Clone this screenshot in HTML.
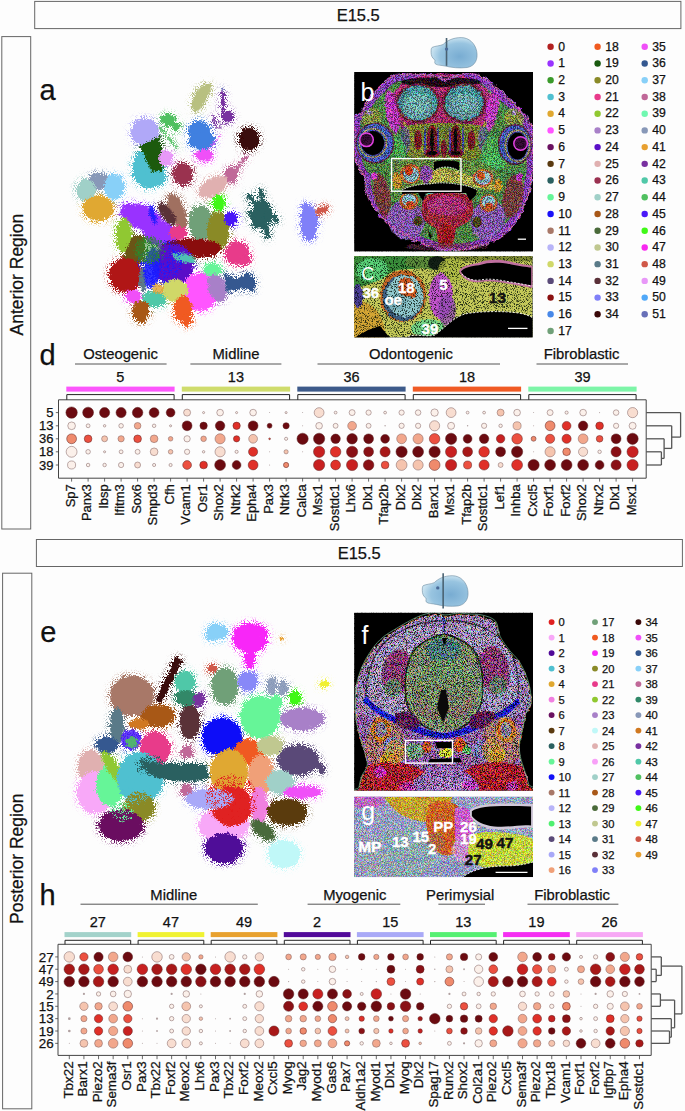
<!DOCTYPE html>
<html><head><meta charset="utf-8"><title>E15.5 figure</title>
<style>html,body{margin:0;padding:0;background:#fdfdfd;} body{width:685px;height:1111px;overflow:hidden;font-family:"Liberation Sans", sans-serif;} svg{display:block;}</style>
</head><body>
<svg width="685" height="1111" viewBox="0 0 685 1111" font-family="&quot;Liberation Sans&quot;, sans-serif"><defs>
<filter id="rough" x="-30%" y="-30%" width="160%" height="160%">
<feTurbulence type="fractalNoise" baseFrequency="0.35" numOctaves="2" seed="3" result="n"/>
<feDisplacementMap in="SourceGraphic" in2="n" scale="4" xChannelSelector="R" yChannelSelector="G"/>
</filter>
<filter id="spray" x="-5%" y="-5%" width="110%" height="110%">
<feTurbulence type="fractalNoise" baseFrequency="0.9" numOctaves="1" seed="13" result="n"/>
<feDisplacementMap in="SourceGraphic" in2="n" scale="7" xChannelSelector="R" yChannelSelector="G"/>
</filter>
<filter id="halo" x="-10%" y="-10%" width="120%" height="120%" color-interpolation-filters="sRGB">
<feGaussianBlur in="SourceGraphic" stdDeviation="3.5" result="bl"/>
<feTurbulence type="fractalNoise" baseFrequency="1.1" numOctaves="1" seed="9" result="n"/>
<feColorMatrix in="n" type="matrix" values="0 0 0 0 0  0 0 0 0 0  0 0 0 0 0  14 0 0 0 -7.6" result="nm"/>
<feComposite in="bl" in2="nm" operator="in" result="sp"/>
<feColorMatrix in="sp" type="matrix" values="1 0 0 0 0  0 1 0 0 0  0 0 1 0 0  0 0 0 4 0"/>
</filter>
<filter id="sparse" x="-20%" y="-20%" width="140%" height="140%">
<feTurbulence type="fractalNoise" baseFrequency="1.3" numOctaves="1" seed="21" result="n"/>
<feColorMatrix in="n" type="matrix" values="0 0 0 0 0  0 0 0 0 0  0 0 0 0 0  10 0 0 0 -5.2" result="nm"/>
<feComposite in="SourceGraphic" in2="nm" operator="in"/>
</filter>
<filter id="rough2" x="-10%" y="-10%" width="120%" height="120%">
<feTurbulence type="fractalNoise" baseFrequency="0.2" numOctaves="2" seed="7" result="n"/>
<feDisplacementMap in="SourceGraphic" in2="n" scale="5" xChannelSelector="R" yChannelSelector="G"/>
</filter>
<filter id="speck" x="0" y="0" width="100%" height="100%">
<feTurbulence type="fractalNoise" baseFrequency="1.1" numOctaves="2" seed="11" result="t"/>
<feColorMatrix in="t" type="matrix" values="0 0 0 0 0  0 0 0 0 0  0 0 0 0 0  7 0 0 0 -3.3" result="m"/>
<feFlood flood-color="#000"/>
<feComposite in2="m" operator="in"/>
</filter>
<filter id="speck2" x="0" y="0" width="100%" height="100%">
<feTurbulence type="fractalNoise" baseFrequency="1.1" numOctaves="2" seed="19" result="t"/>
<feColorMatrix in="t" type="matrix" values="0 0 0 0 0  0 0 0 0 0  0 0 0 0 0  6 0 0 0 -3.0" result="m"/>
<feFlood flood-color="#000"/>
<feComposite in2="m" operator="in"/>
</filter>
<filter id="speckG" x="0" y="0" width="100%" height="100%">
<feTurbulence type="fractalNoise" baseFrequency="1.0" numOctaves="2" seed="29" result="t"/>
<feColorMatrix in="t" type="matrix" values="0 0 0 0 0  0 0 0 0 0  0 0 0 0 0  8 0 0 0 -3.7" result="m"/>
<feFlood flood-color="#48e070"/>
<feComposite in2="m" operator="in"/>
</filter>
<filter id="conf" x="0" y="0" width="100%" height="100%" color-interpolation-filters="sRGB">
<feTurbulence type="fractalNoise" baseFrequency="1.3" numOctaves="1" seed="5" result="t"/>
<feColorMatrix in="t" type="matrix" values="5 0 0 0 -2  0 5 0 0 -2  0 0 5 0 -2  0 0 0 0 1" result="c"/>
<feComposite in="c" in2="SourceGraphic" operator="arithmetic" k1="0" k2="0.45" k3="1" k4="-0.225" result="m"/>
<feComposite in="m" in2="SourceAlpha" operator="in"/>
</filter>
<filter id="conf2" x="0" y="0" width="100%" height="100%" color-interpolation-filters="sRGB">
<feTurbulence type="fractalNoise" baseFrequency="1.3" numOctaves="1" seed="5" result="t"/>
<feColorMatrix in="t" type="matrix" values="5 0 0 0 -2  0 5 0 0 -2  0 0 5 0 -2  0 0 0 0 1" result="c"/>
<feComposite in="c" in2="SourceGraphic" operator="arithmetic" k1="0" k2="0.3" k3="1" k4="-0.15" result="m"/>
<feComposite in="m" in2="SourceAlpha" operator="in"/>
</filter>
<filter id="confetti" x="0" y="0" width="100%" height="100%">
<feTurbulence type="fractalNoise" baseFrequency="0.9" numOctaves="1" seed="4" result="t"/>
<feColorMatrix in="t" type="matrix" values="3 0 0 0 -1  0 3 0 0 -1  0 0 3 0 -1  0 0 0 0 1" result="c"/>
<feComposite in="c" in2="SourceGraphic" operator="in"/>
</filter>
<radialGradient id="headg" cx="0.62" cy="0.62" r="0.62"><stop offset="0" stop-color="#78acd2"/><stop offset="0.7" stop-color="#98c4e0"/><stop offset="1" stop-color="#c8e2f0"/></radialGradient>
<clipPath id="clipb"><rect x="354.2" y="72" width="178.8" height="179.4"/></clipPath>
<clipPath id="clipc"><rect x="354.2" y="256.3" width="178.3" height="81"/></clipPath>
<clipPath id="clipf"><rect x="354.2" y="612.8" width="178.8" height="177.8"/></clipPath>
<clipPath id="clipg"><rect x="354.2" y="796.7" width="178.8" height="80.4"/></clipPath>
</defs>
<rect x="34.7" y="1.4" width="646.2" height="27.2" fill="none" stroke="#666" stroke-width="1"/>
<text x="358.2" y="21.4" font-size="16.5" text-anchor="middle" fill="#111" stroke="#111" stroke-width="0.25" >E15.5</text>
<rect x="1.8" y="36.6" width="28.9" height="492.4" fill="none" stroke="#666" stroke-width="1"/>
<text transform="translate(22.6,274.6) rotate(-90)" font-size="17.5" text-anchor="middle" fill="#111" stroke="#111" stroke-width="0.25">Anterior Region</text>
<rect x="36.4" y="539.5" width="646" height="27" fill="none" stroke="#666" stroke-width="1"/>
<text x="359.2" y="559.3" font-size="16.5" text-anchor="middle" fill="#111" stroke="#111" stroke-width="0.25" >E15.5</text>
<rect x="2.6" y="573.2" width="29.2" height="535.6" fill="none" stroke="#666" stroke-width="1"/>
<text transform="translate(22.6,858.8) rotate(-90)" font-size="17.5" text-anchor="middle" fill="#111" stroke="#111" stroke-width="0.25">Posterior Region</text>
<text x="39.6" y="99.6" font-size="29" text-anchor="start" fill="#111" stroke="#111" stroke-width="0.25" >a</text>
<text x="39.6" y="364.6" font-size="29" text-anchor="start" fill="#111" stroke="#111" stroke-width="0.25" >d</text>
<text x="40.2" y="642.1" font-size="29" text-anchor="start" fill="#111" stroke="#111" stroke-width="0.25" >e</text>
<text x="39.4" y="905.0" font-size="29" text-anchor="start" fill="#111" stroke="#111" stroke-width="0.25" >h</text>
<g filter="url(#halo)"><ellipse cx="200" cy="98" rx="6.5" ry="14.5" fill="#b8c080" transform="rotate(25 200 98)" filter="url(#rough)"/>
<ellipse cx="207" cy="90" rx="4" ry="7" fill="#b8c080" transform="rotate(30 207 90)" filter="url(#rough)"/>
<line x1="222" y1="93" x2="224" y2="118" stroke="#7830a0" stroke-width="3.6" stroke-linecap="round" filter="url(#rough)"/>
<ellipse cx="228" cy="117" rx="5.5" ry="5.5" fill="#7830a0" filter="url(#rough)"/>
<line x1="213" y1="117" x2="216" y2="127" stroke="#7830a0" stroke-width="2.2" stroke-linecap="round" opacity="0.8" filter="url(#rough)"/>
<line x1="218" y1="121" x2="220" y2="128" stroke="#7830a0" stroke-width="1.8" stroke-linecap="round" opacity="0.7" filter="url(#rough)"/>
<ellipse cx="222.6" cy="88.6" rx="1.4" ry="1.4" fill="#6870b8"/>
<ellipse cx="145" cy="132" rx="14" ry="14" fill="#b0a8f8" filter="url(#rough)"/>
<ellipse cx="168" cy="120" rx="7" ry="6" fill="#50c060" filter="url(#rough)"/>
<ellipse cx="176" cy="127" rx="4" ry="4" fill="#50c060" filter="url(#rough)"/>
<line x1="160" y1="128" x2="177" y2="148" stroke="#50c060" stroke-width="2.6" stroke-linecap="round" opacity="0.85" filter="url(#rough)"/>
<ellipse cx="199" cy="131" rx="11" ry="10" fill="#4080e0" filter="url(#rough)"/>
<ellipse cx="202" cy="141" rx="13" ry="9" fill="#4080e0" filter="url(#rough)"/>
<ellipse cx="204" cy="155" rx="9" ry="5.5" fill="#f050f8" filter="url(#rough)"/>
<line x1="208" y1="150" x2="221" y2="135" stroke="#f050f8" stroke-width="1.6" stroke-linecap="round" opacity="0.7" filter="url(#rough)"/>
<ellipse cx="149" cy="168" rx="16" ry="20" fill="#50c0d0" filter="url(#rough)"/>
<ellipse cx="156" cy="176" rx="10" ry="10" fill="#50c0d0" filter="url(#rough)"/>
<path d="M140 146 L160 136 L163 170 L152 172 L146 160 Z" fill="#1a5a10" filter="url(#rough)"/>
<ellipse cx="166" cy="158" rx="7" ry="8" fill="#e898f8" filter="url(#rough)"/>
<ellipse cx="183" cy="174" rx="10" ry="11" fill="#9a3050" filter="url(#rough)"/>
<line x1="190" y1="171" x2="213" y2="171" stroke="#9a3050" stroke-width="2" stroke-linecap="round" opacity="0.7" filter="url(#rough)"/>
<ellipse cx="249" cy="139" rx="10" ry="11" fill="#3a0808" filter="url(#rough)"/>
<ellipse cx="242" cy="136" rx="3" ry="3" fill="#3a0808" filter="url(#rough)"/>
<ellipse cx="231" cy="175" rx="6" ry="8" fill="#c06898" filter="url(#rough)"/>
<line x1="234" y1="172" x2="247" y2="156" stroke="#c06898" stroke-width="3" stroke-linecap="round" filter="url(#rough)"/>
<ellipse cx="213" cy="187" rx="16" ry="9" fill="#e0b0b0" transform="rotate(-30 213 187)" filter="url(#rough)"/>
<ellipse cx="99" cy="181" rx="11" ry="8" fill="#8898b8" filter="url(#rough)"/>
<ellipse cx="86" cy="190" rx="10" ry="11" fill="#a0d0c8" filter="url(#rough)"/>
<ellipse cx="114" cy="187" rx="10" ry="13" fill="#88d0f8" filter="url(#rough)"/>
<ellipse cx="98" cy="208" rx="15.5" ry="12.5" fill="#e0a830" filter="url(#rough)"/>
<ellipse cx="262" cy="214" rx="10" ry="15" fill="#2a6060" filter="url(#rough)"/>
<line x1="249" y1="196" x2="262" y2="210" stroke="#2a6060" stroke-width="4.5" stroke-linecap="round" filter="url(#rough)"/>
<line x1="260" y1="190" x2="264" y2="208" stroke="#2a6060" stroke-width="4" stroke-linecap="round" filter="url(#rough)"/>
<line x1="266" y1="210" x2="276" y2="220" stroke="#2a6060" stroke-width="5" stroke-linecap="round" filter="url(#rough)"/>
<line x1="264" y1="218" x2="268" y2="236" stroke="#2a6060" stroke-width="5" stroke-linecap="round" filter="url(#rough)"/>
<line x1="250" y1="212" x2="256" y2="226" stroke="#2a6060" stroke-width="4" stroke-linecap="round" filter="url(#rough)"/>
<ellipse cx="309" cy="223" rx="8.5" ry="18" fill="#8080f8" filter="url(#rough)"/>
<ellipse cx="305" cy="208" rx="3" ry="5" fill="#8080f8" filter="url(#rough)"/>
<ellipse cx="322" cy="210.5" rx="7" ry="3.8" fill="#d05848" transform="rotate(-25 322 210.5)" filter="url(#rough)"/>
<ellipse cx="177" cy="212" rx="8" ry="19" fill="#a07060" transform="rotate(-20 177 212)" filter="url(#rough)"/>
<ellipse cx="167" cy="214" rx="5.5" ry="13" fill="#5a3038" transform="rotate(-35 167 214)" filter="url(#rough)"/>
<ellipse cx="201" cy="223" rx="12" ry="17" fill="#70a078" filter="url(#rough)"/>
<ellipse cx="218" cy="231" rx="11" ry="20" fill="#8a8a28" filter="url(#rough)"/>
<ellipse cx="219" cy="203" rx="6" ry="8" fill="#40f818" filter="url(#rough)"/>
<ellipse cx="231" cy="219" rx="7" ry="7" fill="#4a18f8" filter="url(#rough)"/>
<ellipse cx="237" cy="253" rx="12" ry="12" fill="#e83a8a" filter="url(#rough)"/>
<ellipse cx="245" cy="260" rx="5" ry="6" fill="#e83a8a" filter="url(#rough)"/>
<path d="M224 272 L236 280 L248 272 L255 280 L254 292 L244 288 L236 290 L226 292 Z" fill="#345890" filter="url(#rough)"/>
<ellipse cx="141" cy="217" rx="22" ry="12" fill="#9933ff" transform="rotate(22 141 217)" filter="url(#rough)"/>
<ellipse cx="160" cy="234" rx="19" ry="13" fill="#9933ff" transform="rotate(30 160 234)" filter="url(#rough)"/>
<ellipse cx="124" cy="235" rx="8" ry="17" fill="#90c830" filter="url(#rough)"/>
<path d="M122 262 L132 236 L146 236 L144 260 L134 268 Z" fill="#6a5518" filter="url(#rough)"/>
<ellipse cx="126" cy="275" rx="17" ry="17" fill="#b01818" filter="url(#rough)"/>
<ellipse cx="143" cy="280" rx="4" ry="12" fill="#5a7a88" filter="url(#rough)"/>
<ellipse cx="194" cy="248" rx="27" ry="9.5" fill="#8a1010" filter="url(#rough)"/>
<ellipse cx="172" cy="249" rx="10" ry="8" fill="#601048" opacity="0.9" filter="url(#rough)"/>
<ellipse cx="178" cy="233" rx="9" ry="7" fill="#e83a8a" filter="url(#rough)"/>
<ellipse cx="173" cy="264" rx="21" ry="20" fill="#5a10c8" filter="url(#rough)"/>
<ellipse cx="152" cy="268" rx="8" ry="20" fill="#1a1aff" transform="rotate(5 152 268)" opacity="0.9" filter="url(#rough)"/>
<ellipse cx="153" cy="215" rx="3" ry="10" fill="#1a1aff" transform="rotate(-15 153 215)" opacity="0.9" filter="url(#rough)"/>
<ellipse cx="148" cy="250" rx="13" ry="13" fill="#2a8a2a" opacity="0.5" filter="url(#rough)"/>
<ellipse cx="184" cy="258" rx="12" ry="4.5" fill="#50e0b0" transform="rotate(12 184 258)" opacity="0.85" filter="url(#rough)"/>
<ellipse cx="212" cy="270" rx="9" ry="7" fill="#66f598" filter="url(#rough)"/>
<ellipse cx="200" cy="292" rx="18" ry="19" fill="#ff55ff" filter="url(#rough)"/>
<ellipse cx="217" cy="288" rx="9" ry="14" fill="#a880c8" transform="rotate(-20 217 288)" filter="url(#rough)"/>
<ellipse cx="133" cy="296" rx="8" ry="7" fill="#f050f8" filter="url(#rough)"/>
<ellipse cx="154" cy="299" rx="12" ry="8" fill="#50c8a8" filter="url(#rough)"/>
<ellipse cx="175" cy="290" rx="13" ry="11" fill="#d0d868" filter="url(#rough)"/>
<ellipse cx="158" cy="289" rx="6" ry="5" fill="#e0a030" opacity="0.8" filter="url(#rough)"/>
<ellipse cx="160" cy="262" rx="22" ry="22" fill="#1a1aff" filter="url(#sparse)"/>
<ellipse cx="150" cy="250" rx="16" ry="14" fill="#2a8a2a" filter="url(#sparse)"/>
<ellipse cx="141" cy="311" rx="8.5" ry="11" fill="#a85818" filter="url(#rough)"/>
<ellipse cx="183" cy="309" rx="9" ry="13" fill="#f05a20" filter="url(#rough)"/>
<ellipse cx="187" cy="320" rx="5" ry="6" fill="#f05a20" filter="url(#rough)"/></g>
<g filter="url(#halo)"><ellipse cx="217" cy="632" rx="11" ry="8" fill="#88d0f8" filter="url(#rough)"/>
<ellipse cx="210" cy="638" rx="4" ry="3" fill="#88d0f8" filter="url(#rough)"/>
<ellipse cx="250" cy="638" rx="17" ry="15" fill="#f828f8" filter="url(#rough)"/>
<ellipse cx="262" cy="632" rx="6" ry="5" fill="#f828f8" filter="url(#rough)"/>
<ellipse cx="250" cy="658" rx="5" ry="11" fill="#f828f8" filter="url(#rough)"/>
<ellipse cx="281.5" cy="638.5" rx="1.8" ry="1.8" fill="#e8a030"/>
<ellipse cx="212" cy="669" rx="5" ry="4" fill="#d05848" filter="url(#rough)"/>
<ellipse cx="225" cy="686" rx="13" ry="18" fill="#70a078" filter="url(#rough)"/>
<ellipse cx="248" cy="681" rx="10" ry="10" fill="#8888f8" filter="url(#rough)"/>
<ellipse cx="272" cy="686" rx="5" ry="9" fill="#8898b8" opacity="0.9" filter="url(#rough)"/>
<ellipse cx="283" cy="688" rx="5" ry="8" fill="#8898b8" opacity="0.9" filter="url(#rough)"/>
<ellipse cx="295" cy="698" rx="6" ry="7" fill="#40f818" filter="url(#rough)"/>
<ellipse cx="324" cy="684" rx="5" ry="3" fill="#f0f030" filter="url(#rough)"/>
<ellipse cx="260" cy="717" rx="20" ry="21" fill="#66f598" filter="url(#rough)"/>
<ellipse cx="276" cy="702" rx="6" ry="8" fill="#66f598" filter="url(#rough)"/>
<ellipse cx="302" cy="719" rx="22" ry="11" fill="#a880c8" filter="url(#rough)"/>
<ellipse cx="222" cy="737" rx="20" ry="19" fill="#1010f8" filter="url(#rough)"/>
<ellipse cx="190" cy="722" rx="10" ry="17" fill="#5a3038" filter="url(#rough)"/>
<ellipse cx="132" cy="696" rx="22" ry="20" fill="#a87868" filter="url(#rough)"/>
<line x1="178" y1="661" x2="160" y2="699" stroke="#3a0808" stroke-width="7" stroke-linecap="round" filter="url(#rough)"/>
<ellipse cx="185" cy="682" rx="10" ry="11" fill="#50c8a8" filter="url(#rough)"/>
<ellipse cx="186" cy="698" rx="11" ry="8" fill="#308868" filter="url(#rough)"/>
<ellipse cx="199" cy="700" rx="6" ry="7" fill="#7830a0" filter="url(#rough)"/>
<ellipse cx="158" cy="716" rx="17" ry="11" fill="#a85818" filter="url(#rough)"/>
<ellipse cx="139" cy="724" rx="10" ry="5" fill="#d07820" filter="url(#rough)"/>
<ellipse cx="117" cy="726" rx="7" ry="18" fill="#5a7a88" filter="url(#rough)"/>
<ellipse cx="131" cy="740" rx="10" ry="10" fill="#4a18f8" opacity="0.85" filter="url(#rough)"/>
<ellipse cx="132" cy="742" rx="6" ry="6" fill="#50c060" opacity="0.9" filter="url(#rough)"/>
<ellipse cx="155" cy="749" rx="15" ry="17" fill="#e83a8a" filter="url(#rough)"/>
<ellipse cx="107" cy="745" rx="11" ry="8" fill="#345890" filter="url(#rough)"/>
<ellipse cx="187" cy="752" rx="6" ry="6" fill="#c06898" filter="url(#rough)"/>
<ellipse cx="91" cy="766" rx="13" ry="16" fill="#e0b0b0" filter="url(#rough)"/>
<ellipse cx="96" cy="792" rx="19" ry="21" fill="#f8a8f8" filter="url(#rough)"/>
<ellipse cx="110" cy="786" rx="14" ry="20" fill="#66f598" filter="url(#rough)"/>
<ellipse cx="113" cy="768" rx="6" ry="20" fill="#90c830" transform="rotate(-32 113 768)" filter="url(#rough)"/>
<ellipse cx="140" cy="778" rx="23" ry="26" fill="#50c0d0" filter="url(#rough)"/>
<path d="M140 760 C160 764 180 764 205 764 L210 778 C190 784 170 782 150 776 Z" fill="#2a6060" filter="url(#rough)"/>
<ellipse cx="139" cy="807" rx="15" ry="15" fill="#8a8a28" filter="url(#rough)"/>
<ellipse cx="121" cy="825" rx="22" ry="16" fill="#6a1060" filter="url(#rough)"/>
<ellipse cx="248" cy="752" rx="15" ry="13" fill="#f05a20" filter="url(#rough)"/>
<ellipse cx="270" cy="746" rx="13" ry="10" fill="#c0c890" filter="url(#rough)"/>
<ellipse cx="298" cy="760" rx="20" ry="15" fill="#5a4a78" filter="url(#rough)"/>
<line x1="310" y1="752" x2="322" y2="770" stroke="#5a4a78" stroke-width="6" stroke-linecap="round" filter="url(#rough)"/>
<ellipse cx="229" cy="772" rx="19" ry="23" fill="#e0a830" filter="url(#rough)"/>
<ellipse cx="261" cy="775" rx="13" ry="20" fill="#f0a078" filter="url(#rough)"/>
<ellipse cx="280" cy="782" rx="14" ry="12" fill="#a0d0c8" filter="url(#rough)"/>
<ellipse cx="302" cy="792" rx="19" ry="6" fill="#f050f8" filter="url(#rough)"/>
<ellipse cx="186" cy="790" rx="6" ry="6" fill="#c06898" filter="url(#rough)"/>
<ellipse cx="224" cy="825" rx="25" ry="17" fill="#f8a8f8" filter="url(#rough)"/>
<ellipse cx="232" cy="806" rx="20" ry="20" fill="#e02020" filter="url(#rough)"/>
<ellipse cx="210" cy="799" rx="24" ry="10" fill="#a8a8f8" filter="url(#rough)"/>
<ellipse cx="259" cy="805" rx="9" ry="18" fill="#f080e0" filter="url(#rough)"/>
<ellipse cx="287" cy="812" rx="20" ry="13" fill="#5a3a10" filter="url(#rough)"/>
<ellipse cx="263" cy="830" rx="14" ry="7" fill="#4a6a3a" transform="rotate(40 263 830)" filter="url(#rough)"/>
<ellipse cx="232" cy="800" rx="26" ry="26" fill="#e02020" filter="url(#sparse)"/>
<ellipse cx="224" cy="848" rx="19" ry="15" fill="#500898" filter="url(#rough)"/>
<ellipse cx="136" cy="790" rx="14" ry="14" fill="#50c0d0" filter="url(#sparse)"/>
<ellipse cx="122" cy="812" rx="12" ry="10" fill="#66f598" filter="url(#sparse)"/>
<ellipse cx="150" cy="765" rx="16" ry="10" fill="#2a6060" filter="url(#sparse)"/>
<ellipse cx="284" cy="854" rx="16" ry="14" fill="#c0f8f8" filter="url(#rough)"/></g>
<g filter="url(#spray)"><ellipse cx="200" cy="98" rx="6.5" ry="14.5" fill="#b8c080" transform="rotate(25 200 98)" filter="url(#rough)"/>
<ellipse cx="207" cy="90" rx="4" ry="7" fill="#b8c080" transform="rotate(30 207 90)" filter="url(#rough)"/>
<line x1="222" y1="93" x2="224" y2="118" stroke="#7830a0" stroke-width="3.6" stroke-linecap="round" filter="url(#rough)"/>
<ellipse cx="228" cy="117" rx="5.5" ry="5.5" fill="#7830a0" filter="url(#rough)"/>
<line x1="213" y1="117" x2="216" y2="127" stroke="#7830a0" stroke-width="2.2" stroke-linecap="round" opacity="0.8" filter="url(#rough)"/>
<line x1="218" y1="121" x2="220" y2="128" stroke="#7830a0" stroke-width="1.8" stroke-linecap="round" opacity="0.7" filter="url(#rough)"/>
<ellipse cx="222.6" cy="88.6" rx="1.4" ry="1.4" fill="#6870b8"/>
<ellipse cx="145" cy="132" rx="14" ry="14" fill="#b0a8f8" filter="url(#rough)"/>
<ellipse cx="168" cy="120" rx="7" ry="6" fill="#50c060" filter="url(#rough)"/>
<ellipse cx="176" cy="127" rx="4" ry="4" fill="#50c060" filter="url(#rough)"/>
<line x1="160" y1="128" x2="177" y2="148" stroke="#50c060" stroke-width="2.6" stroke-linecap="round" opacity="0.85" filter="url(#rough)"/>
<ellipse cx="199" cy="131" rx="11" ry="10" fill="#4080e0" filter="url(#rough)"/>
<ellipse cx="202" cy="141" rx="13" ry="9" fill="#4080e0" filter="url(#rough)"/>
<ellipse cx="204" cy="155" rx="9" ry="5.5" fill="#f050f8" filter="url(#rough)"/>
<line x1="208" y1="150" x2="221" y2="135" stroke="#f050f8" stroke-width="1.6" stroke-linecap="round" opacity="0.7" filter="url(#rough)"/>
<ellipse cx="149" cy="168" rx="16" ry="20" fill="#50c0d0" filter="url(#rough)"/>
<ellipse cx="156" cy="176" rx="10" ry="10" fill="#50c0d0" filter="url(#rough)"/>
<path d="M140 146 L160 136 L163 170 L152 172 L146 160 Z" fill="#1a5a10" filter="url(#rough)"/>
<ellipse cx="166" cy="158" rx="7" ry="8" fill="#e898f8" filter="url(#rough)"/>
<ellipse cx="183" cy="174" rx="10" ry="11" fill="#9a3050" filter="url(#rough)"/>
<line x1="190" y1="171" x2="213" y2="171" stroke="#9a3050" stroke-width="2" stroke-linecap="round" opacity="0.7" filter="url(#rough)"/>
<ellipse cx="249" cy="139" rx="10" ry="11" fill="#3a0808" filter="url(#rough)"/>
<ellipse cx="242" cy="136" rx="3" ry="3" fill="#3a0808" filter="url(#rough)"/>
<ellipse cx="231" cy="175" rx="6" ry="8" fill="#c06898" filter="url(#rough)"/>
<line x1="234" y1="172" x2="247" y2="156" stroke="#c06898" stroke-width="3" stroke-linecap="round" filter="url(#rough)"/>
<ellipse cx="213" cy="187" rx="16" ry="9" fill="#e0b0b0" transform="rotate(-30 213 187)" filter="url(#rough)"/>
<ellipse cx="99" cy="181" rx="11" ry="8" fill="#8898b8" filter="url(#rough)"/>
<ellipse cx="86" cy="190" rx="10" ry="11" fill="#a0d0c8" filter="url(#rough)"/>
<ellipse cx="114" cy="187" rx="10" ry="13" fill="#88d0f8" filter="url(#rough)"/>
<ellipse cx="98" cy="208" rx="15.5" ry="12.5" fill="#e0a830" filter="url(#rough)"/>
<ellipse cx="262" cy="214" rx="10" ry="15" fill="#2a6060" filter="url(#rough)"/>
<line x1="249" y1="196" x2="262" y2="210" stroke="#2a6060" stroke-width="4.5" stroke-linecap="round" filter="url(#rough)"/>
<line x1="260" y1="190" x2="264" y2="208" stroke="#2a6060" stroke-width="4" stroke-linecap="round" filter="url(#rough)"/>
<line x1="266" y1="210" x2="276" y2="220" stroke="#2a6060" stroke-width="5" stroke-linecap="round" filter="url(#rough)"/>
<line x1="264" y1="218" x2="268" y2="236" stroke="#2a6060" stroke-width="5" stroke-linecap="round" filter="url(#rough)"/>
<line x1="250" y1="212" x2="256" y2="226" stroke="#2a6060" stroke-width="4" stroke-linecap="round" filter="url(#rough)"/>
<ellipse cx="309" cy="223" rx="8.5" ry="18" fill="#8080f8" filter="url(#rough)"/>
<ellipse cx="305" cy="208" rx="3" ry="5" fill="#8080f8" filter="url(#rough)"/>
<ellipse cx="322" cy="210.5" rx="7" ry="3.8" fill="#d05848" transform="rotate(-25 322 210.5)" filter="url(#rough)"/>
<ellipse cx="177" cy="212" rx="8" ry="19" fill="#a07060" transform="rotate(-20 177 212)" filter="url(#rough)"/>
<ellipse cx="167" cy="214" rx="5.5" ry="13" fill="#5a3038" transform="rotate(-35 167 214)" filter="url(#rough)"/>
<ellipse cx="201" cy="223" rx="12" ry="17" fill="#70a078" filter="url(#rough)"/>
<ellipse cx="218" cy="231" rx="11" ry="20" fill="#8a8a28" filter="url(#rough)"/>
<ellipse cx="219" cy="203" rx="6" ry="8" fill="#40f818" filter="url(#rough)"/>
<ellipse cx="231" cy="219" rx="7" ry="7" fill="#4a18f8" filter="url(#rough)"/>
<ellipse cx="237" cy="253" rx="12" ry="12" fill="#e83a8a" filter="url(#rough)"/>
<ellipse cx="245" cy="260" rx="5" ry="6" fill="#e83a8a" filter="url(#rough)"/>
<path d="M224 272 L236 280 L248 272 L255 280 L254 292 L244 288 L236 290 L226 292 Z" fill="#345890" filter="url(#rough)"/>
<ellipse cx="141" cy="217" rx="22" ry="12" fill="#9933ff" transform="rotate(22 141 217)" filter="url(#rough)"/>
<ellipse cx="160" cy="234" rx="19" ry="13" fill="#9933ff" transform="rotate(30 160 234)" filter="url(#rough)"/>
<ellipse cx="124" cy="235" rx="8" ry="17" fill="#90c830" filter="url(#rough)"/>
<path d="M122 262 L132 236 L146 236 L144 260 L134 268 Z" fill="#6a5518" filter="url(#rough)"/>
<ellipse cx="126" cy="275" rx="17" ry="17" fill="#b01818" filter="url(#rough)"/>
<ellipse cx="143" cy="280" rx="4" ry="12" fill="#5a7a88" filter="url(#rough)"/>
<ellipse cx="194" cy="248" rx="27" ry="9.5" fill="#8a1010" filter="url(#rough)"/>
<ellipse cx="172" cy="249" rx="10" ry="8" fill="#601048" opacity="0.9" filter="url(#rough)"/>
<ellipse cx="178" cy="233" rx="9" ry="7" fill="#e83a8a" filter="url(#rough)"/>
<ellipse cx="173" cy="264" rx="21" ry="20" fill="#5a10c8" filter="url(#rough)"/>
<ellipse cx="152" cy="268" rx="8" ry="20" fill="#1a1aff" transform="rotate(5 152 268)" opacity="0.9" filter="url(#rough)"/>
<ellipse cx="153" cy="215" rx="3" ry="10" fill="#1a1aff" transform="rotate(-15 153 215)" opacity="0.9" filter="url(#rough)"/>
<ellipse cx="148" cy="250" rx="13" ry="13" fill="#2a8a2a" opacity="0.5" filter="url(#rough)"/>
<ellipse cx="184" cy="258" rx="12" ry="4.5" fill="#50e0b0" transform="rotate(12 184 258)" opacity="0.85" filter="url(#rough)"/>
<ellipse cx="212" cy="270" rx="9" ry="7" fill="#66f598" filter="url(#rough)"/>
<ellipse cx="200" cy="292" rx="18" ry="19" fill="#ff55ff" filter="url(#rough)"/>
<ellipse cx="217" cy="288" rx="9" ry="14" fill="#a880c8" transform="rotate(-20 217 288)" filter="url(#rough)"/>
<ellipse cx="133" cy="296" rx="8" ry="7" fill="#f050f8" filter="url(#rough)"/>
<ellipse cx="154" cy="299" rx="12" ry="8" fill="#50c8a8" filter="url(#rough)"/>
<ellipse cx="175" cy="290" rx="13" ry="11" fill="#d0d868" filter="url(#rough)"/>
<ellipse cx="158" cy="289" rx="6" ry="5" fill="#e0a030" opacity="0.8" filter="url(#rough)"/>
<ellipse cx="160" cy="262" rx="22" ry="22" fill="#1a1aff" filter="url(#sparse)"/>
<ellipse cx="150" cy="250" rx="16" ry="14" fill="#2a8a2a" filter="url(#sparse)"/>
<ellipse cx="141" cy="311" rx="8.5" ry="11" fill="#a85818" filter="url(#rough)"/>
<ellipse cx="183" cy="309" rx="9" ry="13" fill="#f05a20" filter="url(#rough)"/>
<ellipse cx="187" cy="320" rx="5" ry="6" fill="#f05a20" filter="url(#rough)"/></g>
<g filter="url(#spray)"><ellipse cx="217" cy="632" rx="11" ry="8" fill="#88d0f8" filter="url(#rough)"/>
<ellipse cx="210" cy="638" rx="4" ry="3" fill="#88d0f8" filter="url(#rough)"/>
<ellipse cx="250" cy="638" rx="17" ry="15" fill="#f828f8" filter="url(#rough)"/>
<ellipse cx="262" cy="632" rx="6" ry="5" fill="#f828f8" filter="url(#rough)"/>
<ellipse cx="250" cy="658" rx="5" ry="11" fill="#f828f8" filter="url(#rough)"/>
<ellipse cx="281.5" cy="638.5" rx="1.8" ry="1.8" fill="#e8a030"/>
<ellipse cx="212" cy="669" rx="5" ry="4" fill="#d05848" filter="url(#rough)"/>
<ellipse cx="225" cy="686" rx="13" ry="18" fill="#70a078" filter="url(#rough)"/>
<ellipse cx="248" cy="681" rx="10" ry="10" fill="#8888f8" filter="url(#rough)"/>
<ellipse cx="272" cy="686" rx="5" ry="9" fill="#8898b8" opacity="0.9" filter="url(#rough)"/>
<ellipse cx="283" cy="688" rx="5" ry="8" fill="#8898b8" opacity="0.9" filter="url(#rough)"/>
<ellipse cx="295" cy="698" rx="6" ry="7" fill="#40f818" filter="url(#rough)"/>
<ellipse cx="324" cy="684" rx="5" ry="3" fill="#f0f030" filter="url(#rough)"/>
<ellipse cx="260" cy="717" rx="20" ry="21" fill="#66f598" filter="url(#rough)"/>
<ellipse cx="276" cy="702" rx="6" ry="8" fill="#66f598" filter="url(#rough)"/>
<ellipse cx="302" cy="719" rx="22" ry="11" fill="#a880c8" filter="url(#rough)"/>
<ellipse cx="222" cy="737" rx="20" ry="19" fill="#1010f8" filter="url(#rough)"/>
<ellipse cx="190" cy="722" rx="10" ry="17" fill="#5a3038" filter="url(#rough)"/>
<ellipse cx="132" cy="696" rx="22" ry="20" fill="#a87868" filter="url(#rough)"/>
<line x1="178" y1="661" x2="160" y2="699" stroke="#3a0808" stroke-width="7" stroke-linecap="round" filter="url(#rough)"/>
<ellipse cx="185" cy="682" rx="10" ry="11" fill="#50c8a8" filter="url(#rough)"/>
<ellipse cx="186" cy="698" rx="11" ry="8" fill="#308868" filter="url(#rough)"/>
<ellipse cx="199" cy="700" rx="6" ry="7" fill="#7830a0" filter="url(#rough)"/>
<ellipse cx="158" cy="716" rx="17" ry="11" fill="#a85818" filter="url(#rough)"/>
<ellipse cx="139" cy="724" rx="10" ry="5" fill="#d07820" filter="url(#rough)"/>
<ellipse cx="117" cy="726" rx="7" ry="18" fill="#5a7a88" filter="url(#rough)"/>
<ellipse cx="131" cy="740" rx="10" ry="10" fill="#4a18f8" opacity="0.85" filter="url(#rough)"/>
<ellipse cx="132" cy="742" rx="6" ry="6" fill="#50c060" opacity="0.9" filter="url(#rough)"/>
<ellipse cx="155" cy="749" rx="15" ry="17" fill="#e83a8a" filter="url(#rough)"/>
<ellipse cx="107" cy="745" rx="11" ry="8" fill="#345890" filter="url(#rough)"/>
<ellipse cx="187" cy="752" rx="6" ry="6" fill="#c06898" filter="url(#rough)"/>
<ellipse cx="91" cy="766" rx="13" ry="16" fill="#e0b0b0" filter="url(#rough)"/>
<ellipse cx="96" cy="792" rx="19" ry="21" fill="#f8a8f8" filter="url(#rough)"/>
<ellipse cx="110" cy="786" rx="14" ry="20" fill="#66f598" filter="url(#rough)"/>
<ellipse cx="113" cy="768" rx="6" ry="20" fill="#90c830" transform="rotate(-32 113 768)" filter="url(#rough)"/>
<ellipse cx="140" cy="778" rx="23" ry="26" fill="#50c0d0" filter="url(#rough)"/>
<path d="M140 760 C160 764 180 764 205 764 L210 778 C190 784 170 782 150 776 Z" fill="#2a6060" filter="url(#rough)"/>
<ellipse cx="139" cy="807" rx="15" ry="15" fill="#8a8a28" filter="url(#rough)"/>
<ellipse cx="121" cy="825" rx="22" ry="16" fill="#6a1060" filter="url(#rough)"/>
<ellipse cx="248" cy="752" rx="15" ry="13" fill="#f05a20" filter="url(#rough)"/>
<ellipse cx="270" cy="746" rx="13" ry="10" fill="#c0c890" filter="url(#rough)"/>
<ellipse cx="298" cy="760" rx="20" ry="15" fill="#5a4a78" filter="url(#rough)"/>
<line x1="310" y1="752" x2="322" y2="770" stroke="#5a4a78" stroke-width="6" stroke-linecap="round" filter="url(#rough)"/>
<ellipse cx="229" cy="772" rx="19" ry="23" fill="#e0a830" filter="url(#rough)"/>
<ellipse cx="261" cy="775" rx="13" ry="20" fill="#f0a078" filter="url(#rough)"/>
<ellipse cx="280" cy="782" rx="14" ry="12" fill="#a0d0c8" filter="url(#rough)"/>
<ellipse cx="302" cy="792" rx="19" ry="6" fill="#f050f8" filter="url(#rough)"/>
<ellipse cx="186" cy="790" rx="6" ry="6" fill="#c06898" filter="url(#rough)"/>
<ellipse cx="224" cy="825" rx="25" ry="17" fill="#f8a8f8" filter="url(#rough)"/>
<ellipse cx="232" cy="806" rx="20" ry="20" fill="#e02020" filter="url(#rough)"/>
<ellipse cx="210" cy="799" rx="24" ry="10" fill="#a8a8f8" filter="url(#rough)"/>
<ellipse cx="259" cy="805" rx="9" ry="18" fill="#f080e0" filter="url(#rough)"/>
<ellipse cx="287" cy="812" rx="20" ry="13" fill="#5a3a10" filter="url(#rough)"/>
<ellipse cx="263" cy="830" rx="14" ry="7" fill="#4a6a3a" transform="rotate(40 263 830)" filter="url(#rough)"/>
<ellipse cx="232" cy="800" rx="26" ry="26" fill="#e02020" filter="url(#sparse)"/>
<ellipse cx="224" cy="848" rx="19" ry="15" fill="#500898" filter="url(#rough)"/>
<ellipse cx="136" cy="790" rx="14" ry="14" fill="#50c0d0" filter="url(#sparse)"/>
<ellipse cx="122" cy="812" rx="12" ry="10" fill="#66f598" filter="url(#sparse)"/>
<ellipse cx="150" cy="765" rx="16" ry="10" fill="#2a6060" filter="url(#sparse)"/>
<ellipse cx="284" cy="854" rx="16" ry="14" fill="#c0f8f8" filter="url(#rough)"/></g>
<g transform="translate(431.1,37.6) scale(1.0021739130434784,0.9806451612903225)">
<path d="M1 10 C4 8.5 9 8.5 12 7 C16 3 22 0 30 0 C38 0 44 6 45.5 14 C47 22 44 29 36 30.5 C28 31.5 20 30.5 14 29 C10 28 6 28.5 4 26.5 C3 25 4.5 23.5 3.5 22.5 C1 21 0 18 0 15 C0 12.5 0 11 1 10 Z" fill="url(#headg)" stroke="#6a8aa0" stroke-width="0.6"/>
<line x1="15.4" y1="0.4" x2="15.4" y2="28.8" stroke="#4a6272" stroke-width="1.6"/>
<circle cx="15.4" cy="11.7" r="1.7" fill="#4a6a98"/>
</g>
<g transform="translate(422.3,575.7) scale(0.9978260869565218,0.9903225806451613)">
<path d="M1 10 C4 8.5 9 8.5 12 7 C16 3 22 0 30 0 C38 0 44 6 45.5 14 C47 22 44 29 36 30.5 C28 31.5 20 30.5 14 29 C10 28 6 28.5 4 26.5 C3 25 4.5 23.5 3.5 22.5 C1 21 0 18 0 15 C0 12.5 0 11 1 10 Z" fill="url(#headg)" stroke="#6a8aa0" stroke-width="0.6"/>
<line x1="20.9" y1="-2.5" x2="20.9" y2="33.2" stroke="#4a6272" stroke-width="1.6"/>
<circle cx="15.5" cy="12.3" r="1.7" fill="#4a6a98"/>
</g>
<rect x="354.2" y="72" width="178.8" height="179.4" fill="#000"/>
<g clip-path="url(#clipb)">
<g filter="url(#conf2)">
<path d="M362 112 C366 102 372 93 381 86 C386 80 390 77 396 75 C410 73 425 74 435 76 C440 78 444 80 447 80 C452 77 460 74 468 73 C478 73 486 78 492 84 C500 91 510 100 518 108 C525 115 530 122 533 130 L533 172 C531 185 527 200 522 210 C517 222 510 230 502 236 C492 242 480 247 468 249 C455 251 442 251 430 246 C418 242 405 236 395 229 C385 222 376 212 370 201 C366 193 365 185 365 176 C358 170 355 160 354 150 L354 118 C356 115 359 113 362 112 Z" fill="#9a48d0" filter="url(#rough2)"/>
<path d="M362 112 C366 102 372 93 381 86 C386 80 390 77 396 75 C410 73 425 74 435 76 C440 78 444 80 447 80 C452 77 460 74 468 73 C478 73 486 78 492 84 C500 91 510 100 518 108 C525 115 530 122 533 130 L533 172 C531 185 527 200 522 210 C517 222 510 230 502 236 C492 242 480 247 468 249 C455 251 442 251 430 246 C418 242 405 236 395 229 C385 222 376 212 370 201 C366 193 365 185 365 176 C358 170 355 160 354 150 L354 118 C356 115 359 113 362 112 Z" fill="#5a9a50" transform="translate(443 162) scale(0.93) translate(-443 -162)"/>
<ellipse cx="372" cy="118" rx="10" ry="10" fill="#a0b050" opacity="0.9" filter="url(#rough)"/>
<ellipse cx="514" cy="118" rx="10" ry="10" fill="#a0b050" opacity="0.9" filter="url(#rough)"/>
<ellipse cx="370" cy="113" rx="2.5" ry="2.5" fill="#c0a0e0" filter="url(#rough)"/>
<ellipse cx="514" cy="113" rx="2.5" ry="2.5" fill="#c0a0e0" filter="url(#rough)"/>
<ellipse cx="441" cy="106" rx="52" ry="33" fill="#c83890" filter="url(#rough)"/>
<ellipse cx="441" cy="108" rx="46" ry="30" fill="#b83070" opacity="0.6" filter="url(#rough)"/>
<ellipse cx="441" cy="82" rx="40" ry="5" fill="#000" opacity="0.8"/>
<ellipse cx="418" cy="103" rx="22" ry="20" fill="#7a2a40" filter="url(#rough)"/>
<ellipse cx="464" cy="103" rx="22" ry="20" fill="#7a2a40" filter="url(#rough)"/>
<ellipse cx="418" cy="103" rx="19.5" ry="17.5" fill="#58a8b0" filter="url(#rough)"/>
<ellipse cx="464" cy="103" rx="19.5" ry="17.5" fill="#58a8b0" filter="url(#rough)"/>
<ellipse cx="418" cy="102" rx="11" ry="10" fill="#60c8c8" opacity="0.9" filter="url(#rough)"/>
<ellipse cx="464" cy="102" rx="11" ry="10" fill="#60c8c8" opacity="0.9" filter="url(#rough)"/>
<ellipse cx="418" cy="106" rx="15" ry="12" fill="#b0c8d0" opacity="0.4" filter="url(#rough)"/>
<ellipse cx="464" cy="106" rx="15" ry="12" fill="#b0c8d0" opacity="0.4" filter="url(#rough)"/>
<ellipse cx="392" cy="112" rx="6" ry="22" fill="#e040e0" transform="rotate(-10 392 112)" opacity="0.9" filter="url(#rough)"/>
<ellipse cx="492" cy="110" rx="6" ry="22" fill="#e040e0" transform="rotate(10 492 110)" opacity="0.9" filter="url(#rough)"/>
<path d="M405 126 C420 122 466 122 482 126 C488 140 484 152 476 160 L412 160 C404 152 400 140 405 126 Z" fill="#8a9838"/>
<ellipse cx="444" cy="142" rx="30" ry="16" fill="#7a9040" opacity="0.7" filter="url(#rough)"/>
<path d="M404 122 C410 140 425 158 444 161 C463 158 478 140 486 122" fill="none" stroke="#b0a840" stroke-width="3"/>
<ellipse cx="418" cy="140" rx="3.8" ry="10" fill="#8a2030"/>
<ellipse cx="471.5" cy="140" rx="3.8" ry="10" fill="#8a2030"/>
<ellipse cx="432" cy="140" rx="5.5" ry="15" fill="#8a2030"/>
<ellipse cx="432" cy="153" rx="8" ry="4.5" fill="#8a2030"/>
<ellipse cx="432" cy="140" rx="1.8" ry="12" fill="#000"/>
<ellipse cx="432" cy="153" rx="5" ry="2" fill="#000"/>
<ellipse cx="455.5" cy="140" rx="5.5" ry="15" fill="#8a2030"/>
<ellipse cx="455.5" cy="153" rx="8" ry="4.5" fill="#8a2030"/>
<ellipse cx="455.5" cy="140" rx="1.8" ry="12" fill="#000"/>
<ellipse cx="455.5" cy="153" rx="5" ry="2" fill="#000"/>
<ellipse cx="444" cy="149" rx="3" ry="9" fill="#8a2030"/>
<ellipse cx="425" cy="140" rx="1" ry="14" fill="#4040e0" opacity="0.8"/>
<ellipse cx="438" cy="140" rx="1" ry="14" fill="#4040e0" opacity="0.8"/>
<ellipse cx="450" cy="140" rx="1" ry="14" fill="#4040e0" opacity="0.8"/>
<ellipse cx="463" cy="140" rx="1" ry="14" fill="#4040e0" opacity="0.8"/>
<ellipse cx="405" cy="140" rx="5" ry="14" fill="#5050e0" opacity="0.5" filter="url(#rough)"/>
<ellipse cx="483" cy="140" rx="5" ry="14" fill="#5050e0" opacity="0.5" filter="url(#rough)"/>
<ellipse cx="396" cy="152" rx="10" ry="15" fill="#58c060" opacity="0.9" filter="url(#rough)"/>
<ellipse cx="492" cy="152" rx="10" ry="15" fill="#58c060" opacity="0.9" filter="url(#rough)"/>
<ellipse cx="494" cy="163" rx="12" ry="7" fill="#58d070" opacity="0.9" filter="url(#rough)"/>
<ellipse cx="375" cy="143" rx="19.5" ry="20.5" fill="#6a3050"/>
<ellipse cx="375" cy="143" rx="18.0" ry="19.0" fill="#5068d0"/>
<ellipse cx="372.8" cy="143" rx="14.4" ry="15" fill="#b0a868"/>
<ellipse cx="372.8" cy="143" rx="12.700000000000001" ry="13.3" fill="#5060c0"/>
<ellipse cx="515" cy="144.5" rx="17" ry="20.5" fill="#6a3050"/>
<ellipse cx="515" cy="144.5" rx="15.5" ry="19.0" fill="#5068d0"/>
<ellipse cx="517.5" cy="146" rx="13" ry="16.4" fill="#b0a868"/>
<ellipse cx="517.5" cy="146" rx="11.3" ry="14.700000000000001" fill="#5060c0"/>
<path d="M392 160 C410 157 440 157 470 160 C485 162 495 166 500 176 C498 186 490 192 476 194 L404 194 C396 190 390 180 392 160 Z" fill="#70a050"/>
<path d="M424 180 C430 172 438 168 446 169 C455 170 462 172 470 176 C480 180 490 183 500 186 L498 190 C485 190 472 186 462 184 C450 181 440 181 432 184 Z" fill="#c8c858"/>
<path d="M427 178 C432 172 440 170 446 170 L462 172 L462 182 C450 180 440 180 430 184 Z" fill="#c8c858"/>
<ellipse cx="410.5" cy="174" rx="10.5" ry="10" fill="#d87038"/>
<ellipse cx="411" cy="174.5" rx="8" ry="7.5" fill="#98c8d8"/>
<ellipse cx="409" cy="171" rx="4" ry="4.5" fill="#e85020"/>
<ellipse cx="426" cy="174" rx="6" ry="9" fill="#a050d0" opacity="0.9" filter="url(#rough)"/>
<ellipse cx="397" cy="181" rx="5" ry="8" fill="#e0a030" filter="url(#rough)"/>
<ellipse cx="483" cy="178" rx="10.5" ry="9" fill="#d87038"/>
<ellipse cx="483" cy="178" rx="8" ry="7" fill="#98c8d8"/>
<ellipse cx="481" cy="176" rx="4" ry="4" fill="#e85020"/>
<ellipse cx="498" cy="186" rx="4" ry="7" fill="#e0a030" filter="url(#rough)"/>
<ellipse cx="382" cy="195" rx="8" ry="22" fill="#8a4a48" transform="rotate(-10 382 195)" filter="url(#rough)"/>
<ellipse cx="513" cy="196" rx="10" ry="22" fill="#8a4a48" transform="rotate(10 513 196)" filter="url(#rough)"/>
<ellipse cx="374" cy="176" rx="3" ry="4" fill="#e040e0" filter="url(#rough)"/>
<ellipse cx="519" cy="177" rx="3" ry="4" fill="#e040e0" filter="url(#rough)"/>
<ellipse cx="406" cy="220" rx="18" ry="20" fill="#9a68c8" transform="rotate(-20 406 220)" filter="url(#rough)"/>
<ellipse cx="488" cy="220" rx="17" ry="20" fill="#9a68c8" transform="rotate(20 488 220)" filter="url(#rough)"/>
<ellipse cx="409" cy="201" rx="9.5" ry="9" fill="#d87038"/>
<ellipse cx="409" cy="200" rx="7" ry="6.5" fill="#98c8d8"/>
<ellipse cx="410" cy="204" rx="4" ry="3" fill="#e85020"/>
<ellipse cx="488.5" cy="203" rx="9" ry="9" fill="#d87038"/>
<ellipse cx="488.5" cy="202" rx="6.8" ry="6.5" fill="#98c8d8"/>
<ellipse cx="489" cy="206" rx="4" ry="3" fill="#e85020"/>
<ellipse cx="418" cy="221" rx="4.5" ry="5" fill="#5a5020"/>
<ellipse cx="477" cy="222" rx="4.5" ry="5.5" fill="#5a5020"/>
<path d="M424 197 C426 193 432 192 447 192 C462 192 468 193 471 197 C474 205 474 214 470 220 C466 224 460 226 456 228 C455 236 454 244 450 249 C446 250 442 249 440 247 C437 240 437 233 436 228 C430 226 424 222 422 215 C421 208 422 201 424 197 Z" fill="#b83048"/>
<path d="M424 197 C426 193 432 192 447 192 C462 192 468 193 471 197" fill="none" stroke="#60c0a0" stroke-width="1.5"/>
<ellipse cx="447" cy="206" rx="20" ry="10" fill="#c840a0" opacity="0.75" filter="url(#rough)"/>
<ellipse cx="446" cy="235" rx="8" ry="12" fill="#b02020" opacity="0.8" filter="url(#rough)"/>
<ellipse cx="446" cy="247" rx="42" ry="4" fill="#8a3a60" opacity="0.7" filter="url(#rough)"/>
<path d="M428 230 L432 236 L430 240 Z" fill="#000"/>
<path d="M362 112 C366 102 372 93 381 86 C386 80 390 77 396 75 C410 73 425 74 435 76 C440 78 444 80 447 80 C452 77 460 74 468 73 C478 73 486 78 492 84 C500 91 510 100 518 108 C525 115 530 122 533 130 L533 172 C531 185 527 200 522 210 C517 222 510 230 502 236 C492 242 480 247 468 249 C455 251 442 251 430 246 C418 242 405 236 395 229 C385 222 376 212 370 201 C366 193 365 185 365 176 C358 170 355 160 354 150 L354 118 C356 115 359 113 362 112 Z" fill="none" stroke="#b050e0" stroke-width="2.5" filter="url(#rough2)"/>
<path d="M362 112 C366 102 372 93 381 86 C386 80 390 77 396 75 C410 73 425 74 435 76 C440 78 444 80 447 80 C452 77 460 74 468 73 C478 73 486 78 492 84 C500 91 510 100 518 108 C525 115 530 122 533 130 L533 172 C531 185 527 200 522 210 C517 222 510 230 502 236 C492 242 480 247 468 249 C455 251 442 251 430 246 C418 242 405 236 395 229 C385 222 376 212 370 201 C366 193 365 185 365 176 C358 170 355 160 354 150 L354 118 C356 115 359 113 362 112 Z" fill="none" stroke="#e0a040" stroke-width="0.7" opacity="0.7" filter="url(#rough2)"/>
</g>
<rect x="354.2" y="72" width="178.8" height="179.4" fill="#000" filter="url(#speck)" opacity="0.5"/>
<ellipse cx="372.8" cy="143" rx="11.4" ry="12" fill="#000"/>
<circle cx="366.5" cy="139.8" r="6.8" fill="#3a0c3a" stroke="#e040e0" stroke-width="1.5"/>
<circle cx="366.5" cy="139.8" r="4" fill="#c030c0" opacity="0.5" filter="url(#speck)"/>
<ellipse cx="517.5" cy="146" rx="10" ry="13.4" fill="#000"/>
<circle cx="520.6" cy="143.5" r="6.8" fill="#3a0c3a" stroke="#e040e0" stroke-width="1.5"/>
<circle cx="520.6" cy="143.5" r="4" fill="#c030c0" opacity="0.5" filter="url(#speck)"/>
<path d="M434 162 C440 160 452 160 459 162 L459 171 C455 168 450 167 446 167 C440 167 436 169 434 171 Z" fill="#000"/>
<path d="M402 190 C410 186 420 184 430 184 C440 182 452 183 462 185 C468 186 474 188 477 190 L476 195 L470 201 L466 193 L426 193 L423 201 L418 193 L402 194 Z" fill="#000"/>
</g>
<path d="M434 171 C436 169 440 167 446 167 C450 167 455 168 459 171" fill="none" stroke="#fff" stroke-width="0.8" stroke-dasharray="1.6 1.2"/>
<path d="M402 190 C410 186 420 184 430 184 C440 182 452 183 462 185 C468 186 474 188 477 190" fill="none" stroke="#fff" stroke-width="0.8" stroke-dasharray="1.6 1.2"/>
<rect x="391.6" y="158.6" width="69.4" height="32.6" fill="none" stroke="#fff" stroke-width="1.4"/>
<text x="360.5" y="100.8" font-size="25" fill="#fff">b</text>
<line x1="517.8" y1="239.2" x2="526" y2="239.2" stroke="#fff" stroke-width="1.3"/>
<rect x="354.2" y="256.3" width="178.3" height="81.0" fill="#000"/>
<g clip-path="url(#clipc)">
<rect x="354.2" y="256.3" width="178.3" height="81.0" fill="#d0c858"/>
<rect x="354.2" y="256.3" width="178.3" height="5" fill="#8a8a30"/>
<path d="M354 256 H440 C435 262 428 266 420 268 C410 270 400 268 392 272 C380 280 370 285 354 288 Z" fill="#3a8a38"/>
<ellipse cx="372" cy="270" rx="16" ry="12" fill="#60d880" opacity="0.9" filter="url(#rough)"/>
<ellipse cx="425" cy="262" rx="20" ry="7" fill="#608838" filter="url(#rough)"/>
<ellipse cx="437" cy="263" rx="9" ry="7" fill="#101010"/>
<ellipse cx="452" cy="270" rx="14" ry="12" fill="#b8b840" opacity="0.8" filter="url(#rough)"/>
<path d="M354 300 C362 300 372 304 378 312 C384 322 386 330 384 338 H354 Z" fill="#e0a030"/>
<ellipse cx="358" cy="296" rx="5" ry="12" fill="#5030a0" filter="url(#rough)"/>
<ellipse cx="403" cy="296" rx="23" ry="26" fill="#d86020" filter="url(#rough)"/>
<ellipse cx="403" cy="298" rx="20.5" ry="23" fill="#405888" filter="url(#rough)"/>
<ellipse cx="405" cy="296" rx="18.5" ry="21" fill="#98c8d8" filter="url(#rough)"/>
<ellipse cx="406" cy="287" rx="8" ry="9.5" fill="#e8501c" filter="url(#rough)"/>
<ellipse cx="412" cy="292" rx="4" ry="6" fill="#e8501c" filter="url(#rough)"/>
<ellipse cx="397" cy="302" rx="10" ry="8" fill="#7aaac0" opacity="0.8" filter="url(#rough)"/>
<ellipse cx="441" cy="296" rx="12" ry="23" fill="#d048d8" filter="url(#rough)"/>
<ellipse cx="447" cy="310" rx="9" ry="16" fill="#a040c0" opacity="0.8" filter="url(#rough)"/>
<ellipse cx="428" cy="328" rx="17" ry="9" fill="#70d890" opacity="0.9" filter="url(#rough)"/>
<rect x="354.2" y="256.3" width="178.3" height="81.0" fill="#000" filter="url(#speck2)" opacity="0.8"/>
<rect x="354.2" y="256.3" width="178.3" height="81.0" fill="#000" filter="url(#speckG)" opacity="0.25"/>
<path d="M459 271 C462 266 470 264 478 263 C488 259 500 259 512 262 C520 264 528 265 533 266 V288 C525 287 518 285 510 284 C500 282 490 280 480 282 C472 283 466 280 462 276 Z" fill="#c070a0"/>
<path d="M459 271 C462 266 470 264 478 263 C488 259 500 259 512 262 C520 264 528 265 533 266 V288 C525 287 518 285 510 284 C500 282 490 280 480 282 C472 283 466 280 462 276 Z" fill="#000" transform="translate(497 274) scale(0.95 0.8) translate(-497 -274)"/>
<path d="M462 276 C466 280 472 283 480 282 C490 280 500 282 510 284 C518 285 525 287 533 288" fill="none" stroke="#fff" stroke-width="0.9" stroke-dasharray="2 1.6" transform="translate(0 -2)"/>
<path d="M405 338 C415 332 425 338 435 335 C445 328 452 318 465 314 C480 311 505 311 518 313 C525 314 530 316 533 318 V338 Z" fill="#000"/>
<path d="M405 338 C415 332 425 338 435 335 C445 328 452 318 465 314 C480 311 505 311 518 313 C525 314 530 316 533 318" fill="none" stroke="#fff" stroke-width="0.9" stroke-dasharray="2 1.6"/>
<path d="M354 338 L368 330 L380 326 L390 338 Z" fill="#000"/>
</g>
<text x="361.55" y="279.6" font-size="17.5" fill="#fff">C</text>
<text x="362.4" y="298.4" font-size="15" fill="#fff" stroke="#fff" stroke-width="0.35" font-weight="bold">36</text>
<text x="384.4" y="304.9" font-size="15" fill="#fff" stroke="#fff" stroke-width="0.35" font-weight="bold">oe</text>
<text x="397.9" y="292.5" font-size="15" fill="#fff" stroke="#fff" stroke-width="0.35" font-weight="bold">18</text>
<text x="439.2" y="290.3" font-size="15" fill="#fff" stroke="#fff" stroke-width="0.35" font-weight="bold">5</text>
<text x="488.85" y="302.75" font-size="15.5" fill="#111" stroke="#111" stroke-width="0.4" font-weight="bold">13</text>
<text x="421.6" y="334.3" font-size="15" fill="#fff" stroke="#fff" stroke-width="0.35" font-weight="bold">39</text>
<line x1="508" y1="328.4" x2="527.5" y2="328.4" stroke="#fff" stroke-width="1.3"/>
<rect x="354.2" y="612.8" width="178.8" height="177.80000000000007" fill="#000"/>
<g clip-path="url(#clipf)">
<g filter="url(#conf)">
<path d="M434.0 614.0 C438.7 613.6 441.0 616.4 445.0 616.5 C449.0 616.6 454.2 614.7 458.0 614.5 C461.8 614.3 464.0 615.2 468.0 615.5 C472.0 615.8 477.4 615.3 482.0 616.5 C486.6 617.7 492.5 619.0 495.5 622.5 C498.5 626.0 497.7 632.9 500.0 637.7 C502.3 642.6 506.1 647.4 509.3 651.6 C512.5 655.8 516.2 658.5 519.0 662.7 C521.8 666.9 524.2 672.0 526.0 676.6 C527.8 681.2 529.2 685.7 530.0 690.4 C530.8 695.1 531.7 701.1 531.0 705.0 C530.3 708.9 527.3 710.2 526.0 714.0 C524.7 717.8 524.3 722.6 523.2 727.7 C522.1 732.8 520.0 739.3 519.5 744.4 C519.0 749.5 519.5 753.7 520.4 758.3 C521.2 762.9 523.2 767.4 524.6 772.0 C526.0 776.6 527.7 782.2 528.8 786.0 C529.9 789.8 559.3 793.5 531.0 795.0 C502.7 796.5 387.7 796.0 359.0 795.0 C330.3 794.0 358.6 791.7 359.0 788.8 C359.4 785.9 360.3 781.4 361.7 777.7 C363.1 774.0 366.8 770.8 367.3 766.6 C367.8 762.4 365.7 757.3 364.5 752.7 C363.3 748.1 361.7 744.1 360.3 738.8 C358.9 733.5 356.8 726.9 356.0 720.8 C355.2 714.7 355.2 707.9 355.3 702.0 C355.4 696.1 355.5 691.2 356.6 685.6 C357.7 680.0 359.7 673.8 361.9 668.5 C364.1 663.2 366.7 658.6 369.8 654.0 C372.9 649.4 376.4 644.7 380.3 641.0 C384.2 637.3 387.3 635.4 393.4 631.7 C399.5 628.0 410.2 621.6 417.0 618.6 C423.8 615.6 429.3 614.4 434.0 614.0 Z" fill="#a890c0" filter="url(#rough2)"/>
<clipPath id="clipfo"><path d="M434.0 614.0 C438.7 613.6 441.0 616.4 445.0 616.5 C449.0 616.6 454.2 614.7 458.0 614.5 C461.8 614.3 464.0 615.2 468.0 615.5 C472.0 615.8 477.4 615.3 482.0 616.5 C486.6 617.7 492.5 619.0 495.5 622.5 C498.5 626.0 497.7 632.9 500.0 637.7 C502.3 642.6 506.1 647.4 509.3 651.6 C512.5 655.8 516.2 658.5 519.0 662.7 C521.8 666.9 524.2 672.0 526.0 676.6 C527.8 681.2 529.2 685.7 530.0 690.4 C530.8 695.1 531.7 701.1 531.0 705.0 C530.3 708.9 527.3 710.2 526.0 714.0 C524.7 717.8 524.3 722.6 523.2 727.7 C522.1 732.8 520.0 739.3 519.5 744.4 C519.0 749.5 519.5 753.7 520.4 758.3 C521.2 762.9 523.2 767.4 524.6 772.0 C526.0 776.6 527.7 782.2 528.8 786.0 C529.9 789.8 559.3 793.5 531.0 795.0 C502.7 796.5 387.7 796.0 359.0 795.0 C330.3 794.0 358.6 791.7 359.0 788.8 C359.4 785.9 360.3 781.4 361.7 777.7 C363.1 774.0 366.8 770.8 367.3 766.6 C367.8 762.4 365.7 757.3 364.5 752.7 C363.3 748.1 361.7 744.1 360.3 738.8 C358.9 733.5 356.8 726.9 356.0 720.8 C355.2 714.7 355.2 707.9 355.3 702.0 C355.4 696.1 355.5 691.2 356.6 685.6 C357.7 680.0 359.7 673.8 361.9 668.5 C364.1 663.2 366.7 658.6 369.8 654.0 C372.9 649.4 376.4 644.7 380.3 641.0 C384.2 637.3 387.3 635.4 393.4 631.7 C399.5 628.0 410.2 621.6 417.0 618.6 C423.8 615.6 429.3 614.4 434.0 614.0 Z"/></clipPath>
<g clip-path="url(#clipfo)">
<path d="M444 630 C430 622 410 626 395 636 C378 648 368 668 368 690 C368 702 372 710 380 712 C395 716 410 722 425 728 C433 731 440 732 444 732 Z" fill="#b0a0cc"/>
<path d="M444 630 C458 622 478 624 493 634 C510 646 520 666 520 688 C520 700 516 708 508 711 C493 716 478 722 463 728 C455 731 448 732 444 732 Z" fill="#b0a0cc"/>
<ellipse cx="397" cy="672" rx="15" ry="23" fill="#983878" transform="rotate(10 397 672)" opacity="0.85" filter="url(#rough)"/>
<ellipse cx="494" cy="670" rx="15" ry="24" fill="#983878" transform="rotate(-10 494 670)" opacity="0.85" filter="url(#rough)"/>
<ellipse cx="393" cy="688" rx="9" ry="10" fill="#60b070" opacity="0.6" filter="url(#rough)"/>
<ellipse cx="498" cy="686" rx="9" ry="10" fill="#60b070" opacity="0.6" filter="url(#rough)"/>
<path d="M444 634 C434 636 420 642 413 652 C406 664 404 682 406 700 C409 715 420 726 432 730 C438 732 450 732 456 730 C468 726 479 715 482 700 C484 682 482 664 475 652 C468 642 454 636 444 634 Z" fill="#8a9a7a"/>
<ellipse cx="444" cy="650" rx="17" ry="12" fill="#5a8888" filter="url(#rough)"/>
<ellipse cx="430" cy="698" rx="14" ry="20" fill="#a07878" opacity="0.6" filter="url(#rough)"/>
<ellipse cx="458" cy="698" rx="14" ry="20" fill="#a07878" opacity="0.6" filter="url(#rough)"/>
<ellipse cx="444" cy="685" rx="28" ry="26" fill="#70b070" opacity="0.4" filter="url(#rough)"/>
<path d="M444 634 C434 636 420 642 413 652 C406 664 404 682 406 700 C409 715 420 726 432 730" fill="none" stroke="#203020" stroke-width="1.5"/>
<path d="M444 634 C454 636 468 642 475 652 C482 664 484 682 482 700 C479 715 468 726 456 730" fill="none" stroke="#203020" stroke-width="1.5"/>
<path d="M444 621 C425 620 400 628 385 642 C372 656 366 676 366 697" fill="none" stroke="#403050" stroke-width="1.2"/>
<path d="M444 621 C462 619 487 626 502 640 C515 654 520 674 518 698" fill="none" stroke="#403050" stroke-width="1.2"/>
<path d="M444 616 L444 632" stroke="#3040a0" stroke-width="1.5"/>
<path d="M356 712 C375 718 400 728 420 734 C430 737 438 738 444 738 C452 738 462 736 472 733 C490 727 510 718 530 710 L532 792 L356 792 Z" fill="#a070b8"/>
<path d="M366 696 C376 708 390 716 405 720 C420 728 432 732 444 733 C456 732 470 726 482 719 C496 714 508 708 518 698 L520 703 C510 714 498 721 484 726 C470 734 456 738 444 738 C430 738 418 734 404 727 C390 722 374 713 363 701 Z" fill="#2020f0"/>
<ellipse cx="407" cy="721" rx="13" ry="8.5" fill="#6a2064" transform="rotate(20 407 721)" filter="url(#rough)"/>
<ellipse cx="482" cy="720" rx="14" ry="8.5" fill="#6a2064" transform="rotate(-20 482 720)" filter="url(#rough)"/>
<ellipse cx="385" cy="745" rx="20" ry="25" fill="#d09060" opacity="0.6" filter="url(#rough)"/>
<ellipse cx="502" cy="742" rx="20" ry="25" fill="#d09060" opacity="0.6" filter="url(#rough)"/>
<ellipse cx="381" cy="730" rx="10" ry="12.5" fill="#e08028" filter="url(#rough)"/>
<ellipse cx="381" cy="730" rx="5.5" ry="8" fill="#9a90b0" filter="url(#rough)"/>
<ellipse cx="506" cy="730" rx="10" ry="12.5" fill="#e08028" filter="url(#rough)"/>
<ellipse cx="506" cy="730" rx="5.5" ry="8" fill="#9a90b0" filter="url(#rough)"/>
<ellipse cx="389" cy="761" rx="9" ry="9" fill="#e0a030" filter="url(#rough)"/>
<ellipse cx="497" cy="755" rx="8" ry="10" fill="#e0a030" filter="url(#rough)"/>
<ellipse cx="393" cy="745" rx="10" ry="8" fill="#9090d8" opacity="0.9" filter="url(#rough)"/>
<ellipse cx="482" cy="749" rx="10" ry="10" fill="#9090d8" opacity="0.9" filter="url(#rough)"/>
<ellipse cx="460" cy="745" rx="6" ry="7" fill="#e06028" filter="url(#rough)"/>
<ellipse cx="390" cy="782" rx="40" ry="20" fill="#c02838" filter="url(#rough)"/>
<ellipse cx="498" cy="782" rx="40" ry="20" fill="#c02838" filter="url(#rough)"/>
<ellipse cx="445" cy="790" rx="34" ry="22" fill="#a878c8" filter="url(#rough)"/>
<ellipse cx="445" cy="792" rx="22" ry="14" fill="#c090d8" opacity="0.8" filter="url(#rough)"/>
<ellipse cx="470" cy="785" rx="8" ry="5" fill="#e040e0" opacity="0.8" filter="url(#rough)"/>
<ellipse cx="408" cy="787" rx="9" ry="5" fill="#e040e0" opacity="0.7" filter="url(#rough)"/>
<ellipse cx="380" cy="772" rx="6" ry="6" fill="#e040e0" opacity="0.8" filter="url(#rough)"/>
<ellipse cx="512" cy="786" rx="6" ry="5" fill="#e040e0" opacity="0.8" filter="url(#rough)"/>
<ellipse cx="395" cy="752" rx="10" ry="12" fill="#d8a040" opacity="0.7" filter="url(#rough)"/>
<ellipse cx="492" cy="750" rx="10" ry="12" fill="#d8a040" opacity="0.7" filter="url(#rough)"/>
<ellipse cx="415" cy="751" rx="10" ry="8" fill="#80b090" filter="url(#rough)"/>
<ellipse cx="427" cy="747" rx="5" ry="5.5" fill="#e06028" filter="url(#rough)"/>
<ellipse cx="467" cy="750" rx="4" ry="4" fill="#60e070" filter="url(#rough)"/>
<ellipse cx="446" cy="753" rx="7" ry="5" fill="#f0f040" filter="url(#rough)"/>
</g>
<path d="M434.0 614.0 C438.7 613.6 441.0 616.4 445.0 616.5 C449.0 616.6 454.2 614.7 458.0 614.5 C461.8 614.3 464.0 615.2 468.0 615.5 C472.0 615.8 477.4 615.3 482.0 616.5 C486.6 617.7 492.5 619.0 495.5 622.5 C498.5 626.0 497.7 632.9 500.0 637.7 C502.3 642.6 506.1 647.4 509.3 651.6 C512.5 655.8 516.2 658.5 519.0 662.7 C521.8 666.9 524.2 672.0 526.0 676.6 C527.8 681.2 529.2 685.7 530.0 690.4 C530.8 695.1 531.7 701.1 531.0 705.0 C530.3 708.9 527.3 710.2 526.0 714.0 C524.7 717.8 524.3 722.6 523.2 727.7 C522.1 732.8 520.0 739.3 519.5 744.4 C519.0 749.5 519.5 753.7 520.4 758.3 C521.2 762.9 523.2 767.4 524.6 772.0 C526.0 776.6 527.7 782.2 528.8 786.0 C529.9 789.8 559.3 793.5 531.0 795.0 C502.7 796.5 387.7 796.0 359.0 795.0 C330.3 794.0 358.6 791.7 359.0 788.8 C359.4 785.9 360.3 781.4 361.7 777.7 C363.1 774.0 366.8 770.8 367.3 766.6 C367.8 762.4 365.7 757.3 364.5 752.7 C363.3 748.1 361.7 744.1 360.3 738.8 C358.9 733.5 356.8 726.9 356.0 720.8 C355.2 714.7 355.2 707.9 355.3 702.0 C355.4 696.1 355.5 691.2 356.6 685.6 C357.7 680.0 359.7 673.8 361.9 668.5 C364.1 663.2 366.7 658.6 369.8 654.0 C372.9 649.4 376.4 644.7 380.3 641.0 C384.2 637.3 387.3 635.4 393.4 631.7 C399.5 628.0 410.2 621.6 417.0 618.6 C423.8 615.6 429.3 614.4 434.0 614.0 Z" fill="none" stroke="#e08040" stroke-width="1" opacity="0.8" filter="url(#rough2)"/>
</g>
<rect x="354.2" y="612.8" width="178.8" height="177.80000000000007" fill="#000" filter="url(#speck2)" opacity="0.8"/>
<path d="M434.0 614.0 C438.7 613.6 441.0 616.4 445.0 616.5 C449.0 616.6 454.2 614.7 458.0 614.5 C461.8 614.3 464.0 615.2 468.0 615.5 C472.0 615.8 477.4 615.3 482.0 616.5 C486.6 617.7 492.5 619.0 495.5 622.5 C498.5 626.0 497.7 632.9 500.0 637.7 C502.3 642.6 506.1 647.4 509.3 651.6 C512.5 655.8 516.2 658.5 519.0 662.7 C521.8 666.9 524.2 672.0 526.0 676.6 C527.8 681.2 529.2 685.7 530.0 690.4 C530.8 695.1 531.7 701.1 531.0 705.0 C530.3 708.9 527.3 710.2 526.0 714.0 C524.7 717.8 524.3 722.6 523.2 727.7 C522.1 732.8 520.0 739.3 519.5 744.4 C519.0 749.5 519.5 753.7 520.4 758.3 C521.2 762.9 523.2 767.4 524.6 772.0 C526.0 776.6 527.7 782.2 528.8 786.0 C529.9 789.8 559.3 793.5 531.0 795.0 C502.7 796.5 387.7 796.0 359.0 795.0 C330.3 794.0 358.6 791.7 359.0 788.8 C359.4 785.9 360.3 781.4 361.7 777.7 C363.1 774.0 366.8 770.8 367.3 766.6 C367.8 762.4 365.7 757.3 364.5 752.7 C363.3 748.1 361.7 744.1 360.3 738.8 C358.9 733.5 356.8 726.9 356.0 720.8 C355.2 714.7 355.2 707.9 355.3 702.0 C355.4 696.1 355.5 691.2 356.6 685.6 C357.7 680.0 359.7 673.8 361.9 668.5 C364.1 663.2 366.7 658.6 369.8 654.0 C372.9 649.4 376.4 644.7 380.3 641.0 C384.2 637.3 387.3 635.4 393.4 631.7 C399.5 628.0 410.2 621.6 417.0 618.6 C423.8 615.6 429.3 614.4 434.0 614.0 Z" fill="none" stroke="#70b090" stroke-width="0.8" opacity="0.9" transform="translate(0 -1.5)"/>
<path d="M441 690 L446 690 L449 708 L443 722 L437 708 Z" fill="#0a0a0a"/>
<path d="M442 638 L447 638 L444 646 Z" fill="#000"/>
<path d="M435 742 L452 742 L452 748 L437 748 Z" fill="#000"/>
<path d="M430 759 L460 758 L462 762 L428 763 Z" fill="#000"/>
</g>
<rect x="405.5" y="740.4" width="47" height="22.7" fill="none" stroke="#fff" stroke-width="1.4"/>
<text x="361.6" y="643.8" font-size="25" fill="#fff">f</text>
<rect x="354.2" y="796.7" width="178.8" height="80.39999999999998" fill="#a8a0d8"/>
<g clip-path="url(#clipg)">
<g filter="url(#conf)">
<rect x="354.2" y="796.7" width="178.8" height="80.39999999999998" fill="#a8a0d8"/>
<ellipse cx="365" cy="800" rx="20" ry="8" fill="#e050d0" opacity="0.7" filter="url(#rough)"/>
<ellipse cx="400" cy="855" rx="35" ry="25" fill="#98b0b0" opacity="0.5" filter="url(#rough)"/>
<ellipse cx="372" cy="860" rx="18" ry="18" fill="#b0a0c8" opacity="0.6" filter="url(#rough)"/>
<path d="M384 797 H452 C450 808 446 815 440 820 C430 823 418 822 408 818 C398 814 390 806 384 797 Z" fill="#e0a028"/>
<path d="M428 805 C435 800 450 800 458 806 C464 815 464 835 460 848 C455 856 445 858 438 852 C430 845 426 830 426 818 Z" fill="#f05818"/>
<ellipse cx="436" cy="842" rx="9" ry="10" fill="#c06050" opacity="0.7" filter="url(#rough)"/>
<path d="M455 808 C462 806 470 808 472 815 C474 830 474 845 468 858 C462 862 456 860 456 850 C455 835 454 820 455 808 Z" fill="#e858e8"/>
<ellipse cx="462" cy="850" rx="10" ry="12" fill="#f0a0f0" opacity="0.7" filter="url(#rough)"/>
<path d="M470 836 C480 830 500 832 515 834 C525 835 533 838 533 840 V868 C520 866 505 868 490 868 C478 868 470 862 468 852 Z" fill="#e0e040"/>
<ellipse cx="455" cy="868" rx="20" ry="8" fill="#a090d0" opacity="0.8" filter="url(#rough)"/>
</g>
<rect x="354.2" y="796.7" width="178.8" height="80.39999999999998" fill="#000" filter="url(#speckG)" opacity="0.35"/>
<rect x="354.2" y="796.7" width="178.8" height="80.39999999999998" fill="#000" filter="url(#speck2)" opacity="0.2"/>
<path d="M470 810 C478 803 500 803 533 804 V828 C522 826 508 831 494 829 C482 828 474 822 470 816 Z" fill="#d0c8d8"/>
<path d="M470 810 C478 803 500 803 533 804 V828 C522 826 508 831 494 829 C482 828 474 822 470 816 Z" fill="#000" transform="translate(501 816) scale(0.94 0.8) translate(-501 -816)"/>
<path d="M462 878 C470 870 488 866 505 866 C518 866 526 864 533 862 V878 Z" fill="#000"/>
<path d="M462 878 C470 870 488 866 505 866 C518 866 526 864 533 862" fill="none" stroke="#fff" stroke-width="0.9" stroke-dasharray="2 1.6"/>
</g>
<text x="361.2" y="820.4" font-size="25" fill="#fff">g</text>
<text x="358.2" y="851.6" font-size="15.5" fill="#fff" stroke="#fff" stroke-width="0.35" font-weight="bold">MP</text>
<text x="391.9" y="846.5" font-size="15" fill="#fff" stroke="#fff" stroke-width="0.35" font-weight="bold">13</text>
<text x="412.4" y="842.15" font-size="15" fill="#fff" stroke="#fff" stroke-width="0.35" font-weight="bold">15</text>
<text x="428.0" y="854.15" font-size="15" fill="#fff" stroke="#fff" stroke-width="0.35" font-weight="bold">2</text>
<text x="433.2" y="831.6" font-size="15" fill="#fff" stroke="#fff" stroke-width="0.35" font-weight="bold">PP</text>
<text x="460.1" y="832.3" font-size="15" fill="#fff" stroke="#fff" stroke-width="0.35" font-weight="bold">26</text>
<text x="460.1" y="844.0" font-size="15" fill="#fff" stroke="#fff" stroke-width="0.35" font-weight="bold">19</text>
<text x="476.1" y="849.2" font-size="15.2" fill="#111" stroke="#111" stroke-width="0.4" font-weight="bold">49</text>
<text x="496.5" y="848.4" font-size="15.2" fill="#111" stroke="#111" stroke-width="0.4" font-weight="bold">47</text>
<text x="464.7" y="864.6" font-size="15.2" fill="#111" stroke="#111" stroke-width="0.4" font-weight="bold">27</text>
<line x1="495.6" y1="872.4" x2="527.5" y2="872.4" stroke="#fff" stroke-width="1.3"/>
<circle cx="550.6" cy="46.80" r="3.2" fill="#b22020"/>
<text x="558.2" y="50.60" font-size="12.2" text-anchor="start" fill="#111" stroke="#111" stroke-width="0.25" >0</text>
<circle cx="550.6" cy="63.52" r="3.2" fill="#9933ff"/>
<text x="558.2" y="67.32" font-size="12.2" text-anchor="start" fill="#111" stroke="#111" stroke-width="0.25" >1</text>
<circle cx="550.6" cy="80.24" r="3.2" fill="#3a9a2a"/>
<text x="558.2" y="84.04" font-size="12.2" text-anchor="start" fill="#111" stroke="#111" stroke-width="0.25" >2</text>
<circle cx="550.6" cy="96.96" r="3.2" fill="#50c0d0"/>
<text x="558.2" y="100.76" font-size="12.2" text-anchor="start" fill="#111" stroke="#111" stroke-width="0.25" >3</text>
<circle cx="550.6" cy="113.68" r="3.2" fill="#e0a830"/>
<text x="558.2" y="117.48" font-size="12.2" text-anchor="start" fill="#111" stroke="#111" stroke-width="0.25" >4</text>
<circle cx="550.6" cy="130.40" r="3.2" fill="#ff55ff"/>
<text x="558.2" y="134.20" font-size="12.2" text-anchor="start" fill="#111" stroke="#111" stroke-width="0.25" >5</text>
<circle cx="550.6" cy="147.12" r="3.2" fill="#6a1060"/>
<text x="558.2" y="150.92" font-size="12.2" text-anchor="start" fill="#111" stroke="#111" stroke-width="0.25" >6</text>
<circle cx="550.6" cy="163.84" r="3.2" fill="#5a3a10"/>
<text x="558.2" y="167.64" font-size="12.2" text-anchor="start" fill="#111" stroke="#111" stroke-width="0.25" >7</text>
<circle cx="550.6" cy="180.56" r="3.2" fill="#2a6060"/>
<text x="558.2" y="184.36" font-size="12.2" text-anchor="start" fill="#111" stroke="#111" stroke-width="0.25" >8</text>
<circle cx="550.6" cy="197.28" r="3.2" fill="#66f598"/>
<text x="558.2" y="201.08" font-size="12.2" text-anchor="start" fill="#111" stroke="#111" stroke-width="0.25" >9</text>
<circle cx="550.6" cy="214.00" r="3.2" fill="#1a10f8"/>
<text x="558.2" y="217.80" font-size="12.2" text-anchor="start" fill="#111" stroke="#111" stroke-width="0.25" >10</text>
<circle cx="550.6" cy="230.72" r="3.2" fill="#a87868"/>
<text x="558.2" y="234.52" font-size="12.2" text-anchor="start" fill="#111" stroke="#111" stroke-width="0.25" >11</text>
<circle cx="550.6" cy="247.44" r="3.2" fill="#b8b4f8"/>
<text x="558.2" y="251.24" font-size="12.2" text-anchor="start" fill="#111" stroke="#111" stroke-width="0.25" >12</text>
<circle cx="550.6" cy="264.16" r="3.2" fill="#d0d868"/>
<text x="558.2" y="267.96" font-size="12.2" text-anchor="start" fill="#111" stroke="#111" stroke-width="0.25" >13</text>
<circle cx="550.6" cy="280.88" r="3.2" fill="#5a4a78"/>
<text x="558.2" y="284.68" font-size="12.2" text-anchor="start" fill="#111" stroke="#111" stroke-width="0.25" >14</text>
<circle cx="550.6" cy="297.60" r="3.2" fill="#8a1010"/>
<text x="558.2" y="301.40" font-size="12.2" text-anchor="start" fill="#111" stroke="#111" stroke-width="0.25" >15</text>
<circle cx="550.6" cy="314.32" r="3.2" fill="#4888e8"/>
<text x="558.2" y="318.12" font-size="12.2" text-anchor="start" fill="#111" stroke="#111" stroke-width="0.25" >16</text>
<circle cx="550.6" cy="331.04" r="3.2" fill="#70a078"/>
<text x="558.2" y="334.84" font-size="12.2" text-anchor="start" fill="#111" stroke="#111" stroke-width="0.25" >17</text>
<circle cx="597.6" cy="46.80" r="3.2" fill="#f05a20"/>
<text x="605.2" y="50.60" font-size="12.2" text-anchor="start" fill="#111" stroke="#111" stroke-width="0.25" >18</text>
<circle cx="597.6" cy="63.52" r="3.2" fill="#1a5a10"/>
<text x="605.2" y="67.32" font-size="12.2" text-anchor="start" fill="#111" stroke="#111" stroke-width="0.25" >19</text>
<circle cx="597.6" cy="80.24" r="3.2" fill="#8a8a28"/>
<text x="605.2" y="84.04" font-size="12.2" text-anchor="start" fill="#111" stroke="#111" stroke-width="0.25" >20</text>
<circle cx="597.6" cy="96.96" r="3.2" fill="#e83a8a"/>
<text x="605.2" y="100.76" font-size="12.2" text-anchor="start" fill="#111" stroke="#111" stroke-width="0.25" >21</text>
<circle cx="597.6" cy="113.68" r="3.2" fill="#90c830"/>
<text x="605.2" y="117.48" font-size="12.2" text-anchor="start" fill="#111" stroke="#111" stroke-width="0.25" >22</text>
<circle cx="597.6" cy="130.40" r="3.2" fill="#a880c8"/>
<text x="605.2" y="134.20" font-size="12.2" text-anchor="start" fill="#111" stroke="#111" stroke-width="0.25" >23</text>
<circle cx="597.6" cy="147.12" r="3.2" fill="#5a10c8"/>
<text x="605.2" y="150.92" font-size="12.2" text-anchor="start" fill="#111" stroke="#111" stroke-width="0.25" >24</text>
<circle cx="597.6" cy="163.84" r="3.2" fill="#e0b0b0"/>
<text x="605.2" y="167.64" font-size="12.2" text-anchor="start" fill="#111" stroke="#111" stroke-width="0.25" >25</text>
<circle cx="597.6" cy="180.56" r="3.2" fill="#9a3050"/>
<text x="605.2" y="184.36" font-size="12.2" text-anchor="start" fill="#111" stroke="#111" stroke-width="0.25" >26</text>
<circle cx="597.6" cy="197.28" r="3.2" fill="#a0d0c8"/>
<text x="605.2" y="201.08" font-size="12.2" text-anchor="start" fill="#111" stroke="#111" stroke-width="0.25" >27</text>
<circle cx="597.6" cy="214.00" r="3.2" fill="#a85818"/>
<text x="605.2" y="217.80" font-size="12.2" text-anchor="start" fill="#111" stroke="#111" stroke-width="0.25" >28</text>
<circle cx="597.6" cy="230.72" r="3.2" fill="#4a6a3a"/>
<text x="605.2" y="234.52" font-size="12.2" text-anchor="start" fill="#111" stroke="#111" stroke-width="0.25" >29</text>
<circle cx="597.6" cy="247.44" r="3.2" fill="#c0c890"/>
<text x="605.2" y="251.24" font-size="12.2" text-anchor="start" fill="#111" stroke="#111" stroke-width="0.25" >30</text>
<circle cx="597.6" cy="264.16" r="3.2" fill="#5a7a88"/>
<text x="605.2" y="267.96" font-size="12.2" text-anchor="start" fill="#111" stroke="#111" stroke-width="0.25" >31</text>
<circle cx="597.6" cy="280.88" r="3.2" fill="#5a3038"/>
<text x="605.2" y="284.68" font-size="12.2" text-anchor="start" fill="#111" stroke="#111" stroke-width="0.25" >32</text>
<circle cx="597.6" cy="297.60" r="3.2" fill="#8080f8"/>
<text x="605.2" y="301.40" font-size="12.2" text-anchor="start" fill="#111" stroke="#111" stroke-width="0.25" >33</text>
<circle cx="597.6" cy="314.32" r="3.2" fill="#3a0808"/>
<text x="605.2" y="318.12" font-size="12.2" text-anchor="start" fill="#111" stroke="#111" stroke-width="0.25" >34</text>
<circle cx="644.7" cy="46.80" r="3.2" fill="#f050f8"/>
<text x="652.3" y="50.60" font-size="12.2" text-anchor="start" fill="#111" stroke="#111" stroke-width="0.25" >35</text>
<circle cx="644.7" cy="63.52" r="3.2" fill="#345890"/>
<text x="652.3" y="67.32" font-size="12.2" text-anchor="start" fill="#111" stroke="#111" stroke-width="0.25" >36</text>
<circle cx="644.7" cy="80.24" r="3.2" fill="#88d0f8"/>
<text x="652.3" y="84.04" font-size="12.2" text-anchor="start" fill="#111" stroke="#111" stroke-width="0.25" >37</text>
<circle cx="644.7" cy="96.96" r="3.2" fill="#c06898"/>
<text x="652.3" y="100.76" font-size="12.2" text-anchor="start" fill="#111" stroke="#111" stroke-width="0.25" >38</text>
<circle cx="644.7" cy="113.68" r="3.2" fill="#70f8b0"/>
<text x="652.3" y="117.48" font-size="12.2" text-anchor="start" fill="#111" stroke="#111" stroke-width="0.25" >39</text>
<circle cx="644.7" cy="130.40" r="3.2" fill="#8898b8"/>
<text x="652.3" y="134.20" font-size="12.2" text-anchor="start" fill="#111" stroke="#111" stroke-width="0.25" >40</text>
<circle cx="644.7" cy="147.12" r="3.2" fill="#e8a030"/>
<text x="652.3" y="150.92" font-size="12.2" text-anchor="start" fill="#111" stroke="#111" stroke-width="0.25" >41</text>
<circle cx="644.7" cy="163.84" r="3.2" fill="#7830a0"/>
<text x="652.3" y="167.64" font-size="12.2" text-anchor="start" fill="#111" stroke="#111" stroke-width="0.25" >42</text>
<circle cx="644.7" cy="180.56" r="3.2" fill="#50c8a8"/>
<text x="652.3" y="184.36" font-size="12.2" text-anchor="start" fill="#111" stroke="#111" stroke-width="0.25" >43</text>
<circle cx="644.7" cy="197.28" r="3.2" fill="#50c060"/>
<text x="652.3" y="201.08" font-size="12.2" text-anchor="start" fill="#111" stroke="#111" stroke-width="0.25" >44</text>
<circle cx="644.7" cy="214.00" r="3.2" fill="#4a18f8"/>
<text x="652.3" y="217.80" font-size="12.2" text-anchor="start" fill="#111" stroke="#111" stroke-width="0.25" >45</text>
<circle cx="644.7" cy="230.72" r="3.2" fill="#40f818"/>
<text x="652.3" y="234.52" font-size="12.2" text-anchor="start" fill="#111" stroke="#111" stroke-width="0.25" >46</text>
<circle cx="644.7" cy="247.44" r="3.2" fill="#f828f0"/>
<text x="652.3" y="251.24" font-size="12.2" text-anchor="start" fill="#111" stroke="#111" stroke-width="0.25" >47</text>
<circle cx="644.7" cy="264.16" r="3.2" fill="#d05848"/>
<text x="652.3" y="267.96" font-size="12.2" text-anchor="start" fill="#111" stroke="#111" stroke-width="0.25" >48</text>
<circle cx="644.7" cy="280.88" r="3.2" fill="#e898f8"/>
<text x="652.3" y="284.68" font-size="12.2" text-anchor="start" fill="#111" stroke="#111" stroke-width="0.25" >49</text>
<circle cx="644.7" cy="297.60" r="3.2" fill="#50a8f8"/>
<text x="652.3" y="301.40" font-size="12.2" text-anchor="start" fill="#111" stroke="#111" stroke-width="0.25" >50</text>
<circle cx="644.7" cy="314.32" r="3.2" fill="#6870b8"/>
<text x="652.3" y="318.12" font-size="12.2" text-anchor="start" fill="#111" stroke="#111" stroke-width="0.25" >51</text>
<circle cx="551.6" cy="622.10" r="2.95" fill="#e02020"/>
<text x="558.6" y="626.00" font-size="11.2" text-anchor="start" fill="#111" stroke="#111" stroke-width="0.25" >0</text>
<circle cx="551.6" cy="637.60" r="2.95" fill="#f8a8f8"/>
<text x="558.6" y="641.50" font-size="11.2" text-anchor="start" fill="#111" stroke="#111" stroke-width="0.25" >1</text>
<circle cx="551.6" cy="653.10" r="2.95" fill="#500898"/>
<text x="558.6" y="657.00" font-size="11.2" text-anchor="start" fill="#111" stroke="#111" stroke-width="0.25" >2</text>
<circle cx="551.6" cy="668.60" r="2.95" fill="#50c0d0"/>
<text x="558.6" y="672.50" font-size="11.2" text-anchor="start" fill="#111" stroke="#111" stroke-width="0.25" >3</text>
<circle cx="551.6" cy="684.10" r="2.95" fill="#e0a830"/>
<text x="558.6" y="688.00" font-size="11.2" text-anchor="start" fill="#111" stroke="#111" stroke-width="0.25" >4</text>
<circle cx="551.6" cy="699.60" r="2.95" fill="#f080e0"/>
<text x="558.6" y="703.50" font-size="11.2" text-anchor="start" fill="#111" stroke="#111" stroke-width="0.25" >5</text>
<circle cx="551.6" cy="715.10" r="2.95" fill="#6a1060"/>
<text x="558.6" y="719.00" font-size="11.2" text-anchor="start" fill="#111" stroke="#111" stroke-width="0.25" >6</text>
<circle cx="551.6" cy="730.60" r="2.95" fill="#5a3a10"/>
<text x="558.6" y="734.50" font-size="11.2" text-anchor="start" fill="#111" stroke="#111" stroke-width="0.25" >7</text>
<circle cx="551.6" cy="746.10" r="2.95" fill="#2a6060"/>
<text x="558.6" y="750.00" font-size="11.2" text-anchor="start" fill="#111" stroke="#111" stroke-width="0.25" >8</text>
<circle cx="551.6" cy="761.60" r="2.95" fill="#66f598"/>
<text x="558.6" y="765.50" font-size="11.2" text-anchor="start" fill="#111" stroke="#111" stroke-width="0.25" >9</text>
<circle cx="551.6" cy="777.10" r="2.95" fill="#1010f8"/>
<text x="558.6" y="781.00" font-size="11.2" text-anchor="start" fill="#111" stroke="#111" stroke-width="0.25" >10</text>
<circle cx="551.6" cy="792.60" r="2.95" fill="#a87868"/>
<text x="558.6" y="796.50" font-size="11.2" text-anchor="start" fill="#111" stroke="#111" stroke-width="0.25" >11</text>
<circle cx="551.6" cy="808.10" r="2.95" fill="#b8b4f8"/>
<text x="558.6" y="812.00" font-size="11.2" text-anchor="start" fill="#111" stroke="#111" stroke-width="0.25" >12</text>
<circle cx="551.6" cy="823.60" r="2.95" fill="#50f070"/>
<text x="558.6" y="827.50" font-size="11.2" text-anchor="start" fill="#111" stroke="#111" stroke-width="0.25" >13</text>
<circle cx="551.6" cy="839.10" r="2.95" fill="#5a4a78"/>
<text x="558.6" y="843.00" font-size="11.2" text-anchor="start" fill="#111" stroke="#111" stroke-width="0.25" >14</text>
<circle cx="551.6" cy="854.60" r="2.95" fill="#a8a8f8"/>
<text x="558.6" y="858.50" font-size="11.2" text-anchor="start" fill="#111" stroke="#111" stroke-width="0.25" >15</text>
<circle cx="551.6" cy="870.10" r="2.95" fill="#f0a078"/>
<text x="558.6" y="874.00" font-size="11.2" text-anchor="start" fill="#111" stroke="#111" stroke-width="0.25" >16</text>
<circle cx="595.0" cy="622.10" r="2.95" fill="#70a078"/>
<text x="602.0" y="626.00" font-size="11.2" text-anchor="start" fill="#111" stroke="#111" stroke-width="0.25" >17</text>
<circle cx="595.0" cy="637.60" r="2.95" fill="#f05a20"/>
<text x="602.0" y="641.50" font-size="11.2" text-anchor="start" fill="#111" stroke="#111" stroke-width="0.25" >18</text>
<circle cx="595.0" cy="653.10" r="2.95" fill="#f828f8"/>
<text x="602.0" y="657.00" font-size="11.2" text-anchor="start" fill="#111" stroke="#111" stroke-width="0.25" >19</text>
<circle cx="595.0" cy="668.60" r="2.95" fill="#8a8a28"/>
<text x="602.0" y="672.50" font-size="11.2" text-anchor="start" fill="#111" stroke="#111" stroke-width="0.25" >20</text>
<circle cx="595.0" cy="684.10" r="2.95" fill="#e83a8a"/>
<text x="602.0" y="688.00" font-size="11.2" text-anchor="start" fill="#111" stroke="#111" stroke-width="0.25" >21</text>
<circle cx="595.0" cy="699.60" r="2.95" fill="#90c830"/>
<text x="602.0" y="703.50" font-size="11.2" text-anchor="start" fill="#111" stroke="#111" stroke-width="0.25" >22</text>
<circle cx="595.0" cy="715.10" r="2.95" fill="#a880c8"/>
<text x="602.0" y="719.00" font-size="11.2" text-anchor="start" fill="#111" stroke="#111" stroke-width="0.25" >23</text>
<circle cx="595.0" cy="730.60" r="2.95" fill="#c0f8f8"/>
<text x="602.0" y="734.50" font-size="11.2" text-anchor="start" fill="#111" stroke="#111" stroke-width="0.25" >24</text>
<circle cx="595.0" cy="746.10" r="2.95" fill="#e0b0b0"/>
<text x="602.0" y="750.00" font-size="11.2" text-anchor="start" fill="#111" stroke="#111" stroke-width="0.25" >25</text>
<circle cx="595.0" cy="761.60" r="2.95" fill="#f8a0f8"/>
<text x="602.0" y="765.50" font-size="11.2" text-anchor="start" fill="#111" stroke="#111" stroke-width="0.25" >26</text>
<circle cx="595.0" cy="777.10" r="2.95" fill="#a0d0c8"/>
<text x="602.0" y="781.00" font-size="11.2" text-anchor="start" fill="#111" stroke="#111" stroke-width="0.25" >27</text>
<circle cx="595.0" cy="792.60" r="2.95" fill="#a85818"/>
<text x="602.0" y="796.50" font-size="11.2" text-anchor="start" fill="#111" stroke="#111" stroke-width="0.25" >28</text>
<circle cx="595.0" cy="808.10" r="2.95" fill="#4a6a3a"/>
<text x="602.0" y="812.00" font-size="11.2" text-anchor="start" fill="#111" stroke="#111" stroke-width="0.25" >29</text>
<circle cx="595.0" cy="823.60" r="2.95" fill="#c0c890"/>
<text x="602.0" y="827.50" font-size="11.2" text-anchor="start" fill="#111" stroke="#111" stroke-width="0.25" >30</text>
<circle cx="595.0" cy="839.10" r="2.95" fill="#5a7a88"/>
<text x="602.0" y="843.00" font-size="11.2" text-anchor="start" fill="#111" stroke="#111" stroke-width="0.25" >31</text>
<circle cx="595.0" cy="854.60" r="2.95" fill="#5a3038"/>
<text x="602.0" y="858.50" font-size="11.2" text-anchor="start" fill="#111" stroke="#111" stroke-width="0.25" >32</text>
<circle cx="595.0" cy="870.10" r="2.95" fill="#8080f8"/>
<text x="602.0" y="874.00" font-size="11.2" text-anchor="start" fill="#111" stroke="#111" stroke-width="0.25" >33</text>
<circle cx="638.4" cy="622.10" r="2.95" fill="#3a0808"/>
<text x="645.4" y="626.00" font-size="11.2" text-anchor="start" fill="#111" stroke="#111" stroke-width="0.25" >34</text>
<circle cx="638.4" cy="637.60" r="2.95" fill="#f050f8"/>
<text x="645.4" y="641.50" font-size="11.2" text-anchor="start" fill="#111" stroke="#111" stroke-width="0.25" >35</text>
<circle cx="638.4" cy="653.10" r="2.95" fill="#345890"/>
<text x="645.4" y="657.00" font-size="11.2" text-anchor="start" fill="#111" stroke="#111" stroke-width="0.25" >36</text>
<circle cx="638.4" cy="668.60" r="2.95" fill="#88d0f8"/>
<text x="645.4" y="672.50" font-size="11.2" text-anchor="start" fill="#111" stroke="#111" stroke-width="0.25" >37</text>
<circle cx="638.4" cy="684.10" r="2.95" fill="#c06898"/>
<text x="645.4" y="688.00" font-size="11.2" text-anchor="start" fill="#111" stroke="#111" stroke-width="0.25" >38</text>
<circle cx="638.4" cy="699.60" r="2.95" fill="#308868"/>
<text x="645.4" y="703.50" font-size="11.2" text-anchor="start" fill="#111" stroke="#111" stroke-width="0.25" >39</text>
<circle cx="638.4" cy="715.10" r="2.95" fill="#8898b8"/>
<text x="645.4" y="719.00" font-size="11.2" text-anchor="start" fill="#111" stroke="#111" stroke-width="0.25" >40</text>
<circle cx="638.4" cy="730.60" r="2.95" fill="#d07820"/>
<text x="645.4" y="734.50" font-size="11.2" text-anchor="start" fill="#111" stroke="#111" stroke-width="0.25" >41</text>
<circle cx="638.4" cy="746.10" r="2.95" fill="#7830a0"/>
<text x="645.4" y="750.00" font-size="11.2" text-anchor="start" fill="#111" stroke="#111" stroke-width="0.25" >42</text>
<circle cx="638.4" cy="761.60" r="2.95" fill="#50c8a8"/>
<text x="645.4" y="765.50" font-size="11.2" text-anchor="start" fill="#111" stroke="#111" stroke-width="0.25" >43</text>
<circle cx="638.4" cy="777.10" r="2.95" fill="#50c060"/>
<text x="645.4" y="781.00" font-size="11.2" text-anchor="start" fill="#111" stroke="#111" stroke-width="0.25" >44</text>
<circle cx="638.4" cy="792.60" r="2.95" fill="#4a18f8"/>
<text x="645.4" y="796.50" font-size="11.2" text-anchor="start" fill="#111" stroke="#111" stroke-width="0.25" >45</text>
<circle cx="638.4" cy="808.10" r="2.95" fill="#40f818"/>
<text x="645.4" y="812.00" font-size="11.2" text-anchor="start" fill="#111" stroke="#111" stroke-width="0.25" >46</text>
<circle cx="638.4" cy="823.60" r="2.95" fill="#f0f030"/>
<text x="645.4" y="827.50" font-size="11.2" text-anchor="start" fill="#111" stroke="#111" stroke-width="0.25" >47</text>
<circle cx="638.4" cy="839.10" r="2.95" fill="#d05848"/>
<text x="645.4" y="843.00" font-size="11.2" text-anchor="start" fill="#111" stroke="#111" stroke-width="0.25" >48</text>
<circle cx="638.4" cy="854.60" r="2.95" fill="#e8a030"/>
<text x="645.4" y="858.50" font-size="11.2" text-anchor="start" fill="#111" stroke="#111" stroke-width="0.25" >49</text>
<rect x="58.5" y="399.8" width="187.7" height="78.4" fill="none"/>
<path d="M58.5 399.8 H646.2 V478.2 H58.5 Z" fill="#fdfdfd" stroke="#444" stroke-width="1"/>
<circle cx="71.60" cy="412.60" r="5.70" fill="#6b0a10" stroke="#5a2020" stroke-width="0.5"/>
<circle cx="88.10" cy="412.60" r="5.43" fill="#6b0a10" stroke="#5a2020" stroke-width="0.5"/>
<circle cx="104.60" cy="412.60" r="5.08" fill="#6b0a10" stroke="#5a2020" stroke-width="0.5"/>
<circle cx="121.10" cy="412.60" r="5.08" fill="#6b0a10" stroke="#5a2020" stroke-width="0.5"/>
<circle cx="137.60" cy="412.60" r="5.26" fill="#6b0a10" stroke="#5a2020" stroke-width="0.5"/>
<circle cx="154.10" cy="412.60" r="4.91" fill="#6b0a10" stroke="#5a2020" stroke-width="0.5"/>
<circle cx="170.60" cy="412.60" r="4.38" fill="#6b0a10" stroke="#5a2020" stroke-width="0.5"/>
<circle cx="187.10" cy="412.60" r="3.50" fill="#f8ddd0" stroke="#7a5a5a" stroke-width="0.5"/>
<circle cx="203.60" cy="412.60" r="1.05" fill="#fbf0ea" stroke="#7a5a5a" stroke-width="0.5"/>
<circle cx="220.10" cy="412.60" r="3.33" fill="#fbf0ea" stroke="#7a5a5a" stroke-width="0.5"/>
<circle cx="236.60" cy="412.60" r="1.05" fill="#fbf0ea" stroke="#7a5a5a" stroke-width="0.5"/>
<circle cx="253.10" cy="412.60" r="3.33" fill="#fbf0ea" stroke="#7a5a5a" stroke-width="0.5"/>
<circle cx="269.60" cy="412.60" r="0.50" fill="#b0a0a0"/>
<circle cx="286.10" cy="412.60" r="1.05" fill="#fbf0ea" stroke="#7a5a5a" stroke-width="0.5"/>
<circle cx="302.60" cy="412.60" r="0.50" fill="#b0a0a0"/>
<circle cx="319.10" cy="412.60" r="4.91" fill="#f8ddd0" stroke="#7a5a5a" stroke-width="0.5"/>
<circle cx="335.60" cy="412.60" r="1.40" fill="#fbf0ea" stroke="#7a5a5a" stroke-width="0.5"/>
<circle cx="352.10" cy="412.60" r="2.98" fill="#fbf0ea" stroke="#7a5a5a" stroke-width="0.5"/>
<circle cx="368.60" cy="412.60" r="2.63" fill="#fbf0ea" stroke="#7a5a5a" stroke-width="0.5"/>
<circle cx="385.10" cy="412.60" r="1.40" fill="#fbf0ea" stroke="#7a5a5a" stroke-width="0.5"/>
<circle cx="401.60" cy="412.60" r="2.63" fill="#fbf0ea" stroke="#7a5a5a" stroke-width="0.5"/>
<circle cx="418.10" cy="412.60" r="2.80" fill="#fbf0ea" stroke="#7a5a5a" stroke-width="0.5"/>
<circle cx="434.60" cy="412.60" r="3.68" fill="#fbf0ea" stroke="#7a5a5a" stroke-width="0.5"/>
<circle cx="451.10" cy="412.60" r="4.91" fill="#f8ddd0" stroke="#7a5a5a" stroke-width="0.5"/>
<circle cx="467.60" cy="412.60" r="1.40" fill="#fbf0ea" stroke="#7a5a5a" stroke-width="0.5"/>
<circle cx="484.10" cy="412.60" r="1.40" fill="#fbf0ea" stroke="#7a5a5a" stroke-width="0.5"/>
<circle cx="500.60" cy="412.60" r="3.50" fill="#f5c4ae" stroke="#7a5a5a" stroke-width="0.5"/>
<circle cx="517.10" cy="412.60" r="3.33" fill="#fbf0ea" stroke="#7a5a5a" stroke-width="0.5"/>
<circle cx="533.60" cy="412.60" r="0.50" fill="#b0a0a0"/>
<circle cx="550.10" cy="412.60" r="2.98" fill="#fbf0ea" stroke="#7a5a5a" stroke-width="0.5"/>
<circle cx="566.60" cy="412.60" r="1.58" fill="#fbf0ea" stroke="#7a5a5a" stroke-width="0.5"/>
<circle cx="583.10" cy="412.60" r="3.33" fill="#fbf0ea" stroke="#7a5a5a" stroke-width="0.5"/>
<circle cx="599.60" cy="412.60" r="0.53" fill="#b0a0a0"/>
<circle cx="616.10" cy="412.60" r="2.80" fill="#fbf0ea" stroke="#7a5a5a" stroke-width="0.5"/>
<circle cx="632.60" cy="412.60" r="5.08" fill="#f8ddd0" stroke="#7a5a5a" stroke-width="0.5"/>
<circle cx="71.60" cy="425.80" r="3.85" fill="#fbf0ea" stroke="#7a5a5a" stroke-width="0.5"/>
<circle cx="88.10" cy="425.80" r="1.93" fill="#fbf0ea" stroke="#7a5a5a" stroke-width="0.5"/>
<circle cx="104.60" cy="425.80" r="1.23" fill="#fbf0ea" stroke="#7a5a5a" stroke-width="0.5"/>
<circle cx="121.10" cy="425.80" r="2.28" fill="#fbf0ea" stroke="#7a5a5a" stroke-width="0.5"/>
<circle cx="137.60" cy="425.80" r="3.33" fill="#f2a78c" stroke="#7a5a5a" stroke-width="0.5"/>
<circle cx="154.10" cy="425.80" r="1.75" fill="#fbf0ea" stroke="#7a5a5a" stroke-width="0.5"/>
<circle cx="170.60" cy="425.80" r="1.05" fill="#fbf0ea" stroke="#7a5a5a" stroke-width="0.5"/>
<circle cx="187.10" cy="425.80" r="4.91" fill="#6b0a10" stroke="#5a2020" stroke-width="0.5"/>
<circle cx="203.60" cy="425.80" r="3.68" fill="#6b0a10" stroke="#5a2020" stroke-width="0.5"/>
<circle cx="220.10" cy="425.80" r="4.73" fill="#6b0a10" stroke="#5a2020" stroke-width="0.5"/>
<circle cx="236.60" cy="425.80" r="3.68" fill="#e03028" stroke="#5a2020" stroke-width="0.5"/>
<circle cx="253.10" cy="425.80" r="4.91" fill="#6b0a10" stroke="#5a2020" stroke-width="0.5"/>
<circle cx="269.60" cy="425.80" r="2.45" fill="#6b0a10" stroke="#5a2020" stroke-width="0.5"/>
<circle cx="286.10" cy="425.80" r="3.15" fill="#6b0a10" stroke="#5a2020" stroke-width="0.5"/>
<circle cx="302.60" cy="425.80" r="0.50" fill="#b0a0a0"/>
<circle cx="319.10" cy="425.80" r="3.33" fill="#fbf0ea" stroke="#7a5a5a" stroke-width="0.5"/>
<circle cx="335.60" cy="425.80" r="2.45" fill="#fbf0ea" stroke="#7a5a5a" stroke-width="0.5"/>
<circle cx="352.10" cy="425.80" r="4.38" fill="#f2a78c" stroke="#7a5a5a" stroke-width="0.5"/>
<circle cx="368.60" cy="425.80" r="2.45" fill="#fbf0ea" stroke="#7a5a5a" stroke-width="0.5"/>
<circle cx="385.10" cy="425.80" r="0.70" fill="#b0a0a0"/>
<circle cx="401.60" cy="425.80" r="2.63" fill="#fbf0ea" stroke="#7a5a5a" stroke-width="0.5"/>
<circle cx="418.10" cy="425.80" r="2.63" fill="#fbf0ea" stroke="#7a5a5a" stroke-width="0.5"/>
<circle cx="434.60" cy="425.80" r="5.08" fill="#f8ddd0" stroke="#7a5a5a" stroke-width="0.5"/>
<circle cx="451.10" cy="425.80" r="3.50" fill="#fbf0ea" stroke="#7a5a5a" stroke-width="0.5"/>
<circle cx="467.60" cy="425.80" r="0.70" fill="#b0a0a0"/>
<circle cx="484.10" cy="425.80" r="2.63" fill="#fbf0ea" stroke="#7a5a5a" stroke-width="0.5"/>
<circle cx="500.60" cy="425.80" r="1.75" fill="#fbf0ea" stroke="#7a5a5a" stroke-width="0.5"/>
<circle cx="517.10" cy="425.80" r="4.03" fill="#f5c4ae" stroke="#7a5a5a" stroke-width="0.5"/>
<circle cx="533.60" cy="425.80" r="0.50" fill="#b0a0a0"/>
<circle cx="550.10" cy="425.80" r="4.91" fill="#ef8a6c" stroke="#5a2020" stroke-width="0.5"/>
<circle cx="566.60" cy="425.80" r="4.38" fill="#e03028" stroke="#5a2020" stroke-width="0.5"/>
<circle cx="583.10" cy="425.80" r="4.73" fill="#6b0a10" stroke="#5a2020" stroke-width="0.5"/>
<circle cx="599.60" cy="425.80" r="3.85" fill="#e03028" stroke="#5a2020" stroke-width="0.5"/>
<circle cx="616.10" cy="425.80" r="2.63" fill="#fbf0ea" stroke="#7a5a5a" stroke-width="0.5"/>
<circle cx="632.60" cy="425.80" r="3.50" fill="#fbf0ea" stroke="#7a5a5a" stroke-width="0.5"/>
<circle cx="71.60" cy="438.80" r="4.91" fill="#ef8a6c" stroke="#5a2020" stroke-width="0.5"/>
<circle cx="88.10" cy="438.80" r="3.85" fill="#ec5040" stroke="#5a2020" stroke-width="0.5"/>
<circle cx="104.60" cy="438.80" r="2.98" fill="#f5c4ae" stroke="#7a5a5a" stroke-width="0.5"/>
<circle cx="121.10" cy="438.80" r="3.15" fill="#f2a78c" stroke="#7a5a5a" stroke-width="0.5"/>
<circle cx="137.60" cy="438.80" r="3.85" fill="#ec5040" stroke="#5a2020" stroke-width="0.5"/>
<circle cx="154.10" cy="438.80" r="3.85" fill="#f2a78c" stroke="#7a5a5a" stroke-width="0.5"/>
<circle cx="170.60" cy="438.80" r="2.28" fill="#f2a78c" stroke="#7a5a5a" stroke-width="0.5"/>
<circle cx="187.10" cy="438.80" r="3.15" fill="#fbf0ea" stroke="#7a5a5a" stroke-width="0.5"/>
<circle cx="203.60" cy="438.80" r="2.80" fill="#f2a78c" stroke="#7a5a5a" stroke-width="0.5"/>
<circle cx="220.10" cy="438.80" r="5.08" fill="#f2a78c" stroke="#7a5a5a" stroke-width="0.5"/>
<circle cx="236.60" cy="438.80" r="3.15" fill="#e03028" stroke="#5a2020" stroke-width="0.5"/>
<circle cx="253.10" cy="438.80" r="4.38" fill="#f5c4ae" stroke="#7a5a5a" stroke-width="0.5"/>
<circle cx="269.60" cy="438.80" r="0.88" fill="#ec5040" stroke="#5a2020" stroke-width="0.5"/>
<circle cx="286.10" cy="438.80" r="1.58" fill="#fbf0ea" stroke="#7a5a5a" stroke-width="0.5"/>
<circle cx="302.60" cy="438.80" r="5.61" fill="#6b0a10" stroke="#5a2020" stroke-width="0.5"/>
<circle cx="319.10" cy="438.80" r="5.61" fill="#6b0a10" stroke="#5a2020" stroke-width="0.5"/>
<circle cx="335.60" cy="438.80" r="4.73" fill="#6b0a10" stroke="#5a2020" stroke-width="0.5"/>
<circle cx="352.10" cy="438.80" r="5.26" fill="#6b0a10" stroke="#5a2020" stroke-width="0.5"/>
<circle cx="368.60" cy="438.80" r="4.91" fill="#6b0a10" stroke="#5a2020" stroke-width="0.5"/>
<circle cx="385.10" cy="438.80" r="4.38" fill="#6b0a10" stroke="#5a2020" stroke-width="0.5"/>
<circle cx="401.60" cy="438.80" r="4.91" fill="#f2a78c" stroke="#7a5a5a" stroke-width="0.5"/>
<circle cx="418.10" cy="438.80" r="5.08" fill="#f2a78c" stroke="#7a5a5a" stroke-width="0.5"/>
<circle cx="434.60" cy="438.80" r="5.26" fill="#ec5040" stroke="#5a2020" stroke-width="0.5"/>
<circle cx="451.10" cy="438.80" r="5.61" fill="#6b0a10" stroke="#5a2020" stroke-width="0.5"/>
<circle cx="467.60" cy="438.80" r="4.38" fill="#6b0a10" stroke="#5a2020" stroke-width="0.5"/>
<circle cx="484.10" cy="438.80" r="4.73" fill="#6b0a10" stroke="#5a2020" stroke-width="0.5"/>
<circle cx="500.60" cy="438.80" r="4.20" fill="#c82020" stroke="#5a2020" stroke-width="0.5"/>
<circle cx="517.10" cy="438.80" r="5.26" fill="#ec5040" stroke="#5a2020" stroke-width="0.5"/>
<circle cx="533.60" cy="438.80" r="2.45" fill="#ef8a6c" stroke="#5a2020" stroke-width="0.5"/>
<circle cx="550.10" cy="438.80" r="4.56" fill="#ec5040" stroke="#5a2020" stroke-width="0.5"/>
<circle cx="566.60" cy="438.80" r="4.56" fill="#e03028" stroke="#5a2020" stroke-width="0.5"/>
<circle cx="583.10" cy="438.80" r="4.91" fill="#f2a78c" stroke="#7a5a5a" stroke-width="0.5"/>
<circle cx="599.60" cy="438.80" r="3.33" fill="#ec5040" stroke="#5a2020" stroke-width="0.5"/>
<circle cx="616.10" cy="438.80" r="4.91" fill="#6b0a10" stroke="#5a2020" stroke-width="0.5"/>
<circle cx="632.60" cy="438.80" r="5.61" fill="#6b0a10" stroke="#5a2020" stroke-width="0.5"/>
<circle cx="71.60" cy="451.80" r="5.43" fill="#fbf0ea" stroke="#7a5a5a" stroke-width="0.5"/>
<circle cx="88.10" cy="451.80" r="2.28" fill="#fbf0ea" stroke="#7a5a5a" stroke-width="0.5"/>
<circle cx="104.60" cy="451.80" r="1.05" fill="#fbf0ea" stroke="#7a5a5a" stroke-width="0.5"/>
<circle cx="121.10" cy="451.80" r="1.93" fill="#fbf0ea" stroke="#7a5a5a" stroke-width="0.5"/>
<circle cx="137.60" cy="451.80" r="2.45" fill="#fbf0ea" stroke="#7a5a5a" stroke-width="0.5"/>
<circle cx="154.10" cy="451.80" r="3.85" fill="#f8ddd0" stroke="#7a5a5a" stroke-width="0.5"/>
<circle cx="170.60" cy="451.80" r="2.28" fill="#f5c4ae" stroke="#7a5a5a" stroke-width="0.5"/>
<circle cx="187.10" cy="451.80" r="2.63" fill="#fbf0ea" stroke="#7a5a5a" stroke-width="0.5"/>
<circle cx="203.60" cy="451.80" r="1.23" fill="#fbf0ea" stroke="#7a5a5a" stroke-width="0.5"/>
<circle cx="220.10" cy="451.80" r="5.08" fill="#f8ddd0" stroke="#7a5a5a" stroke-width="0.5"/>
<circle cx="236.60" cy="451.80" r="1.58" fill="#fbf0ea" stroke="#7a5a5a" stroke-width="0.5"/>
<circle cx="253.10" cy="451.80" r="4.56" fill="#e03028" stroke="#5a2020" stroke-width="0.5"/>
<circle cx="269.60" cy="451.80" r="0.50" fill="#b0a0a0"/>
<circle cx="286.10" cy="451.80" r="2.10" fill="#f5c4ae" stroke="#7a5a5a" stroke-width="0.5"/>
<circle cx="302.60" cy="451.80" r="0.50" fill="#b0a0a0"/>
<circle cx="319.10" cy="451.80" r="5.61" fill="#c82020" stroke="#5a2020" stroke-width="0.5"/>
<circle cx="335.60" cy="451.80" r="5.26" fill="#e03028" stroke="#5a2020" stroke-width="0.5"/>
<circle cx="352.10" cy="451.80" r="5.61" fill="#8a1015" stroke="#5a2020" stroke-width="0.5"/>
<circle cx="368.60" cy="451.80" r="4.91" fill="#8a1015" stroke="#5a2020" stroke-width="0.5"/>
<circle cx="385.10" cy="451.80" r="5.08" fill="#a81818" stroke="#5a2020" stroke-width="0.5"/>
<circle cx="401.60" cy="451.80" r="5.61" fill="#6b0a10" stroke="#5a2020" stroke-width="0.5"/>
<circle cx="418.10" cy="451.80" r="5.43" fill="#6b0a10" stroke="#5a2020" stroke-width="0.5"/>
<circle cx="434.60" cy="451.80" r="5.61" fill="#6b0a10" stroke="#5a2020" stroke-width="0.5"/>
<circle cx="451.10" cy="451.80" r="5.61" fill="#c82020" stroke="#5a2020" stroke-width="0.5"/>
<circle cx="467.60" cy="451.80" r="4.91" fill="#a81818" stroke="#5a2020" stroke-width="0.5"/>
<circle cx="484.10" cy="451.80" r="5.26" fill="#e03028" stroke="#5a2020" stroke-width="0.5"/>
<circle cx="500.60" cy="451.80" r="4.91" fill="#6b0a10" stroke="#5a2020" stroke-width="0.5"/>
<circle cx="517.10" cy="451.80" r="5.61" fill="#6b0a10" stroke="#5a2020" stroke-width="0.5"/>
<circle cx="533.60" cy="451.80" r="0.50" fill="#b0a0a0"/>
<circle cx="550.10" cy="451.80" r="5.08" fill="#f5c4ae" stroke="#7a5a5a" stroke-width="0.5"/>
<circle cx="566.60" cy="451.80" r="3.85" fill="#ef8a6c" stroke="#5a2020" stroke-width="0.5"/>
<circle cx="583.10" cy="451.80" r="4.56" fill="#f8ddd0" stroke="#7a5a5a" stroke-width="0.5"/>
<circle cx="599.60" cy="451.80" r="1.75" fill="#fbf0ea" stroke="#7a5a5a" stroke-width="0.5"/>
<circle cx="616.10" cy="451.80" r="5.08" fill="#8a1015" stroke="#5a2020" stroke-width="0.5"/>
<circle cx="632.60" cy="451.80" r="5.61" fill="#c82020" stroke="#5a2020" stroke-width="0.5"/>
<circle cx="71.60" cy="465.00" r="4.03" fill="#fbf0ea" stroke="#7a5a5a" stroke-width="0.5"/>
<circle cx="88.10" cy="465.00" r="1.75" fill="#fbf0ea" stroke="#7a5a5a" stroke-width="0.5"/>
<circle cx="104.60" cy="465.00" r="1.75" fill="#fbf0ea" stroke="#7a5a5a" stroke-width="0.5"/>
<circle cx="121.10" cy="465.00" r="2.63" fill="#fbf0ea" stroke="#7a5a5a" stroke-width="0.5"/>
<circle cx="137.60" cy="465.00" r="2.98" fill="#f8ddd0" stroke="#7a5a5a" stroke-width="0.5"/>
<circle cx="154.10" cy="465.00" r="1.58" fill="#fbf0ea" stroke="#7a5a5a" stroke-width="0.5"/>
<circle cx="170.60" cy="465.00" r="1.58" fill="#fbf0ea" stroke="#7a5a5a" stroke-width="0.5"/>
<circle cx="187.10" cy="465.00" r="4.38" fill="#ec5040" stroke="#5a2020" stroke-width="0.5"/>
<circle cx="203.60" cy="465.00" r="3.85" fill="#e03028" stroke="#5a2020" stroke-width="0.5"/>
<circle cx="220.10" cy="465.00" r="5.43" fill="#6b0a10" stroke="#5a2020" stroke-width="0.5"/>
<circle cx="236.60" cy="465.00" r="4.38" fill="#6b0a10" stroke="#5a2020" stroke-width="0.5"/>
<circle cx="253.10" cy="465.00" r="4.91" fill="#e03028" stroke="#5a2020" stroke-width="0.5"/>
<circle cx="269.60" cy="465.00" r="0.53" fill="#b0a0a0"/>
<circle cx="286.10" cy="465.00" r="2.63" fill="#ef8a6c" stroke="#5a2020" stroke-width="0.5"/>
<circle cx="319.10" cy="465.00" r="5.61" fill="#c82020" stroke="#5a2020" stroke-width="0.5"/>
<circle cx="335.60" cy="465.00" r="4.91" fill="#e03028" stroke="#5a2020" stroke-width="0.5"/>
<circle cx="352.10" cy="465.00" r="5.61" fill="#c82020" stroke="#5a2020" stroke-width="0.5"/>
<circle cx="368.60" cy="465.00" r="5.26" fill="#8a1015" stroke="#5a2020" stroke-width="0.5"/>
<circle cx="385.10" cy="465.00" r="3.85" fill="#ec5040" stroke="#5a2020" stroke-width="0.5"/>
<circle cx="401.60" cy="465.00" r="5.43" fill="#f5c4ae" stroke="#7a5a5a" stroke-width="0.5"/>
<circle cx="418.10" cy="465.00" r="5.08" fill="#f5c4ae" stroke="#7a5a5a" stroke-width="0.5"/>
<circle cx="434.60" cy="465.00" r="5.43" fill="#ef8a6c" stroke="#5a2020" stroke-width="0.5"/>
<circle cx="451.10" cy="465.00" r="5.61" fill="#c82020" stroke="#5a2020" stroke-width="0.5"/>
<circle cx="467.60" cy="465.00" r="4.03" fill="#ec5040" stroke="#5a2020" stroke-width="0.5"/>
<circle cx="484.10" cy="465.00" r="5.08" fill="#e03028" stroke="#5a2020" stroke-width="0.5"/>
<circle cx="500.60" cy="465.00" r="2.45" fill="#f8ddd0" stroke="#7a5a5a" stroke-width="0.5"/>
<circle cx="517.10" cy="465.00" r="5.43" fill="#e03028" stroke="#5a2020" stroke-width="0.5"/>
<circle cx="533.60" cy="465.00" r="5.61" fill="#6b0a10" stroke="#5a2020" stroke-width="0.5"/>
<circle cx="550.10" cy="465.00" r="5.43" fill="#6b0a10" stroke="#5a2020" stroke-width="0.5"/>
<circle cx="566.60" cy="465.00" r="5.43" fill="#6b0a10" stroke="#5a2020" stroke-width="0.5"/>
<circle cx="583.10" cy="465.00" r="5.43" fill="#6b0a10" stroke="#5a2020" stroke-width="0.5"/>
<circle cx="599.60" cy="465.00" r="4.38" fill="#6b0a10" stroke="#5a2020" stroke-width="0.5"/>
<circle cx="616.10" cy="465.00" r="5.08" fill="#8a1015" stroke="#5a2020" stroke-width="0.5"/>
<circle cx="632.60" cy="465.00" r="5.61" fill="#c82020" stroke="#5a2020" stroke-width="0.5"/>
<text x="53.5" y="417.20000000000005" font-size="13" text-anchor="end" fill="#111" stroke="#111" stroke-width="0.25" >5</text>
<line x1="55.8" y1="412.6" x2="58.5" y2="412.6" stroke="#444" stroke-width="0.8"/>
<text x="53.5" y="430.40000000000003" font-size="13" text-anchor="end" fill="#111" stroke="#111" stroke-width="0.25" >13</text>
<line x1="55.8" y1="425.8" x2="58.5" y2="425.8" stroke="#444" stroke-width="0.8"/>
<text x="53.5" y="443.40000000000003" font-size="13" text-anchor="end" fill="#111" stroke="#111" stroke-width="0.25" >36</text>
<line x1="55.8" y1="438.8" x2="58.5" y2="438.8" stroke="#444" stroke-width="0.8"/>
<text x="53.5" y="456.40000000000003" font-size="13" text-anchor="end" fill="#111" stroke="#111" stroke-width="0.25" >18</text>
<line x1="55.8" y1="451.8" x2="58.5" y2="451.8" stroke="#444" stroke-width="0.8"/>
<text x="53.5" y="469.6" font-size="13" text-anchor="end" fill="#111" stroke="#111" stroke-width="0.25" >39</text>
<line x1="55.8" y1="465.0" x2="58.5" y2="465.0" stroke="#444" stroke-width="0.8"/>
<line x1="71.6" y1="478.2" x2="71.6" y2="481.6" stroke="#444" stroke-width="0.8"/>
<text transform="translate(74.8,484.2) rotate(-90)" font-size="13" text-anchor="end" fill="#111" stroke="#111" stroke-width="0.25">Sp7</text>
<line x1="88.1" y1="478.2" x2="88.1" y2="481.6" stroke="#444" stroke-width="0.8"/>
<text transform="translate(91.3,484.2) rotate(-90)" font-size="13" text-anchor="end" fill="#111" stroke="#111" stroke-width="0.25">Panx3</text>
<line x1="104.6" y1="478.2" x2="104.6" y2="481.6" stroke="#444" stroke-width="0.8"/>
<text transform="translate(107.8,484.2) rotate(-90)" font-size="13" text-anchor="end" fill="#111" stroke="#111" stroke-width="0.25">Ibsp</text>
<line x1="121.1" y1="478.2" x2="121.1" y2="481.6" stroke="#444" stroke-width="0.8"/>
<text transform="translate(124.3,484.2) rotate(-90)" font-size="13" text-anchor="end" fill="#111" stroke="#111" stroke-width="0.25">Ifitm3</text>
<line x1="137.6" y1="478.2" x2="137.6" y2="481.6" stroke="#444" stroke-width="0.8"/>
<text transform="translate(140.79999999999998,484.2) rotate(-90)" font-size="13" text-anchor="end" fill="#111" stroke="#111" stroke-width="0.25">Sox6</text>
<line x1="154.1" y1="478.2" x2="154.1" y2="481.6" stroke="#444" stroke-width="0.8"/>
<text transform="translate(157.29999999999998,484.2) rotate(-90)" font-size="13" text-anchor="end" fill="#111" stroke="#111" stroke-width="0.25">Smpd3</text>
<line x1="170.6" y1="478.2" x2="170.6" y2="481.6" stroke="#444" stroke-width="0.8"/>
<text transform="translate(173.79999999999998,484.2) rotate(-90)" font-size="13" text-anchor="end" fill="#111" stroke="#111" stroke-width="0.25">Cfh</text>
<line x1="187.1" y1="478.2" x2="187.1" y2="481.6" stroke="#444" stroke-width="0.8"/>
<text transform="translate(190.29999999999998,484.2) rotate(-90)" font-size="13" text-anchor="end" fill="#111" stroke="#111" stroke-width="0.25">Vcam1</text>
<line x1="203.6" y1="478.2" x2="203.6" y2="481.6" stroke="#444" stroke-width="0.8"/>
<text transform="translate(206.79999999999998,484.2) rotate(-90)" font-size="13" text-anchor="end" fill="#111" stroke="#111" stroke-width="0.25">Osr1</text>
<line x1="220.1" y1="478.2" x2="220.1" y2="481.6" stroke="#444" stroke-width="0.8"/>
<text transform="translate(223.29999999999998,484.2) rotate(-90)" font-size="13" text-anchor="end" fill="#111" stroke="#111" stroke-width="0.25">Shox2</text>
<line x1="236.6" y1="478.2" x2="236.6" y2="481.6" stroke="#444" stroke-width="0.8"/>
<text transform="translate(239.79999999999998,484.2) rotate(-90)" font-size="13" text-anchor="end" fill="#111" stroke="#111" stroke-width="0.25">Ntrk2</text>
<line x1="253.1" y1="478.2" x2="253.1" y2="481.6" stroke="#444" stroke-width="0.8"/>
<text transform="translate(256.3,484.2) rotate(-90)" font-size="13" text-anchor="end" fill="#111" stroke="#111" stroke-width="0.25">Epha4</text>
<line x1="269.6" y1="478.2" x2="269.6" y2="481.6" stroke="#444" stroke-width="0.8"/>
<text transform="translate(272.8,484.2) rotate(-90)" font-size="13" text-anchor="end" fill="#111" stroke="#111" stroke-width="0.25">Pax3</text>
<line x1="286.1" y1="478.2" x2="286.1" y2="481.6" stroke="#444" stroke-width="0.8"/>
<text transform="translate(289.3,484.2) rotate(-90)" font-size="13" text-anchor="end" fill="#111" stroke="#111" stroke-width="0.25">Ntrk3</text>
<line x1="302.6" y1="478.2" x2="302.6" y2="481.6" stroke="#444" stroke-width="0.8"/>
<text transform="translate(305.8,484.2) rotate(-90)" font-size="13" text-anchor="end" fill="#111" stroke="#111" stroke-width="0.25">Calca</text>
<line x1="319.1" y1="478.2" x2="319.1" y2="481.6" stroke="#444" stroke-width="0.8"/>
<text transform="translate(322.3,484.2) rotate(-90)" font-size="13" text-anchor="end" fill="#111" stroke="#111" stroke-width="0.25">Msx1</text>
<line x1="335.6" y1="478.2" x2="335.6" y2="481.6" stroke="#444" stroke-width="0.8"/>
<text transform="translate(338.8,484.2) rotate(-90)" font-size="13" text-anchor="end" fill="#111" stroke="#111" stroke-width="0.25">Sostdc1</text>
<line x1="352.1" y1="478.2" x2="352.1" y2="481.6" stroke="#444" stroke-width="0.8"/>
<text transform="translate(355.3,484.2) rotate(-90)" font-size="13" text-anchor="end" fill="#111" stroke="#111" stroke-width="0.25">Lhx6</text>
<line x1="368.6" y1="478.2" x2="368.6" y2="481.6" stroke="#444" stroke-width="0.8"/>
<text transform="translate(371.8,484.2) rotate(-90)" font-size="13" text-anchor="end" fill="#111" stroke="#111" stroke-width="0.25">Dlx1</text>
<line x1="385.1" y1="478.2" x2="385.1" y2="481.6" stroke="#444" stroke-width="0.8"/>
<text transform="translate(388.3,484.2) rotate(-90)" font-size="13" text-anchor="end" fill="#111" stroke="#111" stroke-width="0.25">Tfap2b</text>
<line x1="401.6" y1="478.2" x2="401.6" y2="481.6" stroke="#444" stroke-width="0.8"/>
<text transform="translate(404.8,484.2) rotate(-90)" font-size="13" text-anchor="end" fill="#111" stroke="#111" stroke-width="0.25">Dlx2</text>
<line x1="418.1" y1="478.2" x2="418.1" y2="481.6" stroke="#444" stroke-width="0.8"/>
<text transform="translate(421.3,484.2) rotate(-90)" font-size="13" text-anchor="end" fill="#111" stroke="#111" stroke-width="0.25">Dlx2</text>
<line x1="434.6" y1="478.2" x2="434.6" y2="481.6" stroke="#444" stroke-width="0.8"/>
<text transform="translate(437.8,484.2) rotate(-90)" font-size="13" text-anchor="end" fill="#111" stroke="#111" stroke-width="0.25">Barx1</text>
<line x1="451.1" y1="478.2" x2="451.1" y2="481.6" stroke="#444" stroke-width="0.8"/>
<text transform="translate(454.3,484.2) rotate(-90)" font-size="13" text-anchor="end" fill="#111" stroke="#111" stroke-width="0.25">Msx1</text>
<line x1="467.6" y1="478.2" x2="467.6" y2="481.6" stroke="#444" stroke-width="0.8"/>
<text transform="translate(470.8,484.2) rotate(-90)" font-size="13" text-anchor="end" fill="#111" stroke="#111" stroke-width="0.25">Tfap2b</text>
<line x1="484.1" y1="478.2" x2="484.1" y2="481.6" stroke="#444" stroke-width="0.8"/>
<text transform="translate(487.3,484.2) rotate(-90)" font-size="13" text-anchor="end" fill="#111" stroke="#111" stroke-width="0.25">Sostdc1</text>
<line x1="500.6" y1="478.2" x2="500.6" y2="481.6" stroke="#444" stroke-width="0.8"/>
<text transform="translate(503.8,484.2) rotate(-90)" font-size="13" text-anchor="end" fill="#111" stroke="#111" stroke-width="0.25">Lef1</text>
<line x1="517.1" y1="478.2" x2="517.1" y2="481.6" stroke="#444" stroke-width="0.8"/>
<text transform="translate(520.3000000000001,484.2) rotate(-90)" font-size="13" text-anchor="end" fill="#111" stroke="#111" stroke-width="0.25">Inhba</text>
<line x1="533.6" y1="478.2" x2="533.6" y2="481.6" stroke="#444" stroke-width="0.8"/>
<text transform="translate(536.8000000000001,484.2) rotate(-90)" font-size="13" text-anchor="end" fill="#111" stroke="#111" stroke-width="0.25">Cxcl5</text>
<line x1="550.1" y1="478.2" x2="550.1" y2="481.6" stroke="#444" stroke-width="0.8"/>
<text transform="translate(553.3000000000001,484.2) rotate(-90)" font-size="13" text-anchor="end" fill="#111" stroke="#111" stroke-width="0.25">Foxf1</text>
<line x1="566.6" y1="478.2" x2="566.6" y2="481.6" stroke="#444" stroke-width="0.8"/>
<text transform="translate(569.8000000000001,484.2) rotate(-90)" font-size="13" text-anchor="end" fill="#111" stroke="#111" stroke-width="0.25">Foxf2</text>
<line x1="583.1" y1="478.2" x2="583.1" y2="481.6" stroke="#444" stroke-width="0.8"/>
<text transform="translate(586.3000000000001,484.2) rotate(-90)" font-size="13" text-anchor="end" fill="#111" stroke="#111" stroke-width="0.25">Shox2</text>
<line x1="599.6" y1="478.2" x2="599.6" y2="481.6" stroke="#444" stroke-width="0.8"/>
<text transform="translate(602.8000000000001,484.2) rotate(-90)" font-size="13" text-anchor="end" fill="#111" stroke="#111" stroke-width="0.25">Ntrx2</text>
<line x1="616.1" y1="478.2" x2="616.1" y2="481.6" stroke="#444" stroke-width="0.8"/>
<text transform="translate(619.3000000000001,484.2) rotate(-90)" font-size="13" text-anchor="end" fill="#111" stroke="#111" stroke-width="0.25">Dlx1</text>
<line x1="632.6" y1="478.2" x2="632.6" y2="481.6" stroke="#444" stroke-width="0.8"/>
<text transform="translate(635.8000000000001,484.2) rotate(-90)" font-size="13" text-anchor="end" fill="#111" stroke="#111" stroke-width="0.25">Msx1</text>
<rect x="66.3" y="386.6" width="108.3" height="5" fill="#fc56fc"/>
<path d="M66.8 399.8 V394.6 H174.1 V399.8" fill="none" stroke="#222" stroke-width="1"/>
<text x="120.4" y="382.0" font-size="14.5" text-anchor="middle" fill="#111" stroke="#111" stroke-width="0.25" >5</text>
<rect x="181.8" y="386.6" width="108.3" height="5" fill="#cfdc6c"/>
<path d="M182.3 399.8 V394.6 H289.6 V399.8" fill="none" stroke="#222" stroke-width="1"/>
<text x="235.9" y="382.0" font-size="14.5" text-anchor="middle" fill="#111" stroke="#111" stroke-width="0.25" >13</text>
<rect x="297.3" y="386.6" width="108.3" height="5" fill="#3d5a8a"/>
<path d="M297.8 399.8 V394.6 H405.1 V399.8" fill="none" stroke="#222" stroke-width="1"/>
<text x="351.5" y="382.0" font-size="14.5" text-anchor="middle" fill="#111" stroke="#111" stroke-width="0.25" >36</text>
<rect x="412.8" y="386.6" width="108.3" height="5" fill="#f05a24"/>
<path d="M413.3 399.8 V394.6 H520.6 V399.8" fill="none" stroke="#222" stroke-width="1"/>
<text x="467.0" y="382.0" font-size="14.5" text-anchor="middle" fill="#111" stroke="#111" stroke-width="0.25" >18</text>
<rect x="528.3" y="386.6" width="108.3" height="5" fill="#7df5a8"/>
<path d="M528.8 399.8 V394.6 H636.1 V399.8" fill="none" stroke="#222" stroke-width="1"/>
<text x="582.5" y="382.0" font-size="14.5" text-anchor="middle" fill="#111" stroke="#111" stroke-width="0.25" >39</text>
<text x="120.6" y="358.6" font-size="14.8" text-anchor="middle" fill="#111" stroke="#111" stroke-width="0.25" >Osteogenic</text>
<line x1="75" y1="364" x2="166.6" y2="364" stroke="#555" stroke-width="1"/>
<text x="236" y="358.6" font-size="14.8" text-anchor="middle" fill="#111" stroke="#111" stroke-width="0.25" >Midline</text>
<line x1="190.4" y1="364" x2="281.4" y2="364" stroke="#555" stroke-width="1"/>
<text x="411" y="358.6" font-size="14.8" text-anchor="middle" fill="#111" stroke="#111" stroke-width="0.25" >Odontogenic</text>
<line x1="317.5" y1="364" x2="500" y2="364" stroke="#555" stroke-width="1"/>
<text x="581.6" y="358.6" font-size="14.8" text-anchor="middle" fill="#111" stroke="#111" stroke-width="0.25" >Fibroblastic</text>
<line x1="536.5" y1="364" x2="628" y2="364" stroke="#555" stroke-width="1"/>
<line x1="646.2" y1="412.6" x2="680.6" y2="412.6" stroke="#555" stroke-width="1.3"/>
<line x1="680.6" y1="412.6" x2="680.6" y2="437.1" stroke="#555" stroke-width="1.3"/>
<line x1="671.7" y1="437.1" x2="680.6" y2="437.1" stroke="#555" stroke-width="1.3"/>
<line x1="646.2" y1="425.8" x2="671.7" y2="425.8" stroke="#555" stroke-width="1.3"/>
<line x1="671.7" y1="425.8" x2="671.7" y2="448.4" stroke="#555" stroke-width="1.3"/>
<line x1="664.1" y1="448.4" x2="671.7" y2="448.4" stroke="#555" stroke-width="1.3"/>
<line x1="646.2" y1="438.8" x2="664.1" y2="438.8" stroke="#555" stroke-width="1.3"/>
<line x1="664.1" y1="438.8" x2="664.1" y2="458.4" stroke="#555" stroke-width="1.3"/>
<line x1="661.4" y1="458.4" x2="664.1" y2="458.4" stroke="#555" stroke-width="1.3"/>
<line x1="646.2" y1="451.8" x2="661.4" y2="451.8" stroke="#555" stroke-width="1.3"/>
<line x1="661.4" y1="451.8" x2="661.4" y2="465.0" stroke="#555" stroke-width="1.3"/>
<line x1="646.2" y1="465.0" x2="661.4" y2="465.0" stroke="#555" stroke-width="1.3"/>
<path d="M58.0 944.3 H651.2 V1055.4 H58.0 Z" fill="#fdfdfd" stroke="#444" stroke-width="1"/>
<circle cx="69.30" cy="956.90" r="5.25" fill="#f8ddd0" stroke="#7a5a5a" stroke-width="0.5"/>
<circle cx="83.92" cy="956.90" r="4.16" fill="#ec5040" stroke="#5a2020" stroke-width="0.5"/>
<circle cx="98.54" cy="956.90" r="4.60" fill="#6b0a10" stroke="#5a2020" stroke-width="0.5"/>
<circle cx="113.16" cy="956.90" r="4.82" fill="#f2a78c" stroke="#7a5a5a" stroke-width="0.5"/>
<circle cx="127.78" cy="956.90" r="4.82" fill="#6b0a10" stroke="#5a2020" stroke-width="0.5"/>
<circle cx="142.40" cy="956.90" r="0.50" fill="#b0a0a0"/>
<circle cx="157.02" cy="956.90" r="5.25" fill="#f8ddd0" stroke="#7a5a5a" stroke-width="0.5"/>
<circle cx="171.64" cy="956.90" r="2.41" fill="#fbf0ea" stroke="#7a5a5a" stroke-width="0.5"/>
<circle cx="186.26" cy="956.90" r="4.16" fill="#f5c4ae" stroke="#7a5a5a" stroke-width="0.5"/>
<circle cx="200.88" cy="956.90" r="2.19" fill="#f2a78c" stroke="#7a5a5a" stroke-width="0.5"/>
<circle cx="215.50" cy="956.90" r="0.50" fill="#b0a0a0"/>
<circle cx="230.12" cy="956.90" r="5.25" fill="#f8ddd0" stroke="#7a5a5a" stroke-width="0.5"/>
<circle cx="244.74" cy="956.90" r="2.19" fill="#fbf0ea" stroke="#7a5a5a" stroke-width="0.5"/>
<circle cx="259.36" cy="956.90" r="4.16" fill="#f8ddd0" stroke="#7a5a5a" stroke-width="0.5"/>
<circle cx="288.60" cy="956.90" r="2.85" fill="#f2a78c" stroke="#7a5a5a" stroke-width="0.5"/>
<circle cx="303.22" cy="956.90" r="3.07" fill="#f2a78c" stroke="#7a5a5a" stroke-width="0.5"/>
<circle cx="317.84" cy="956.90" r="2.63" fill="#f2a78c" stroke="#7a5a5a" stroke-width="0.5"/>
<circle cx="332.46" cy="956.90" r="3.72" fill="#f2a78c" stroke="#7a5a5a" stroke-width="0.5"/>
<circle cx="347.08" cy="956.90" r="1.75" fill="#f5c4ae" stroke="#7a5a5a" stroke-width="0.5"/>
<circle cx="361.70" cy="956.90" r="3.28" fill="#6b0a10" stroke="#5a2020" stroke-width="0.5"/>
<circle cx="376.32" cy="956.90" r="2.63" fill="#f2a78c" stroke="#7a5a5a" stroke-width="0.5"/>
<circle cx="390.94" cy="956.90" r="3.28" fill="#6b0a10" stroke="#5a2020" stroke-width="0.5"/>
<circle cx="405.56" cy="956.90" r="2.85" fill="#f2a78c" stroke="#7a5a5a" stroke-width="0.5"/>
<circle cx="420.18" cy="956.90" r="3.28" fill="#6b0a10" stroke="#5a2020" stroke-width="0.5"/>
<circle cx="434.80" cy="956.90" r="0.50" fill="#b0a0a0"/>
<circle cx="449.42" cy="956.90" r="3.07" fill="#f2a78c" stroke="#7a5a5a" stroke-width="0.5"/>
<circle cx="464.04" cy="956.90" r="3.72" fill="#6b0a10" stroke="#5a2020" stroke-width="0.5"/>
<circle cx="478.66" cy="956.90" r="3.07" fill="#fbf0ea" stroke="#7a5a5a" stroke-width="0.5"/>
<circle cx="493.28" cy="956.90" r="4.38" fill="#6b0a10" stroke="#5a2020" stroke-width="0.5"/>
<circle cx="522.52" cy="956.90" r="4.82" fill="#f2a78c" stroke="#7a5a5a" stroke-width="0.5"/>
<circle cx="537.14" cy="956.90" r="4.38" fill="#6b0a10" stroke="#5a2020" stroke-width="0.5"/>
<circle cx="551.76" cy="956.90" r="3.28" fill="#8a1015" stroke="#5a2020" stroke-width="0.5"/>
<circle cx="566.38" cy="956.90" r="4.16" fill="#6b0a10" stroke="#5a2020" stroke-width="0.5"/>
<circle cx="581.00" cy="956.90" r="1.53" fill="#fbf0ea" stroke="#7a5a5a" stroke-width="0.5"/>
<circle cx="595.62" cy="956.90" r="2.19" fill="#fbf0ea" stroke="#7a5a5a" stroke-width="0.5"/>
<circle cx="610.24" cy="956.90" r="4.38" fill="#8a1015" stroke="#5a2020" stroke-width="0.5"/>
<circle cx="624.86" cy="956.90" r="4.60" fill="#f2a78c" stroke="#7a5a5a" stroke-width="0.5"/>
<circle cx="639.48" cy="956.90" r="3.28" fill="#ec5040" stroke="#5a2020" stroke-width="0.5"/>
<circle cx="69.30" cy="969.25" r="5.25" fill="#a81818" stroke="#5a2020" stroke-width="0.5"/>
<circle cx="83.92" cy="969.25" r="5.25" fill="#a81818" stroke="#5a2020" stroke-width="0.5"/>
<circle cx="98.54" cy="969.25" r="4.82" fill="#ec5040" stroke="#5a2020" stroke-width="0.5"/>
<circle cx="113.16" cy="969.25" r="5.25" fill="#c82020" stroke="#5a2020" stroke-width="0.5"/>
<circle cx="127.78" cy="969.25" r="3.94" fill="#f8ddd0" stroke="#7a5a5a" stroke-width="0.5"/>
<circle cx="142.40" cy="969.25" r="5.25" fill="#c82020" stroke="#5a2020" stroke-width="0.5"/>
<circle cx="157.02" cy="969.25" r="5.25" fill="#a81818" stroke="#5a2020" stroke-width="0.5"/>
<circle cx="171.64" cy="969.25" r="5.25" fill="#a81818" stroke="#5a2020" stroke-width="0.5"/>
<circle cx="186.26" cy="969.25" r="5.25" fill="#e03028" stroke="#5a2020" stroke-width="0.5"/>
<circle cx="200.88" cy="969.25" r="5.25" fill="#6b0a10" stroke="#5a2020" stroke-width="0.5"/>
<circle cx="215.50" cy="969.25" r="5.25" fill="#c82020" stroke="#5a2020" stroke-width="0.5"/>
<circle cx="230.12" cy="969.25" r="5.25" fill="#a81818" stroke="#5a2020" stroke-width="0.5"/>
<circle cx="244.74" cy="969.25" r="5.25" fill="#a81818" stroke="#5a2020" stroke-width="0.5"/>
<circle cx="259.36" cy="969.25" r="5.25" fill="#e03028" stroke="#5a2020" stroke-width="0.5"/>
<circle cx="288.60" cy="969.25" r="0.50" fill="#b0a0a0"/>
<circle cx="303.22" cy="969.25" r="1.75" fill="#fbf0ea" stroke="#7a5a5a" stroke-width="0.5"/>
<circle cx="317.84" cy="969.25" r="0.50" fill="#b0a0a0"/>
<circle cx="332.46" cy="969.25" r="3.28" fill="#fbf0ea" stroke="#7a5a5a" stroke-width="0.5"/>
<circle cx="347.08" cy="969.25" r="0.50" fill="#b0a0a0"/>
<circle cx="361.70" cy="969.25" r="0.50" fill="#b0a0a0"/>
<circle cx="376.32" cy="969.25" r="0.50" fill="#b0a0a0"/>
<circle cx="390.94" cy="969.25" r="3.94" fill="#6b0a10" stroke="#5a2020" stroke-width="0.5"/>
<circle cx="405.56" cy="969.25" r="0.50" fill="#b0a0a0"/>
<circle cx="420.18" cy="969.25" r="3.94" fill="#8a1015" stroke="#5a2020" stroke-width="0.5"/>
<circle cx="434.80" cy="969.25" r="0.66" fill="#b0a0a0"/>
<circle cx="449.42" cy="969.25" r="3.50" fill="#f5c4ae" stroke="#7a5a5a" stroke-width="0.5"/>
<circle cx="464.04" cy="969.25" r="0.88" fill="#b0a0a0"/>
<circle cx="478.66" cy="969.25" r="4.16" fill="#fbf0ea" stroke="#7a5a5a" stroke-width="0.5"/>
<circle cx="493.28" cy="969.25" r="4.38" fill="#ec5040" stroke="#5a2020" stroke-width="0.5"/>
<circle cx="522.52" cy="969.25" r="5.25" fill="#c82020" stroke="#5a2020" stroke-width="0.5"/>
<circle cx="537.14" cy="969.25" r="4.60" fill="#ec5040" stroke="#5a2020" stroke-width="0.5"/>
<circle cx="551.76" cy="969.25" r="3.94" fill="#f2a78c" stroke="#7a5a5a" stroke-width="0.5"/>
<circle cx="566.38" cy="969.25" r="1.97" fill="#fbf0ea" stroke="#7a5a5a" stroke-width="0.5"/>
<circle cx="581.00" cy="969.25" r="3.50" fill="#f2a78c" stroke="#7a5a5a" stroke-width="0.5"/>
<circle cx="595.62" cy="969.25" r="5.25" fill="#a81818" stroke="#5a2020" stroke-width="0.5"/>
<circle cx="610.24" cy="969.25" r="4.38" fill="#f2a78c" stroke="#7a5a5a" stroke-width="0.5"/>
<circle cx="624.86" cy="969.25" r="5.25" fill="#c82020" stroke="#5a2020" stroke-width="0.5"/>
<circle cx="639.48" cy="969.25" r="4.82" fill="#a81818" stroke="#5a2020" stroke-width="0.5"/>
<circle cx="69.30" cy="981.60" r="5.25" fill="#6b0a10" stroke="#5a2020" stroke-width="0.5"/>
<circle cx="83.92" cy="981.60" r="5.25" fill="#6b0a10" stroke="#5a2020" stroke-width="0.5"/>
<circle cx="98.54" cy="981.60" r="5.25" fill="#a81818" stroke="#5a2020" stroke-width="0.5"/>
<circle cx="113.16" cy="981.60" r="5.25" fill="#6b0a10" stroke="#5a2020" stroke-width="0.5"/>
<circle cx="127.78" cy="981.60" r="4.38" fill="#f8ddd0" stroke="#7a5a5a" stroke-width="0.5"/>
<circle cx="142.40" cy="981.60" r="5.25" fill="#6b0a10" stroke="#5a2020" stroke-width="0.5"/>
<circle cx="157.02" cy="981.60" r="5.25" fill="#6b0a10" stroke="#5a2020" stroke-width="0.5"/>
<circle cx="171.64" cy="981.60" r="5.25" fill="#6b0a10" stroke="#5a2020" stroke-width="0.5"/>
<circle cx="186.26" cy="981.60" r="5.25" fill="#6b0a10" stroke="#5a2020" stroke-width="0.5"/>
<circle cx="200.88" cy="981.60" r="5.25" fill="#8a1015" stroke="#5a2020" stroke-width="0.5"/>
<circle cx="215.50" cy="981.60" r="5.25" fill="#6b0a10" stroke="#5a2020" stroke-width="0.5"/>
<circle cx="230.12" cy="981.60" r="5.25" fill="#6b0a10" stroke="#5a2020" stroke-width="0.5"/>
<circle cx="244.74" cy="981.60" r="5.25" fill="#6b0a10" stroke="#5a2020" stroke-width="0.5"/>
<circle cx="259.36" cy="981.60" r="5.25" fill="#6b0a10" stroke="#5a2020" stroke-width="0.5"/>
<circle cx="273.98" cy="981.60" r="5.25" fill="#6b0a10" stroke="#5a2020" stroke-width="0.5"/>
<circle cx="288.60" cy="981.60" r="0.66" fill="#b0a0a0"/>
<circle cx="303.22" cy="981.60" r="1.75" fill="#fbf0ea" stroke="#7a5a5a" stroke-width="0.5"/>
<circle cx="317.84" cy="981.60" r="0.50" fill="#b0a0a0"/>
<circle cx="332.46" cy="981.60" r="3.28" fill="#fbf0ea" stroke="#7a5a5a" stroke-width="0.5"/>
<circle cx="347.08" cy="981.60" r="0.50" fill="#b0a0a0"/>
<circle cx="361.70" cy="981.60" r="0.50" fill="#b0a0a0"/>
<circle cx="376.32" cy="981.60" r="0.66" fill="#b0a0a0"/>
<circle cx="390.94" cy="981.60" r="3.94" fill="#ec5040" stroke="#5a2020" stroke-width="0.5"/>
<circle cx="405.56" cy="981.60" r="0.50" fill="#b0a0a0"/>
<circle cx="420.18" cy="981.60" r="3.50" fill="#e03028" stroke="#5a2020" stroke-width="0.5"/>
<circle cx="434.80" cy="981.60" r="0.66" fill="#b0a0a0"/>
<circle cx="449.42" cy="981.60" r="4.38" fill="#ef8a6c" stroke="#5a2020" stroke-width="0.5"/>
<circle cx="464.04" cy="981.60" r="0.50" fill="#b0a0a0"/>
<circle cx="478.66" cy="981.60" r="4.82" fill="#fbf0ea" stroke="#7a5a5a" stroke-width="0.5"/>
<circle cx="493.28" cy="981.60" r="5.04" fill="#a81818" stroke="#5a2020" stroke-width="0.5"/>
<circle cx="507.90" cy="981.60" r="5.25" fill="#6b0a10" stroke="#5a2020" stroke-width="0.5"/>
<circle cx="522.52" cy="981.60" r="5.25" fill="#6b0a10" stroke="#5a2020" stroke-width="0.5"/>
<circle cx="537.14" cy="981.60" r="5.04" fill="#a81818" stroke="#5a2020" stroke-width="0.5"/>
<circle cx="551.76" cy="981.60" r="4.38" fill="#e03028" stroke="#5a2020" stroke-width="0.5"/>
<circle cx="566.38" cy="981.60" r="1.75" fill="#fbf0ea" stroke="#7a5a5a" stroke-width="0.5"/>
<circle cx="581.00" cy="981.60" r="2.85" fill="#f5c4ae" stroke="#7a5a5a" stroke-width="0.5"/>
<circle cx="595.62" cy="981.60" r="5.25" fill="#6b0a10" stroke="#5a2020" stroke-width="0.5"/>
<circle cx="610.24" cy="981.60" r="4.82" fill="#a81818" stroke="#5a2020" stroke-width="0.5"/>
<circle cx="624.86" cy="981.60" r="5.25" fill="#6b0a10" stroke="#5a2020" stroke-width="0.5"/>
<circle cx="639.48" cy="981.60" r="4.82" fill="#6b0a10" stroke="#5a2020" stroke-width="0.5"/>
<circle cx="83.92" cy="993.95" r="1.09" fill="#b0a0a0"/>
<circle cx="98.54" cy="993.95" r="2.19" fill="#fbf0ea" stroke="#7a5a5a" stroke-width="0.5"/>
<circle cx="113.16" cy="993.95" r="2.85" fill="#fbf0ea" stroke="#7a5a5a" stroke-width="0.5"/>
<circle cx="127.78" cy="993.95" r="3.72" fill="#fbf0ea" stroke="#7a5a5a" stroke-width="0.5"/>
<circle cx="171.64" cy="993.95" r="1.09" fill="#b0a0a0"/>
<circle cx="186.26" cy="993.95" r="3.28" fill="#fbf0ea" stroke="#7a5a5a" stroke-width="0.5"/>
<circle cx="200.88" cy="993.95" r="0.50" fill="#b0a0a0"/>
<circle cx="244.74" cy="993.95" r="1.09" fill="#b0a0a0"/>
<circle cx="259.36" cy="993.95" r="3.28" fill="#fbf0ea" stroke="#7a5a5a" stroke-width="0.5"/>
<circle cx="288.60" cy="993.95" r="5.25" fill="#6b0a10" stroke="#5a2020" stroke-width="0.5"/>
<circle cx="303.22" cy="993.95" r="5.04" fill="#6b0a10" stroke="#5a2020" stroke-width="0.5"/>
<circle cx="317.84" cy="993.95" r="5.04" fill="#c82020" stroke="#5a2020" stroke-width="0.5"/>
<circle cx="332.46" cy="993.95" r="5.04" fill="#6b0a10" stroke="#5a2020" stroke-width="0.5"/>
<circle cx="347.08" cy="993.95" r="4.38" fill="#8a1015" stroke="#5a2020" stroke-width="0.5"/>
<circle cx="361.70" cy="993.95" r="1.53" fill="#fbf0ea" stroke="#7a5a5a" stroke-width="0.5"/>
<circle cx="376.32" cy="993.95" r="5.25" fill="#c82020" stroke="#5a2020" stroke-width="0.5"/>
<circle cx="390.94" cy="993.95" r="0.50" fill="#b0a0a0"/>
<circle cx="405.56" cy="993.95" r="5.25" fill="#6b0a10" stroke="#5a2020" stroke-width="0.5"/>
<circle cx="420.18" cy="993.95" r="0.50" fill="#b0a0a0"/>
<circle cx="449.42" cy="993.95" r="1.09" fill="#b0a0a0"/>
<circle cx="464.04" cy="993.95" r="1.97" fill="#fbf0ea" stroke="#7a5a5a" stroke-width="0.5"/>
<circle cx="478.66" cy="993.95" r="1.75" fill="#fbf0ea" stroke="#7a5a5a" stroke-width="0.5"/>
<circle cx="493.28" cy="993.95" r="2.19" fill="#fbf0ea" stroke="#7a5a5a" stroke-width="0.5"/>
<circle cx="522.52" cy="993.95" r="2.85" fill="#fbf0ea" stroke="#7a5a5a" stroke-width="0.5"/>
<circle cx="537.14" cy="993.95" r="2.19" fill="#fbf0ea" stroke="#7a5a5a" stroke-width="0.5"/>
<circle cx="551.76" cy="993.95" r="2.41" fill="#fbf0ea" stroke="#7a5a5a" stroke-width="0.5"/>
<circle cx="566.38" cy="993.95" r="3.28" fill="#f5c4ae" stroke="#7a5a5a" stroke-width="0.5"/>
<circle cx="581.00" cy="993.95" r="0.50" fill="#b0a0a0"/>
<circle cx="595.62" cy="993.95" r="1.09" fill="#b0a0a0"/>
<circle cx="610.24" cy="993.95" r="3.28" fill="#fbf0ea" stroke="#7a5a5a" stroke-width="0.5"/>
<circle cx="624.86" cy="993.95" r="2.63" fill="#fbf0ea" stroke="#7a5a5a" stroke-width="0.5"/>
<circle cx="639.48" cy="993.95" r="0.88" fill="#b0a0a0"/>
<circle cx="83.92" cy="1006.30" r="4.16" fill="#f5c4ae" stroke="#7a5a5a" stroke-width="0.5"/>
<circle cx="98.54" cy="1006.30" r="3.72" fill="#f2a78c" stroke="#7a5a5a" stroke-width="0.5"/>
<circle cx="113.16" cy="1006.30" r="4.38" fill="#f8ddd0" stroke="#7a5a5a" stroke-width="0.5"/>
<circle cx="127.78" cy="1006.30" r="4.82" fill="#ef8a6c" stroke="#5a2020" stroke-width="0.5"/>
<circle cx="171.64" cy="1006.30" r="2.19" fill="#fbf0ea" stroke="#7a5a5a" stroke-width="0.5"/>
<circle cx="186.26" cy="1006.30" r="4.38" fill="#f5c4ae" stroke="#7a5a5a" stroke-width="0.5"/>
<circle cx="200.88" cy="1006.30" r="1.53" fill="#fbf0ea" stroke="#7a5a5a" stroke-width="0.5"/>
<circle cx="244.74" cy="1006.30" r="1.97" fill="#fbf0ea" stroke="#7a5a5a" stroke-width="0.5"/>
<circle cx="259.36" cy="1006.30" r="4.60" fill="#f8ddd0" stroke="#7a5a5a" stroke-width="0.5"/>
<circle cx="288.60" cy="1006.30" r="5.04" fill="#8a1015" stroke="#5a2020" stroke-width="0.5"/>
<circle cx="303.22" cy="1006.30" r="4.38" fill="#e03028" stroke="#5a2020" stroke-width="0.5"/>
<circle cx="317.84" cy="1006.30" r="5.04" fill="#6b0a10" stroke="#5a2020" stroke-width="0.5"/>
<circle cx="332.46" cy="1006.30" r="4.82" fill="#ef8a6c" stroke="#5a2020" stroke-width="0.5"/>
<circle cx="347.08" cy="1006.30" r="4.60" fill="#6b0a10" stroke="#5a2020" stroke-width="0.5"/>
<circle cx="361.70" cy="1006.30" r="4.16" fill="#6b0a10" stroke="#5a2020" stroke-width="0.5"/>
<circle cx="376.32" cy="1006.30" r="5.25" fill="#6b0a10" stroke="#5a2020" stroke-width="0.5"/>
<circle cx="390.94" cy="1006.30" r="3.72" fill="#8a1015" stroke="#5a2020" stroke-width="0.5"/>
<circle cx="405.56" cy="1006.30" r="5.25" fill="#8a1015" stroke="#5a2020" stroke-width="0.5"/>
<circle cx="420.18" cy="1006.30" r="3.72" fill="#6b0a10" stroke="#5a2020" stroke-width="0.5"/>
<circle cx="449.42" cy="1006.30" r="2.19" fill="#fbf0ea" stroke="#7a5a5a" stroke-width="0.5"/>
<circle cx="464.04" cy="1006.30" r="3.72" fill="#ec5040" stroke="#5a2020" stroke-width="0.5"/>
<circle cx="478.66" cy="1006.30" r="2.41" fill="#fbf0ea" stroke="#7a5a5a" stroke-width="0.5"/>
<circle cx="493.28" cy="1006.30" r="3.28" fill="#f2a78c" stroke="#7a5a5a" stroke-width="0.5"/>
<circle cx="522.52" cy="1006.30" r="4.16" fill="#f8ddd0" stroke="#7a5a5a" stroke-width="0.5"/>
<circle cx="537.14" cy="1006.30" r="3.72" fill="#f2a78c" stroke="#7a5a5a" stroke-width="0.5"/>
<circle cx="551.76" cy="1006.30" r="2.19" fill="#fbf0ea" stroke="#7a5a5a" stroke-width="0.5"/>
<circle cx="566.38" cy="1006.30" r="3.94" fill="#ef8a6c" stroke="#5a2020" stroke-width="0.5"/>
<circle cx="581.00" cy="1006.30" r="0.50" fill="#b0a0a0"/>
<circle cx="595.62" cy="1006.30" r="2.19" fill="#fbf0ea" stroke="#7a5a5a" stroke-width="0.5"/>
<circle cx="610.24" cy="1006.30" r="3.07" fill="#fbf0ea" stroke="#7a5a5a" stroke-width="0.5"/>
<circle cx="624.86" cy="1006.30" r="4.38" fill="#f5c4ae" stroke="#7a5a5a" stroke-width="0.5"/>
<circle cx="639.48" cy="1006.30" r="2.85" fill="#f2a78c" stroke="#7a5a5a" stroke-width="0.5"/>
<circle cx="69.30" cy="1018.65" r="1.31" fill="#b0a0a0"/>
<circle cx="83.92" cy="1018.65" r="3.07" fill="#f2a78c" stroke="#7a5a5a" stroke-width="0.5"/>
<circle cx="98.54" cy="1018.65" r="4.16" fill="#e03028" stroke="#5a2020" stroke-width="0.5"/>
<circle cx="113.16" cy="1018.65" r="4.38" fill="#f2a78c" stroke="#7a5a5a" stroke-width="0.5"/>
<circle cx="127.78" cy="1018.65" r="4.16" fill="#ec5040" stroke="#5a2020" stroke-width="0.5"/>
<circle cx="142.40" cy="1018.65" r="0.50" fill="#b0a0a0"/>
<circle cx="157.02" cy="1018.65" r="1.09" fill="#b0a0a0"/>
<circle cx="171.64" cy="1018.65" r="2.19" fill="#fbf0ea" stroke="#7a5a5a" stroke-width="0.5"/>
<circle cx="186.26" cy="1018.65" r="4.16" fill="#f8ddd0" stroke="#7a5a5a" stroke-width="0.5"/>
<circle cx="200.88" cy="1018.65" r="1.75" fill="#f5c4ae" stroke="#7a5a5a" stroke-width="0.5"/>
<circle cx="215.50" cy="1018.65" r="0.50" fill="#b0a0a0"/>
<circle cx="230.12" cy="1018.65" r="0.88" fill="#b0a0a0"/>
<circle cx="244.74" cy="1018.65" r="1.97" fill="#fbf0ea" stroke="#7a5a5a" stroke-width="0.5"/>
<circle cx="259.36" cy="1018.65" r="4.16" fill="#f8ddd0" stroke="#7a5a5a" stroke-width="0.5"/>
<circle cx="288.60" cy="1018.65" r="3.28" fill="#f2a78c" stroke="#7a5a5a" stroke-width="0.5"/>
<circle cx="303.22" cy="1018.65" r="3.28" fill="#f2a78c" stroke="#7a5a5a" stroke-width="0.5"/>
<circle cx="317.84" cy="1018.65" r="2.85" fill="#f2a78c" stroke="#7a5a5a" stroke-width="0.5"/>
<circle cx="332.46" cy="1018.65" r="4.16" fill="#ef8a6c" stroke="#5a2020" stroke-width="0.5"/>
<circle cx="347.08" cy="1018.65" r="1.97" fill="#f5c4ae" stroke="#7a5a5a" stroke-width="0.5"/>
<circle cx="361.70" cy="1018.65" r="2.63" fill="#e03028" stroke="#5a2020" stroke-width="0.5"/>
<circle cx="376.32" cy="1018.65" r="2.85" fill="#f2a78c" stroke="#7a5a5a" stroke-width="0.5"/>
<circle cx="390.94" cy="1018.65" r="2.41" fill="#6b0a10" stroke="#5a2020" stroke-width="0.5"/>
<circle cx="405.56" cy="1018.65" r="3.07" fill="#f2a78c" stroke="#7a5a5a" stroke-width="0.5"/>
<circle cx="420.18" cy="1018.65" r="2.19" fill="#a81818" stroke="#5a2020" stroke-width="0.5"/>
<circle cx="434.80" cy="1018.65" r="5.25" fill="#6b0a10" stroke="#5a2020" stroke-width="0.5"/>
<circle cx="449.42" cy="1018.65" r="3.28" fill="#6b0a10" stroke="#5a2020" stroke-width="0.5"/>
<circle cx="464.04" cy="1018.65" r="3.72" fill="#6b0a10" stroke="#5a2020" stroke-width="0.5"/>
<circle cx="478.66" cy="1018.65" r="3.50" fill="#6b0a10" stroke="#5a2020" stroke-width="0.5"/>
<circle cx="493.28" cy="1018.65" r="4.16" fill="#e03028" stroke="#5a2020" stroke-width="0.5"/>
<circle cx="522.52" cy="1018.65" r="4.38" fill="#f2a78c" stroke="#7a5a5a" stroke-width="0.5"/>
<circle cx="537.14" cy="1018.65" r="4.38" fill="#e03028" stroke="#5a2020" stroke-width="0.5"/>
<circle cx="551.76" cy="1018.65" r="3.28" fill="#c82020" stroke="#5a2020" stroke-width="0.5"/>
<circle cx="566.38" cy="1018.65" r="3.94" fill="#8a1015" stroke="#5a2020" stroke-width="0.5"/>
<circle cx="581.00" cy="1018.65" r="1.31" fill="#fbf0ea" stroke="#7a5a5a" stroke-width="0.5"/>
<circle cx="595.62" cy="1018.65" r="1.97" fill="#fbf0ea" stroke="#7a5a5a" stroke-width="0.5"/>
<circle cx="610.24" cy="1018.65" r="3.94" fill="#e03028" stroke="#5a2020" stroke-width="0.5"/>
<circle cx="624.86" cy="1018.65" r="4.16" fill="#f5c4ae" stroke="#7a5a5a" stroke-width="0.5"/>
<circle cx="639.48" cy="1018.65" r="2.63" fill="#ec5040" stroke="#5a2020" stroke-width="0.5"/>
<circle cx="69.30" cy="1031.00" r="1.31" fill="#b0a0a0"/>
<circle cx="83.92" cy="1031.00" r="3.07" fill="#f2a78c" stroke="#7a5a5a" stroke-width="0.5"/>
<circle cx="98.54" cy="1031.00" r="4.16" fill="#e03028" stroke="#5a2020" stroke-width="0.5"/>
<circle cx="113.16" cy="1031.00" r="4.60" fill="#f2a78c" stroke="#7a5a5a" stroke-width="0.5"/>
<circle cx="127.78" cy="1031.00" r="4.60" fill="#c82020" stroke="#5a2020" stroke-width="0.5"/>
<circle cx="142.40" cy="1031.00" r="0.50" fill="#b0a0a0"/>
<circle cx="157.02" cy="1031.00" r="0.88" fill="#b0a0a0"/>
<circle cx="171.64" cy="1031.00" r="1.97" fill="#fbf0ea" stroke="#7a5a5a" stroke-width="0.5"/>
<circle cx="186.26" cy="1031.00" r="4.16" fill="#f8ddd0" stroke="#7a5a5a" stroke-width="0.5"/>
<circle cx="200.88" cy="1031.00" r="1.75" fill="#fbf0ea" stroke="#7a5a5a" stroke-width="0.5"/>
<circle cx="215.50" cy="1031.00" r="0.50" fill="#b0a0a0"/>
<circle cx="230.12" cy="1031.00" r="0.88" fill="#b0a0a0"/>
<circle cx="244.74" cy="1031.00" r="1.75" fill="#fbf0ea" stroke="#7a5a5a" stroke-width="0.5"/>
<circle cx="259.36" cy="1031.00" r="4.38" fill="#f8ddd0" stroke="#7a5a5a" stroke-width="0.5"/>
<circle cx="273.98" cy="1031.00" r="5.04" fill="#a81818" stroke="#5a2020" stroke-width="0.5"/>
<circle cx="288.60" cy="1031.00" r="2.85" fill="#f2a78c" stroke="#7a5a5a" stroke-width="0.5"/>
<circle cx="303.22" cy="1031.00" r="3.28" fill="#ef8a6c" stroke="#5a2020" stroke-width="0.5"/>
<circle cx="317.84" cy="1031.00" r="2.85" fill="#f5c4ae" stroke="#7a5a5a" stroke-width="0.5"/>
<circle cx="332.46" cy="1031.00" r="4.38" fill="#ec5040" stroke="#5a2020" stroke-width="0.5"/>
<circle cx="347.08" cy="1031.00" r="1.97" fill="#f5c4ae" stroke="#7a5a5a" stroke-width="0.5"/>
<circle cx="361.70" cy="1031.00" r="2.85" fill="#8a1015" stroke="#5a2020" stroke-width="0.5"/>
<circle cx="376.32" cy="1031.00" r="2.63" fill="#f5c4ae" stroke="#7a5a5a" stroke-width="0.5"/>
<circle cx="390.94" cy="1031.00" r="2.19" fill="#e03028" stroke="#5a2020" stroke-width="0.5"/>
<circle cx="405.56" cy="1031.00" r="2.85" fill="#f2a78c" stroke="#7a5a5a" stroke-width="0.5"/>
<circle cx="420.18" cy="1031.00" r="2.19" fill="#c82020" stroke="#5a2020" stroke-width="0.5"/>
<circle cx="434.80" cy="1031.00" r="0.50" fill="#b0a0a0"/>
<circle cx="449.42" cy="1031.00" r="2.85" fill="#ec5040" stroke="#5a2020" stroke-width="0.5"/>
<circle cx="464.04" cy="1031.00" r="3.28" fill="#8a1015" stroke="#5a2020" stroke-width="0.5"/>
<circle cx="478.66" cy="1031.00" r="3.28" fill="#f5c4ae" stroke="#7a5a5a" stroke-width="0.5"/>
<circle cx="493.28" cy="1031.00" r="4.16" fill="#e03028" stroke="#5a2020" stroke-width="0.5"/>
<circle cx="507.90" cy="1031.00" r="5.25" fill="#a81818" stroke="#5a2020" stroke-width="0.5"/>
<circle cx="522.52" cy="1031.00" r="4.38" fill="#f2a78c" stroke="#7a5a5a" stroke-width="0.5"/>
<circle cx="537.14" cy="1031.00" r="4.16" fill="#e03028" stroke="#5a2020" stroke-width="0.5"/>
<circle cx="551.76" cy="1031.00" r="3.28" fill="#6b0a10" stroke="#5a2020" stroke-width="0.5"/>
<circle cx="566.38" cy="1031.00" r="4.16" fill="#a81818" stroke="#5a2020" stroke-width="0.5"/>
<circle cx="581.00" cy="1031.00" r="1.31" fill="#fbf0ea" stroke="#7a5a5a" stroke-width="0.5"/>
<circle cx="595.62" cy="1031.00" r="1.75" fill="#fbf0ea" stroke="#7a5a5a" stroke-width="0.5"/>
<circle cx="610.24" cy="1031.00" r="4.16" fill="#a81818" stroke="#5a2020" stroke-width="0.5"/>
<circle cx="624.86" cy="1031.00" r="4.60" fill="#f5c4ae" stroke="#7a5a5a" stroke-width="0.5"/>
<circle cx="639.48" cy="1031.00" r="2.63" fill="#ec5040" stroke="#5a2020" stroke-width="0.5"/>
<circle cx="69.30" cy="1043.35" r="0.50" fill="#b0a0a0"/>
<circle cx="83.92" cy="1043.35" r="3.94" fill="#f5c4ae" stroke="#7a5a5a" stroke-width="0.5"/>
<circle cx="98.54" cy="1043.35" r="3.94" fill="#f2a78c" stroke="#7a5a5a" stroke-width="0.5"/>
<circle cx="113.16" cy="1043.35" r="4.82" fill="#f2a78c" stroke="#7a5a5a" stroke-width="0.5"/>
<circle cx="127.78" cy="1043.35" r="4.82" fill="#ef8a6c" stroke="#5a2020" stroke-width="0.5"/>
<circle cx="142.40" cy="1043.35" r="0.50" fill="#b0a0a0"/>
<circle cx="157.02" cy="1043.35" r="0.50" fill="#b0a0a0"/>
<circle cx="171.64" cy="1043.35" r="4.38" fill="#f8ddd0" stroke="#7a5a5a" stroke-width="0.5"/>
<circle cx="186.26" cy="1043.35" r="4.38" fill="#f8ddd0" stroke="#7a5a5a" stroke-width="0.5"/>
<circle cx="200.88" cy="1043.35" r="1.53" fill="#fbf0ea" stroke="#7a5a5a" stroke-width="0.5"/>
<circle cx="215.50" cy="1043.35" r="0.50" fill="#b0a0a0"/>
<circle cx="230.12" cy="1043.35" r="0.50" fill="#b0a0a0"/>
<circle cx="244.74" cy="1043.35" r="4.38" fill="#f8ddd0" stroke="#7a5a5a" stroke-width="0.5"/>
<circle cx="259.36" cy="1043.35" r="4.38" fill="#f8ddd0" stroke="#7a5a5a" stroke-width="0.5"/>
<circle cx="288.60" cy="1043.35" r="3.94" fill="#ec5040" stroke="#5a2020" stroke-width="0.5"/>
<circle cx="303.22" cy="1043.35" r="3.28" fill="#f2a78c" stroke="#7a5a5a" stroke-width="0.5"/>
<circle cx="317.84" cy="1043.35" r="3.50" fill="#f2a78c" stroke="#7a5a5a" stroke-width="0.5"/>
<circle cx="332.46" cy="1043.35" r="4.38" fill="#f2a78c" stroke="#7a5a5a" stroke-width="0.5"/>
<circle cx="347.08" cy="1043.35" r="2.63" fill="#ef8a6c" stroke="#5a2020" stroke-width="0.5"/>
<circle cx="361.70" cy="1043.35" r="1.75" fill="#fbf0ea" stroke="#7a5a5a" stroke-width="0.5"/>
<circle cx="376.32" cy="1043.35" r="3.94" fill="#f2a78c" stroke="#7a5a5a" stroke-width="0.5"/>
<circle cx="390.94" cy="1043.35" r="1.31" fill="#fbf0ea" stroke="#7a5a5a" stroke-width="0.5"/>
<circle cx="405.56" cy="1043.35" r="3.94" fill="#ec5040" stroke="#5a2020" stroke-width="0.5"/>
<circle cx="420.18" cy="1043.35" r="1.31" fill="#f5c4ae" stroke="#7a5a5a" stroke-width="0.5"/>
<circle cx="449.42" cy="1043.35" r="1.97" fill="#fbf0ea" stroke="#7a5a5a" stroke-width="0.5"/>
<circle cx="464.04" cy="1043.35" r="1.09" fill="#b0a0a0"/>
<circle cx="478.66" cy="1043.35" r="3.72" fill="#fbf0ea" stroke="#7a5a5a" stroke-width="0.5"/>
<circle cx="493.28" cy="1043.35" r="3.50" fill="#f2a78c" stroke="#7a5a5a" stroke-width="0.5"/>
<circle cx="522.52" cy="1043.35" r="4.60" fill="#f2a78c" stroke="#7a5a5a" stroke-width="0.5"/>
<circle cx="537.14" cy="1043.35" r="3.72" fill="#f2a78c" stroke="#7a5a5a" stroke-width="0.5"/>
<circle cx="551.76" cy="1043.35" r="3.07" fill="#f5c4ae" stroke="#7a5a5a" stroke-width="0.5"/>
<circle cx="566.38" cy="1043.35" r="3.28" fill="#f8ddd0" stroke="#7a5a5a" stroke-width="0.5"/>
<circle cx="581.00" cy="1043.35" r="4.82" fill="#6b0a10" stroke="#5a2020" stroke-width="0.5"/>
<circle cx="595.62" cy="1043.35" r="4.38" fill="#f8ddd0" stroke="#7a5a5a" stroke-width="0.5"/>
<circle cx="610.24" cy="1043.35" r="4.82" fill="#6b0a10" stroke="#5a2020" stroke-width="0.5"/>
<circle cx="624.86" cy="1043.35" r="4.82" fill="#ef8a6c" stroke="#5a2020" stroke-width="0.5"/>
<circle cx="639.48" cy="1043.35" r="3.72" fill="#a81818" stroke="#5a2020" stroke-width="0.5"/>
<text x="53.6" y="961.6" font-size="13.4" text-anchor="end" fill="#111" stroke="#111" stroke-width="0.25" >27</text>
<line x1="55.2" y1="956.90" x2="58" y2="956.90" stroke="#444" stroke-width="0.8"/>
<text x="53.6" y="973.95" font-size="13.4" text-anchor="end" fill="#111" stroke="#111" stroke-width="0.25" >47</text>
<line x1="55.2" y1="969.25" x2="58" y2="969.25" stroke="#444" stroke-width="0.8"/>
<text x="53.6" y="986.3000000000001" font-size="13.4" text-anchor="end" fill="#111" stroke="#111" stroke-width="0.25" >49</text>
<line x1="55.2" y1="981.60" x2="58" y2="981.60" stroke="#444" stroke-width="0.8"/>
<text x="53.6" y="998.65" font-size="13.4" text-anchor="end" fill="#111" stroke="#111" stroke-width="0.25" >2</text>
<line x1="55.2" y1="993.95" x2="58" y2="993.95" stroke="#444" stroke-width="0.8"/>
<text x="53.6" y="1011.0" font-size="13.4" text-anchor="end" fill="#111" stroke="#111" stroke-width="0.25" >15</text>
<line x1="55.2" y1="1006.30" x2="58" y2="1006.30" stroke="#444" stroke-width="0.8"/>
<text x="53.6" y="1023.35" font-size="13.4" text-anchor="end" fill="#111" stroke="#111" stroke-width="0.25" >13</text>
<line x1="55.2" y1="1018.65" x2="58" y2="1018.65" stroke="#444" stroke-width="0.8"/>
<text x="53.6" y="1035.7" font-size="13.4" text-anchor="end" fill="#111" stroke="#111" stroke-width="0.25" >19</text>
<line x1="55.2" y1="1031.00" x2="58" y2="1031.00" stroke="#444" stroke-width="0.8"/>
<text x="53.6" y="1048.05" font-size="13.4" text-anchor="end" fill="#111" stroke="#111" stroke-width="0.25" >26</text>
<line x1="55.2" y1="1043.35" x2="58" y2="1043.35" stroke="#444" stroke-width="0.8"/>
<line x1="69.30" y1="1055.4" x2="69.30" y2="1059.2" stroke="#444" stroke-width="0.8"/>
<text transform="translate(72.5,1061.4) rotate(-90)" font-size="13.4" text-anchor="end" fill="#111" stroke="#111" stroke-width="0.25">Tbx22</text>
<line x1="83.92" y1="1055.4" x2="83.92" y2="1059.2" stroke="#444" stroke-width="0.8"/>
<text transform="translate(87.12,1061.4) rotate(-90)" font-size="13.4" text-anchor="end" fill="#111" stroke="#111" stroke-width="0.25">Barx1</text>
<line x1="98.54" y1="1055.4" x2="98.54" y2="1059.2" stroke="#444" stroke-width="0.8"/>
<text transform="translate(101.74,1061.4) rotate(-90)" font-size="13.4" text-anchor="end" fill="#111" stroke="#111" stroke-width="0.25">Piezo2</text>
<line x1="113.16" y1="1055.4" x2="113.16" y2="1059.2" stroke="#444" stroke-width="0.8"/>
<text transform="translate(116.36,1061.4) rotate(-90)" font-size="13.4" text-anchor="end" fill="#111" stroke="#111" stroke-width="0.25">Sema3f</text>
<line x1="127.78" y1="1055.4" x2="127.78" y2="1059.2" stroke="#444" stroke-width="0.8"/>
<text transform="translate(130.98,1061.4) rotate(-90)" font-size="13.4" text-anchor="end" fill="#111" stroke="#111" stroke-width="0.25">Osr1</text>
<line x1="142.40" y1="1055.4" x2="142.40" y2="1059.2" stroke="#444" stroke-width="0.8"/>
<text transform="translate(145.59999999999997,1061.4) rotate(-90)" font-size="13.4" text-anchor="end" fill="#111" stroke="#111" stroke-width="0.25">Pax3</text>
<line x1="157.02" y1="1055.4" x2="157.02" y2="1059.2" stroke="#444" stroke-width="0.8"/>
<text transform="translate(160.21999999999997,1061.4) rotate(-90)" font-size="13.4" text-anchor="end" fill="#111" stroke="#111" stroke-width="0.25">Tbx22</text>
<line x1="171.64" y1="1055.4" x2="171.64" y2="1059.2" stroke="#444" stroke-width="0.8"/>
<text transform="translate(174.83999999999997,1061.4) rotate(-90)" font-size="13.4" text-anchor="end" fill="#111" stroke="#111" stroke-width="0.25">Foxf2</text>
<line x1="186.26" y1="1055.4" x2="186.26" y2="1059.2" stroke="#444" stroke-width="0.8"/>
<text transform="translate(189.45999999999998,1061.4) rotate(-90)" font-size="13.4" text-anchor="end" fill="#111" stroke="#111" stroke-width="0.25">Meox2</text>
<line x1="200.88" y1="1055.4" x2="200.88" y2="1059.2" stroke="#444" stroke-width="0.8"/>
<text transform="translate(204.07999999999998,1061.4) rotate(-90)" font-size="13.4" text-anchor="end" fill="#111" stroke="#111" stroke-width="0.25">Lhx6</text>
<line x1="215.50" y1="1055.4" x2="215.50" y2="1059.2" stroke="#444" stroke-width="0.8"/>
<text transform="translate(218.7,1061.4) rotate(-90)" font-size="13.4" text-anchor="end" fill="#111" stroke="#111" stroke-width="0.25">Pax3</text>
<line x1="230.12" y1="1055.4" x2="230.12" y2="1059.2" stroke="#444" stroke-width="0.8"/>
<text transform="translate(233.32,1061.4) rotate(-90)" font-size="13.4" text-anchor="end" fill="#111" stroke="#111" stroke-width="0.25">Tbx22</text>
<line x1="244.74" y1="1055.4" x2="244.74" y2="1059.2" stroke="#444" stroke-width="0.8"/>
<text transform="translate(247.94,1061.4) rotate(-90)" font-size="13.4" text-anchor="end" fill="#111" stroke="#111" stroke-width="0.25">Foxf2</text>
<line x1="259.36" y1="1055.4" x2="259.36" y2="1059.2" stroke="#444" stroke-width="0.8"/>
<text transform="translate(262.56,1061.4) rotate(-90)" font-size="13.4" text-anchor="end" fill="#111" stroke="#111" stroke-width="0.25">Meox2</text>
<line x1="273.98" y1="1055.4" x2="273.98" y2="1059.2" stroke="#444" stroke-width="0.8"/>
<text transform="translate(277.17999999999995,1061.4) rotate(-90)" font-size="13.4" text-anchor="end" fill="#111" stroke="#111" stroke-width="0.25">Cxcl5</text>
<line x1="288.60" y1="1055.4" x2="288.60" y2="1059.2" stroke="#444" stroke-width="0.8"/>
<text transform="translate(291.79999999999995,1061.4) rotate(-90)" font-size="13.4" text-anchor="end" fill="#111" stroke="#111" stroke-width="0.25">Myog</text>
<line x1="303.22" y1="1055.4" x2="303.22" y2="1059.2" stroke="#444" stroke-width="0.8"/>
<text transform="translate(306.41999999999996,1061.4) rotate(-90)" font-size="13.4" text-anchor="end" fill="#111" stroke="#111" stroke-width="0.25">Jag2</text>
<line x1="317.84" y1="1055.4" x2="317.84" y2="1059.2" stroke="#444" stroke-width="0.8"/>
<text transform="translate(321.03999999999996,1061.4) rotate(-90)" font-size="13.4" text-anchor="end" fill="#111" stroke="#111" stroke-width="0.25">Myod1</text>
<line x1="332.46" y1="1055.4" x2="332.46" y2="1059.2" stroke="#444" stroke-width="0.8"/>
<text transform="translate(335.65999999999997,1061.4) rotate(-90)" font-size="13.4" text-anchor="end" fill="#111" stroke="#111" stroke-width="0.25">Gas6</text>
<line x1="347.08" y1="1055.4" x2="347.08" y2="1059.2" stroke="#444" stroke-width="0.8"/>
<text transform="translate(350.28,1061.4) rotate(-90)" font-size="13.4" text-anchor="end" fill="#111" stroke="#111" stroke-width="0.25">Pax7</text>
<line x1="361.70" y1="1055.4" x2="361.70" y2="1059.2" stroke="#444" stroke-width="0.8"/>
<text transform="translate(364.9,1061.4) rotate(-90)" font-size="13.4" text-anchor="end" fill="#111" stroke="#111" stroke-width="0.25">Aldh1a2</text>
<line x1="376.32" y1="1055.4" x2="376.32" y2="1059.2" stroke="#444" stroke-width="0.8"/>
<text transform="translate(379.52,1061.4) rotate(-90)" font-size="13.4" text-anchor="end" fill="#111" stroke="#111" stroke-width="0.25">Myod1</text>
<line x1="390.94" y1="1055.4" x2="390.94" y2="1059.2" stroke="#444" stroke-width="0.8"/>
<text transform="translate(394.14,1061.4) rotate(-90)" font-size="13.4" text-anchor="end" fill="#111" stroke="#111" stroke-width="0.25">Dlx1</text>
<line x1="405.56" y1="1055.4" x2="405.56" y2="1059.2" stroke="#444" stroke-width="0.8"/>
<text transform="translate(408.76,1061.4) rotate(-90)" font-size="13.4" text-anchor="end" fill="#111" stroke="#111" stroke-width="0.25">Myog</text>
<line x1="420.18" y1="1055.4" x2="420.18" y2="1059.2" stroke="#444" stroke-width="0.8"/>
<text transform="translate(423.38,1061.4) rotate(-90)" font-size="13.4" text-anchor="end" fill="#111" stroke="#111" stroke-width="0.25">Dlx2</text>
<line x1="434.80" y1="1055.4" x2="434.80" y2="1059.2" stroke="#444" stroke-width="0.8"/>
<text transform="translate(438.0,1061.4) rotate(-90)" font-size="13.4" text-anchor="end" fill="#111" stroke="#111" stroke-width="0.25">Spag17</text>
<line x1="449.42" y1="1055.4" x2="449.42" y2="1059.2" stroke="#444" stroke-width="0.8"/>
<text transform="translate(452.62,1061.4) rotate(-90)" font-size="13.4" text-anchor="end" fill="#111" stroke="#111" stroke-width="0.25">Runx2</text>
<line x1="464.04" y1="1055.4" x2="464.04" y2="1059.2" stroke="#444" stroke-width="0.8"/>
<text transform="translate(467.23999999999995,1061.4) rotate(-90)" font-size="13.4" text-anchor="end" fill="#111" stroke="#111" stroke-width="0.25">Shox2</text>
<line x1="478.66" y1="1055.4" x2="478.66" y2="1059.2" stroke="#444" stroke-width="0.8"/>
<text transform="translate(481.85999999999996,1061.4) rotate(-90)" font-size="13.4" text-anchor="end" fill="#111" stroke="#111" stroke-width="0.25">Col2a1</text>
<line x1="493.28" y1="1055.4" x2="493.28" y2="1059.2" stroke="#444" stroke-width="0.8"/>
<text transform="translate(496.47999999999996,1061.4) rotate(-90)" font-size="13.4" text-anchor="end" fill="#111" stroke="#111" stroke-width="0.25">Piezo2</text>
<line x1="507.90" y1="1055.4" x2="507.90" y2="1059.2" stroke="#444" stroke-width="0.8"/>
<text transform="translate(511.09999999999997,1061.4) rotate(-90)" font-size="13.4" text-anchor="end" fill="#111" stroke="#111" stroke-width="0.25">Cxcl5</text>
<line x1="522.52" y1="1055.4" x2="522.52" y2="1059.2" stroke="#444" stroke-width="0.8"/>
<text transform="translate(525.72,1061.4) rotate(-90)" font-size="13.4" text-anchor="end" fill="#111" stroke="#111" stroke-width="0.25">Sema3f</text>
<line x1="537.14" y1="1055.4" x2="537.14" y2="1059.2" stroke="#444" stroke-width="0.8"/>
<text transform="translate(540.34,1061.4) rotate(-90)" font-size="13.4" text-anchor="end" fill="#111" stroke="#111" stroke-width="0.25">Piezo2</text>
<line x1="551.76" y1="1055.4" x2="551.76" y2="1059.2" stroke="#444" stroke-width="0.8"/>
<text transform="translate(554.96,1061.4) rotate(-90)" font-size="13.4" text-anchor="end" fill="#111" stroke="#111" stroke-width="0.25">Tbx18</text>
<line x1="566.38" y1="1055.4" x2="566.38" y2="1059.2" stroke="#444" stroke-width="0.8"/>
<text transform="translate(569.58,1061.4) rotate(-90)" font-size="13.4" text-anchor="end" fill="#111" stroke="#111" stroke-width="0.25">Vcam1</text>
<line x1="581.00" y1="1055.4" x2="581.00" y2="1059.2" stroke="#444" stroke-width="0.8"/>
<text transform="translate(584.2,1061.4) rotate(-90)" font-size="13.4" text-anchor="end" fill="#111" stroke="#111" stroke-width="0.25">Foxf1</text>
<line x1="595.62" y1="1055.4" x2="595.62" y2="1059.2" stroke="#444" stroke-width="0.8"/>
<text transform="translate(598.8199999999999,1061.4) rotate(-90)" font-size="13.4" text-anchor="end" fill="#111" stroke="#111" stroke-width="0.25">Foxf2</text>
<line x1="610.24" y1="1055.4" x2="610.24" y2="1059.2" stroke="#444" stroke-width="0.8"/>
<text transform="translate(613.4399999999999,1061.4) rotate(-90)" font-size="13.4" text-anchor="end" fill="#111" stroke="#111" stroke-width="0.25">Igfbp7</text>
<line x1="624.86" y1="1055.4" x2="624.86" y2="1059.2" stroke="#444" stroke-width="0.8"/>
<text transform="translate(628.06,1061.4) rotate(-90)" font-size="13.4" text-anchor="end" fill="#111" stroke="#111" stroke-width="0.25">Epha4</text>
<line x1="639.48" y1="1055.4" x2="639.48" y2="1059.2" stroke="#444" stroke-width="0.8"/>
<text transform="translate(642.68,1061.4) rotate(-90)" font-size="13.4" text-anchor="end" fill="#111" stroke="#111" stroke-width="0.25">Sostdc1</text>
<rect x="64.5" y="932.1" width="66.7" height="5" fill="#a3d2ca"/>
<path d="M65.0 944.3 V940.3 H130.7 V944.3" fill="none" stroke="#222" stroke-width="1"/>
<text x="97.8" y="926.6" font-size="14.5" text-anchor="middle" fill="#111" stroke="#111" stroke-width="0.25" >27</text>
<rect x="137.6" y="932.1" width="66.7" height="5" fill="#f0f232"/>
<path d="M138.1 944.3 V940.3 H203.8 V944.3" fill="none" stroke="#222" stroke-width="1"/>
<text x="170.9" y="926.6" font-size="14.5" text-anchor="middle" fill="#111" stroke="#111" stroke-width="0.25" >47</text>
<rect x="210.7" y="932.1" width="66.7" height="5" fill="#e8a12e"/>
<path d="M211.2 944.3 V940.3 H276.9 V944.3" fill="none" stroke="#222" stroke-width="1"/>
<text x="244.0" y="926.6" font-size="14.5" text-anchor="middle" fill="#111" stroke="#111" stroke-width="0.25" >49</text>
<rect x="283.8" y="932.1" width="66.7" height="5" fill="#520a9a"/>
<path d="M284.3 944.3 V940.3 H350.0 V944.3" fill="none" stroke="#222" stroke-width="1"/>
<text x="317.1" y="926.6" font-size="14.5" text-anchor="middle" fill="#111" stroke="#111" stroke-width="0.25" >2</text>
<rect x="356.9" y="932.1" width="66.7" height="5" fill="#a9a9f7"/>
<path d="M357.4 944.3 V940.3 H423.1 V944.3" fill="none" stroke="#222" stroke-width="1"/>
<text x="390.2" y="926.6" font-size="14.5" text-anchor="middle" fill="#111" stroke="#111" stroke-width="0.25" >15</text>
<rect x="430.0" y="932.1" width="66.7" height="5" fill="#55f072"/>
<path d="M430.5 944.3 V940.3 H496.2 V944.3" fill="none" stroke="#222" stroke-width="1"/>
<text x="463.3" y="926.6" font-size="14.5" text-anchor="middle" fill="#111" stroke="#111" stroke-width="0.25" >13</text>
<rect x="503.1" y="932.1" width="66.7" height="5" fill="#f52ef2"/>
<path d="M503.6 944.3 V940.3 H569.3 V944.3" fill="none" stroke="#222" stroke-width="1"/>
<text x="536.4" y="926.6" font-size="14.5" text-anchor="middle" fill="#111" stroke="#111" stroke-width="0.25" >19</text>
<rect x="576.2" y="932.1" width="66.7" height="5" fill="#f7a8f5"/>
<path d="M576.7 944.3 V940.3 H642.4 V944.3" fill="none" stroke="#222" stroke-width="1"/>
<text x="609.5" y="926.6" font-size="14.5" text-anchor="middle" fill="#111" stroke="#111" stroke-width="0.25" >26</text>
<text x="173.8" y="899.6" font-size="14.8" text-anchor="middle" fill="#111" stroke="#111" stroke-width="0.25" >Midline</text>
<line x1="80.5" y1="904.2" x2="257.8" y2="904.2" stroke="#555" stroke-width="1"/>
<text x="354.8" y="899.6" font-size="14.8" text-anchor="middle" fill="#111" stroke="#111" stroke-width="0.25" >Myogenic</text>
<line x1="307.6" y1="904.2" x2="400.3" y2="904.2" stroke="#555" stroke-width="1"/>
<text x="460.2" y="899.6" font-size="14.8" text-anchor="middle" fill="#111" stroke="#111" stroke-width="0.25" >Perimysial</text>
<line x1="438.4" y1="904.2" x2="485" y2="904.2" stroke="#555" stroke-width="1"/>
<text x="572" y="899.6" font-size="14.8" text-anchor="middle" fill="#111" stroke="#111" stroke-width="0.25" >Fibroblastic</text>
<line x1="527.5" y1="904.2" x2="618.4" y2="904.2" stroke="#555" stroke-width="1"/>
<line x1="651.2" y1="956.9" x2="661.3" y2="956.9" stroke="#555" stroke-width="1.3"/>
<line x1="661.3" y1="956.9" x2="661.3" y2="975.4" stroke="#555" stroke-width="1.3"/>
<line x1="656.2" y1="975.4" x2="661.3" y2="975.4" stroke="#555" stroke-width="1.3"/>
<line x1="651.2" y1="969.25" x2="656.2" y2="969.25" stroke="#555" stroke-width="1.3"/>
<line x1="656.2" y1="969.25" x2="656.2" y2="981.6" stroke="#555" stroke-width="1.3"/>
<line x1="651.2" y1="981.6" x2="656.2" y2="981.6" stroke="#555" stroke-width="1.3"/>
<line x1="661.3" y1="966.1" x2="681.9" y2="966.1" stroke="#555" stroke-width="1.3"/>
<line x1="681.9" y1="966.1" x2="681.9" y2="1013.9" stroke="#555" stroke-width="1.3"/>
<line x1="651.2" y1="993.95" x2="660.4" y2="993.95" stroke="#555" stroke-width="1.3"/>
<line x1="660.4" y1="993.95" x2="660.4" y2="1006.3" stroke="#555" stroke-width="1.3"/>
<line x1="651.2" y1="1006.3" x2="660.4" y2="1006.3" stroke="#555" stroke-width="1.3"/>
<line x1="660.4" y1="1000.1" x2="674.6" y2="1000.1" stroke="#555" stroke-width="1.3"/>
<line x1="674.6" y1="1000.1" x2="674.6" y2="1027.8" stroke="#555" stroke-width="1.3"/>
<line x1="651.2" y1="1018.65" x2="671.3" y2="1018.65" stroke="#555" stroke-width="1.3"/>
<line x1="671.3" y1="1018.65" x2="671.3" y2="1037.2" stroke="#555" stroke-width="1.3"/>
<line x1="651.2" y1="1031.0" x2="669.5" y2="1031.0" stroke="#555" stroke-width="1.3"/>
<line x1="669.5" y1="1031.0" x2="669.5" y2="1043.35" stroke="#555" stroke-width="1.3"/>
<line x1="651.2" y1="1043.35" x2="669.5" y2="1043.35" stroke="#555" stroke-width="1.3"/>
<line x1="669.5" y1="1037.2" x2="671.3" y2="1037.2" stroke="#555" stroke-width="1.3"/>
<line x1="671.3" y1="1027.8" x2="674.6" y2="1027.8" stroke="#555" stroke-width="1.3"/>
<line x1="674.6" y1="1013.9" x2="681.9" y2="1013.9" stroke="#555" stroke-width="1.3"/>
</svg>
</body></html>
